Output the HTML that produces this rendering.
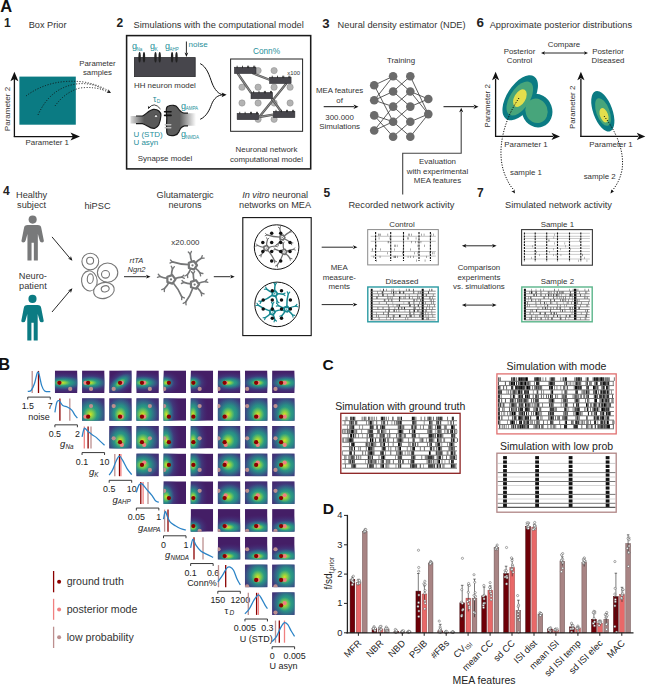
<!DOCTYPE html><html><head><meta charset="utf-8"><style>
html,body{margin:0;padding:0;background:#fff;}
svg{display:block;}
text{font-family:"Liberation Sans",sans-serif;}
</style></head><body>
<svg width="646" height="685" viewBox="0 0 646 685">
<rect width="646" height="685" fill="#fff"/>
<text x="0.3" y="11.9" font-size="16.5" text-anchor="start" fill="#111" font-weight="bold" font-style="normal" >A</text>
<text x="4.0" y="26.6" font-size="12" text-anchor="start" fill="#222" font-weight="bold" font-style="normal" >1</text>
<text x="28.7" y="27.9" font-size="9.2" text-anchor="start" fill="#333" font-weight="normal" font-style="normal" >Box Prior</text>
<rect x="19.4" y="76.6" width="56.4" height="48.1" fill="#0b7b83"/>
<line x1="14.4" y1="137.0" x2="14.4" y2="78.0" stroke="#111" stroke-width="1.3" />
<path d="M14.4,71.8 L18.4,81.3 L14.4,78.9 L10.4,81.3Z" fill="#111"/>
<line x1="13.8" y1="136.6" x2="74.0" y2="136.6" stroke="#111" stroke-width="1.3" />
<path d="M80.0,136.6 L70.5,140.6 L72.9,136.6 L70.5,132.6Z" fill="#111"/>
<text x="9.6" y="109.0" font-size="8.1" text-anchor="middle" fill="#333" font-weight="normal" font-style="normal" transform="rotate(-90 9.6 109)">Parameter 2</text>
<text x="25.6" y="145.3" font-size="7.9" text-anchor="start" fill="#333" font-weight="normal" font-style="normal" >Parameter 1</text>
<g fill="none" stroke="#111" stroke-width="0.9" stroke-dasharray="1.1 1.6">
<path d="M26,96 Q50,78 84,82 Q100,85 110,92"/>
<path d="M38,115 Q50,88 76,84 Q92,82 104,90"/>
<path d="M55,106 Q65,92 80,88 Q96,86 108,92"/>
</g>
<path d="M111.0,93.0 L106.5,92.8 L108.4,91.6 L108.4,89.3Z" fill="#111"/>
<text x="97.5" y="66.0" font-size="7.8" text-anchor="middle" fill="#333" font-weight="normal" font-style="normal" >Parameter</text>
<text x="97.5" y="75.2" font-size="7.8" text-anchor="middle" fill="#333" font-weight="normal" font-style="normal" >samples</text>
<text x="116.4" y="26.5" font-size="12" text-anchor="start" fill="#222" font-weight="bold" font-style="normal" >2</text>
<text x="133.6" y="28.0" font-size="9.25" text-anchor="start" fill="#333" font-weight="normal" font-style="normal" >Simulations with the computational model</text>
<rect x="126.6" y="35.6" width="184.1" height="133.3" fill="none" stroke="#1a1a1a" stroke-width="1.55"/>
<rect x="134.4" y="57.6" width="60.8" height="19" fill="#47464c" stroke="#2b2b2e" stroke-width="0.8"/>
<ellipse cx="139.6" cy="57.3" rx="1.2" ry="5.2" fill="#222"/>
<ellipse cx="144" cy="57.3" rx="1.2" ry="5.2" fill="#222"/>
<ellipse cx="155.5" cy="57.3" rx="1.2" ry="5.2" fill="#222"/>
<ellipse cx="159.7" cy="57.3" rx="1.2" ry="5.2" fill="#222"/>
<ellipse cx="172.1" cy="57.3" rx="1.2" ry="5.2" fill="#222"/>
<ellipse cx="176.5" cy="57.3" rx="1.2" ry="5.2" fill="#222"/>
<text x="132.0" y="49.0" font-size="9" text-anchor="start" fill="#1f8f9a" font-weight="normal" font-style="normal" >g</text>
<text x="136.6" y="50.8" font-size="4.5" text-anchor="start" fill="#1f8f9a" font-weight="normal" font-style="normal" >Na</text>
<text x="150.1" y="49.0" font-size="9" text-anchor="start" fill="#1f8f9a" font-weight="normal" font-style="normal" >g</text>
<text x="154.7" y="50.8" font-size="4.5" text-anchor="start" fill="#1f8f9a" font-weight="normal" font-style="normal" >K</text>
<text x="165.0" y="49.0" font-size="9" text-anchor="start" fill="#1f8f9a" font-weight="normal" font-style="normal" >g</text>
<text x="169.6" y="50.8" font-size="4.5" text-anchor="start" fill="#1f8f9a" font-weight="normal" font-style="normal" >AHP</text>
<line x1="186.4" y1="41.5" x2="186.4" y2="53.0" stroke="#111" stroke-width="0.9" />
<path d="M186.4,57.0 L184.6,52.5 L186.4,53.6 L188.2,52.5Z" fill="#111"/>
<text x="188.5" y="46.5" font-size="8" text-anchor="start" fill="#1f8f9a" font-weight="normal" font-style="normal" >noise</text>
<text x="134.0" y="88.0" font-size="7.9" text-anchor="start" fill="#333" font-weight="normal" font-style="normal" >HH neuron model</text>
<defs><linearGradient id="preF" x1="0" x2="1"><stop offset="0" stop-color="#ddd"/><stop offset="0.45" stop-color="#595959"/></linearGradient><linearGradient id="preS" x1="0" x2="1"><stop offset="0" stop-color="#111" stop-opacity="0"/><stop offset="0.4" stop-color="#111" stop-opacity="1"/></linearGradient><linearGradient id="postF" x1="0" x2="1"><stop offset="0.45" stop-color="#5c5c5c"/><stop offset="1" stop-color="#fff"/></linearGradient><linearGradient id="postS" x1="0" x2="1"><stop offset="0.5" stop-color="#111" stop-opacity="1"/><stop offset="0.62" stop-color="#111" stop-opacity="0"/></linearGradient></defs>
<path d="M130.5,116 L142.5,116 C146,114.5 149,110 153.3,109.4 C158,109 161,112 160.9,115.3 C160.6,120 159,127 154.9,128.3 C151,129.5 147,125 142.5,123.6 L130.5,123.6 Z" fill="url(#preF)"/>
<path d="M136,116 L142.5,116 C146,114.5 149,110 153.3,109.4 C158,109 161,112 160.9,115.3 C160.6,120 159,127 154.9,128.3 C151,129.5 147,125 142.5,123.6 L136,123.6" fill="none" stroke="#1a1a1a" stroke-width="1.2"/>
<circle cx="156" cy="116.2" r="1.5" fill="#eee" stroke="#111" stroke-width="0.5"/>
<path d="M167.5,106.5 C171.5,104.5 176,105 177.5,107.5 C179,110 181,112.8 184.5,113.2 L196,113.2 L196,125.8 L184.5,125.8 C181,126.5 179.8,129 178.8,132 C177.5,135.5 172,136.3 168.5,135 C165.8,134 167,130 166.6,127 C166.2,123 167.2,119 166.6,115 C166.2,111.5 165.6,108 167.5,106.5 Z" fill="url(#postF)"/>
<path d="M188,113.2 L184.5,113.2 C181,112.8 179,110 177.5,107.5 C176,105 171.5,104.5 167.5,106.5 C165.6,108 166.2,111.5 166.6,115 C167.2,119 166.2,123 166.6,127 C167,130 165.8,134 168.5,135 C172,136.3 177.5,135.5 178.8,132 C179.8,129 181,126.5 184.5,125.8 L188,125.8" fill="none" stroke="#1a1a1a" stroke-width="1.2"/>
<rect x="163.8" y="111" width="8" height="1.6" fill="#111" rx="0.8"/>
<rect x="163.8" y="114.6" width="8" height="1.6" fill="#111" rx="0.8"/>
<rect x="164.5" y="124" width="7" height="1.4" fill="#bbb" rx="0.7"/>
<rect x="164.5" y="127.1" width="7" height="1.4" fill="#bbb" rx="0.7"/>
<path d="M148.5,108.5 Q154,101 160.5,109" fill="none" stroke="#111" stroke-width="0.8"/>
<path d="M148.3,109.0 L147.9,105.7 L149.0,106.9 L150.6,106.6Z" fill="#111"/>
<text x="153.0" y="101.8" font-size="8.5" text-anchor="start" fill="#1f8f9a" font-weight="normal" font-style="normal" >τ</text>
<text x="156.8" y="103.2" font-size="5" text-anchor="start" fill="#1f8f9a" font-weight="normal" font-style="normal" >D</text>
<text x="181.1" y="108.6" font-size="9" text-anchor="start" fill="#1f8f9a" font-weight="normal" font-style="normal" >g</text>
<text x="185.7" y="110.4" font-size="4.5" text-anchor="start" fill="#1f8f9a" font-weight="normal" font-style="normal" >AMPA</text>
<text x="181.1" y="136.8" font-size="9" text-anchor="start" fill="#1f8f9a" font-weight="normal" font-style="normal" >g</text>
<text x="185.7" y="138.6" font-size="4.5" text-anchor="start" fill="#1f8f9a" font-weight="normal" font-style="normal" >NMDA</text>
<text x="133.4" y="137.0" font-size="8" text-anchor="start" fill="#1f8f9a" font-weight="normal" font-style="normal" >U (STD)</text>
<text x="133.4" y="144.5" font-size="8" text-anchor="start" fill="#1f8f9a" font-weight="normal" font-style="normal" >U asyn</text>
<text x="137.8" y="161.2" font-size="7.9" text-anchor="start" fill="#333" font-weight="normal" font-style="normal" >Synapse model</text>
<path d="M200.2,63.6 C207,67 209.5,76 212,83 C214.5,89.5 218.5,94.3 223,94.7" fill="none" stroke="#111" stroke-width="1"/>
<path d="M200.2,119.3 C206.5,116.5 209.5,110 211.5,104.5 C214,98 218,95 223,94.8" fill="none" stroke="#111" stroke-width="1"/>
<path d="M226.6,94.8 L221.6,97.2 L222.8,94.8 L221.6,92.4Z" fill="#111"/>
<rect x="230.6" y="59" width="72" height="72.3" fill="none" stroke="#222" stroke-width="1"/>
<text x="266.5" y="53.8" font-size="8.3" text-anchor="middle" fill="#1f8f9a" font-weight="normal" font-style="normal" >Conn%</text>
<circle cx="258.1" cy="70.6" r="3.15" fill="#b3b3b3" stroke="#8a8a8a" stroke-width="0.5"/>
<circle cx="274.1" cy="70.6" r="3.15" fill="#b3b3b3" stroke="#8a8a8a" stroke-width="0.5"/>
<circle cx="242" cy="87.2" r="3.15" fill="#b3b3b3" stroke="#8a8a8a" stroke-width="0.5"/>
<circle cx="258.1" cy="87.2" r="3.15" fill="#b3b3b3" stroke="#8a8a8a" stroke-width="0.5"/>
<circle cx="274.1" cy="87.2" r="3.15" fill="#b3b3b3" stroke="#8a8a8a" stroke-width="0.5"/>
<circle cx="290.1" cy="87.2" r="3.15" fill="#b3b3b3" stroke="#8a8a8a" stroke-width="0.5"/>
<circle cx="242" cy="103" r="3.15" fill="#b3b3b3" stroke="#8a8a8a" stroke-width="0.5"/>
<circle cx="258.1" cy="103" r="3.15" fill="#b3b3b3" stroke="#8a8a8a" stroke-width="0.5"/>
<circle cx="274.1" cy="103" r="3.15" fill="#b3b3b3" stroke="#8a8a8a" stroke-width="0.5"/>
<circle cx="290.1" cy="103" r="3.15" fill="#b3b3b3" stroke="#8a8a8a" stroke-width="0.5"/>
<circle cx="258.1" cy="119.3" r="3.15" fill="#b3b3b3" stroke="#8a8a8a" stroke-width="0.5"/>
<circle cx="274.1" cy="119.3" r="3.15" fill="#b3b3b3" stroke="#8a8a8a" stroke-width="0.5"/>
<line x1="237.4" y1="73" x2="251.2" y2="93" stroke="#555" stroke-width="2.3"/>
<line x1="237.4" y1="73" x2="251.2" y2="93" stroke="#9a9a9a" stroke-width="0.9"/>
<line x1="252.3" y1="73" x2="269.5" y2="79.8" stroke="#555" stroke-width="2.3"/>
<line x1="252.3" y1="73" x2="269.5" y2="79.8" stroke="#9a9a9a" stroke-width="0.9"/>
<line x1="286.7" y1="83" x2="259.2" y2="117" stroke="#555" stroke-width="2.3"/>
<line x1="286.7" y1="83" x2="259.2" y2="117" stroke="#9a9a9a" stroke-width="0.9"/>
<line x1="271.8" y1="98.5" x2="281.5" y2="112" stroke="#555" stroke-width="2.3"/>
<line x1="271.8" y1="98.5" x2="281.5" y2="112" stroke="#9a9a9a" stroke-width="0.9"/>
<line x1="259.2" y1="117" x2="273.3" y2="114.6" stroke="#555" stroke-width="2.3"/>
<line x1="259.2" y1="117" x2="273.3" y2="114.6" stroke="#9a9a9a" stroke-width="0.9"/>
<rect x="234.4" y="67.2" width="21.6" height="6.4" fill="#47464c" stroke="#2b2b2e" stroke-width="0.5"/>
<rect x="236.70000000000002" y="65.7" width="0.8" height="2.4" fill="#222"/>
<rect x="242.0" y="65.7" width="0.8" height="2.4" fill="#222"/>
<rect x="247.3" y="65.7" width="0.8" height="2.4" fill="#222"/>
<rect x="248.3" y="65.7" width="0.8" height="2.4" fill="#222"/>
<rect x="253.4" y="65.7" width="0.8" height="2.4" fill="#222"/>
<rect x="254.4" y="65.7" width="0.8" height="2.4" fill="#222"/>
<rect x="269.5" y="77.2" width="21.6" height="6.4" fill="#47464c" stroke="#2b2b2e" stroke-width="0.5"/>
<rect x="271.8" y="75.7" width="0.8" height="2.4" fill="#222"/>
<rect x="277.1" y="75.7" width="0.8" height="2.4" fill="#222"/>
<rect x="282.4" y="75.7" width="0.8" height="2.4" fill="#222"/>
<rect x="283.4" y="75.7" width="0.8" height="2.4" fill="#222"/>
<rect x="288.5" y="75.7" width="0.8" height="2.4" fill="#222"/>
<rect x="289.5" y="75.7" width="0.8" height="2.4" fill="#222"/>
<rect x="251" y="92.4" width="21.6" height="6.4" fill="#47464c" stroke="#2b2b2e" stroke-width="0.5"/>
<rect x="253.3" y="90.9" width="0.8" height="2.4" fill="#222"/>
<rect x="258.6" y="90.9" width="0.8" height="2.4" fill="#222"/>
<rect x="263.9" y="90.9" width="0.8" height="2.4" fill="#222"/>
<rect x="264.9" y="90.9" width="0.8" height="2.4" fill="#222"/>
<rect x="270" y="90.9" width="0.8" height="2.4" fill="#222"/>
<rect x="271" y="90.9" width="0.8" height="2.4" fill="#222"/>
<rect x="237.1" y="113.3" width="21.6" height="6.4" fill="#47464c" stroke="#2b2b2e" stroke-width="0.5"/>
<rect x="239.4" y="111.8" width="0.8" height="2.4" fill="#222"/>
<rect x="244.7" y="111.8" width="0.8" height="2.4" fill="#222"/>
<rect x="250.0" y="111.8" width="0.8" height="2.4" fill="#222"/>
<rect x="251.0" y="111.8" width="0.8" height="2.4" fill="#222"/>
<rect x="256.1" y="111.8" width="0.8" height="2.4" fill="#222"/>
<rect x="257.1" y="111.8" width="0.8" height="2.4" fill="#222"/>
<rect x="273.3" y="111.3" width="21.6" height="6.4" fill="#47464c" stroke="#2b2b2e" stroke-width="0.5"/>
<rect x="275.6" y="109.8" width="0.8" height="2.4" fill="#222"/>
<rect x="280.90000000000003" y="109.8" width="0.8" height="2.4" fill="#222"/>
<rect x="286.2" y="109.8" width="0.8" height="2.4" fill="#222"/>
<rect x="287.2" y="109.8" width="0.8" height="2.4" fill="#222"/>
<rect x="292.3" y="109.8" width="0.8" height="2.4" fill="#222"/>
<rect x="293.3" y="109.8" width="0.8" height="2.4" fill="#222"/>
<text x="287.2" y="74.5" font-size="5.9" text-anchor="start" fill="#333" font-weight="normal" font-style="normal" >x100</text>
<text x="266.5" y="152.3" font-size="7.9" text-anchor="middle" fill="#333" font-weight="normal" font-style="normal" >Neuronal network</text>
<text x="266.5" y="161.5" font-size="7.9" text-anchor="middle" fill="#333" font-weight="normal" font-style="normal" >computational model</text>
<text x="322.3" y="27.5" font-size="13.2" text-anchor="start" fill="#222" font-weight="bold" font-style="normal" >3</text>
<text x="337.6" y="28.0" font-size="9.25" text-anchor="start" fill="#333" font-weight="normal" font-style="normal" >Neural density estimator (NDE)</text>
<text x="401.0" y="62.5" font-size="7.9" text-anchor="middle" fill="#333" font-weight="normal" font-style="normal" >Training</text>
<text x="339.6" y="93.0" font-size="7.9" text-anchor="middle" fill="#333" font-weight="normal" font-style="normal" >MEA features</text>
<text x="339.6" y="102.5" font-size="7.9" text-anchor="middle" fill="#333" font-weight="normal" font-style="normal" >of</text>
<text x="339.6" y="119.5" font-size="7.9" text-anchor="middle" fill="#333" font-weight="normal" font-style="normal" >300.000</text>
<text x="339.6" y="129.0" font-size="7.9" text-anchor="middle" fill="#333" font-weight="normal" font-style="normal" >Simulations</text>
<line x1="323.7" y1="106.7" x2="354.0" y2="106.7" stroke="#111" stroke-width="1" />
<path d="M358.5,106.7 L353.5,108.9 L354.8,106.7 L353.5,104.5Z" fill="#111"/>
<line x1="374.2" y1="85.2" x2="393.1" y2="76.3" stroke="#333" stroke-width="0.8" />
<line x1="374.2" y1="85.2" x2="393.1" y2="121.7" stroke="#333" stroke-width="0.8" />
<line x1="374.2" y1="100.3" x2="393.1" y2="91.5" stroke="#333" stroke-width="0.8" />
<line x1="374.2" y1="100.3" x2="393.1" y2="106.6" stroke="#333" stroke-width="0.8" />
<line x1="374.2" y1="115.4" x2="393.1" y2="121.7" stroke="#333" stroke-width="0.8" />
<line x1="374.2" y1="115.4" x2="393.1" y2="136.7" stroke="#333" stroke-width="0.8" />
<line x1="374.2" y1="130.5" x2="393.1" y2="106.6" stroke="#333" stroke-width="0.8" />
<line x1="374.2" y1="130.5" x2="393.1" y2="121.7" stroke="#333" stroke-width="0.8" />
<line x1="374.2" y1="100.3" x2="393.1" y2="76.3" stroke="#333" stroke-width="0.8" />
<line x1="393.1" y1="76.3" x2="410.3" y2="91.5" stroke="#333" stroke-width="0.8" />
<line x1="393.1" y1="91.5" x2="410.3" y2="76.3" stroke="#333" stroke-width="0.8" />
<line x1="393.1" y1="91.5" x2="410.3" y2="106.6" stroke="#333" stroke-width="0.8" />
<line x1="393.1" y1="106.6" x2="410.3" y2="91.5" stroke="#333" stroke-width="0.8" />
<line x1="393.1" y1="106.6" x2="410.3" y2="121.7" stroke="#333" stroke-width="0.8" />
<line x1="393.1" y1="121.7" x2="410.3" y2="106.6" stroke="#333" stroke-width="0.8" />
<line x1="393.1" y1="121.7" x2="410.3" y2="136.7" stroke="#333" stroke-width="0.8" />
<line x1="393.1" y1="136.7" x2="410.3" y2="121.7" stroke="#333" stroke-width="0.8" />
<line x1="410.3" y1="76.3" x2="428.3" y2="114.1" stroke="#333" stroke-width="0.8" />
<line x1="410.3" y1="91.5" x2="428.3" y2="114.1" stroke="#333" stroke-width="0.8" />
<line x1="410.3" y1="106.6" x2="428.3" y2="99.0" stroke="#333" stroke-width="0.8" />
<line x1="410.3" y1="121.7" x2="428.3" y2="114.1" stroke="#333" stroke-width="0.8" />
<line x1="410.3" y1="136.7" x2="428.3" y2="114.1" stroke="#333" stroke-width="0.8" />
<line x1="410.3" y1="91.5" x2="428.3" y2="99.0" stroke="#333" stroke-width="0.8" />
<circle cx="374.2" cy="85.2" r="4.3" fill="#6b6b6b"/>
<circle cx="374.2" cy="100.3" r="4.3" fill="#6b6b6b"/>
<circle cx="374.2" cy="115.4" r="4.3" fill="#6b6b6b"/>
<circle cx="374.2" cy="130.5" r="4.3" fill="#6b6b6b"/>
<circle cx="393.1" cy="76.3" r="4.3" fill="#6b6b6b"/>
<circle cx="393.1" cy="91.5" r="4.3" fill="#6b6b6b"/>
<circle cx="393.1" cy="106.6" r="4.3" fill="#6b6b6b"/>
<circle cx="393.1" cy="121.7" r="4.3" fill="#6b6b6b"/>
<circle cx="393.1" cy="136.7" r="4.3" fill="#6b6b6b"/>
<circle cx="410.3" cy="76.3" r="4.3" fill="#6b6b6b"/>
<circle cx="410.3" cy="91.5" r="4.3" fill="#6b6b6b"/>
<circle cx="410.3" cy="106.6" r="4.3" fill="#6b6b6b"/>
<circle cx="410.3" cy="121.7" r="4.3" fill="#6b6b6b"/>
<circle cx="410.3" cy="136.7" r="4.3" fill="#6b6b6b"/>
<circle cx="428.3" cy="99" r="4.3" fill="#6b6b6b"/>
<circle cx="428.3" cy="114.1" r="4.3" fill="#6b6b6b"/>
<line x1="443.5" y1="106.7" x2="474.0" y2="106.7" stroke="#111" stroke-width="1" />
<path d="M478.5,106.7 L473.5,108.9 L474.8,106.7 L473.5,104.5Z" fill="#111"/>
<path d="M402.7,194.5 L402.7,153.2 L461.2,153.2 L461.2,112" fill="none" stroke="#444" stroke-width="1.1"/>
<path d="M461.2,107.8 L463.2,112.3 L461.2,111.2 L459.2,112.3Z" fill="#111"/>
<text x="437.5" y="164.0" font-size="7.9" text-anchor="middle" fill="#333" font-weight="normal" font-style="normal" >Evaluation</text>
<text x="437.5" y="173.7" font-size="7.9" text-anchor="middle" fill="#333" font-weight="normal" font-style="normal" >with experimental</text>
<text x="437.5" y="182.6" font-size="7.9" text-anchor="middle" fill="#333" font-weight="normal" font-style="normal" >MEA features</text>
<text x="476.4" y="27.3" font-size="13.4" text-anchor="start" fill="#222" font-weight="bold" font-style="normal" >6</text>
<text x="489.7" y="28.0" font-size="9.25" text-anchor="start" fill="#333" font-weight="normal" font-style="normal" >Approximate posterior distributions</text>
<text x="519.5" y="53.5" font-size="7.9" text-anchor="middle" fill="#333" font-weight="normal" font-style="normal" >Posterior</text>
<text x="519.5" y="62.5" font-size="7.9" text-anchor="middle" fill="#333" font-weight="normal" font-style="normal" >Control</text>
<text x="608.0" y="53.5" font-size="7.9" text-anchor="middle" fill="#333" font-weight="normal" font-style="normal" >Posterior</text>
<text x="608.0" y="62.5" font-size="7.9" text-anchor="middle" fill="#333" font-weight="normal" font-style="normal" >Diseased</text>
<text x="564.0" y="47.3" font-size="7.9" text-anchor="middle" fill="#333" font-weight="normal" font-style="normal" >Compare</text>
<line x1="544.0" y1="53.0" x2="585.0" y2="53.0" stroke="#111" stroke-width="0.9" />
<path d="M541.0,53.0 L545.0,51.2 L544.0,53.0 L545.0,54.8Z" fill="#111"/>
<path d="M588.0,53.0 L584.0,54.8 L585.0,53.0 L584.0,51.2Z" fill="#111"/>
<ellipse cx="537" cy="110.6" rx="15.2" ry="17" transform="rotate(-20 537 110.6)" fill="#0b7b83"/>
<ellipse cx="520.2" cy="97.8" rx="13.2" ry="25.5" transform="rotate(33 520.2 97.8)" fill="#0b7b83"/>
<ellipse cx="519.8" cy="98.5" rx="9.8" ry="19.2" transform="rotate(33 519.8 98.5)" fill="#47a57b"/>
<ellipse cx="536.5" cy="110.8" rx="11" ry="12.4" transform="rotate(-20 536.5 110.8)" fill="#47a57b"/>
<ellipse cx="519.9" cy="98.1" rx="5.6" ry="9.6" transform="rotate(30 519.9 98.1)" fill="#e4df4c"/>
<ellipse cx="602.8" cy="111.2" rx="9.6" ry="21.3" transform="rotate(-20 602.8 111.2)" fill="#0b7b83"/>
<ellipse cx="603" cy="112" rx="6.6" ry="14.5" transform="rotate(-20 603 112)" fill="#47a57b"/>
<ellipse cx="604" cy="115.2" rx="4" ry="7.5" transform="rotate(-20 604 115.2)" fill="#e4df4c"/>
<line x1="495.6" y1="137.0" x2="495.6" y2="79.0" stroke="#111" stroke-width="1.3" />
<path d="M495.6,71.8 L499.2,80.3 L495.6,78.2 L492.0,80.3Z" fill="#111"/>
<line x1="495.0" y1="136.4" x2="553.0" y2="136.4" stroke="#111" stroke-width="1.3" />
<path d="M560.0,136.4 L551.5,140.0 L553.6,136.4 L551.5,132.8Z" fill="#111"/>
<line x1="580.9" y1="137.0" x2="580.9" y2="79.0" stroke="#111" stroke-width="1.3" />
<path d="M580.9,71.8 L584.5,80.3 L580.9,78.2 L577.3,80.3Z" fill="#111"/>
<line x1="580.3" y1="136.4" x2="638.3" y2="136.4" stroke="#111" stroke-width="1.3" />
<path d="M645.3,136.4 L636.8,140.0 L638.9,136.4 L636.8,132.8Z" fill="#111"/>
<text x="490.3" y="105.9" font-size="7.9" text-anchor="middle" fill="#333" font-weight="normal" font-style="normal" transform="rotate(-90 490.3 105.9)">Parameter 2</text>
<text x="575.4" y="107.4" font-size="7.9" text-anchor="middle" fill="#333" font-weight="normal" font-style="normal" transform="rotate(-90 575.4 107.4)">Parameter 2</text>
<text x="526.0" y="146.5" font-size="7.9" text-anchor="middle" fill="#333" font-weight="normal" font-style="normal" >Parameter 1</text>
<text x="611.0" y="146.5" font-size="7.9" text-anchor="middle" fill="#333" font-weight="normal" font-style="normal" >Parameter 1</text>
<g fill="none" stroke="#111" stroke-width="1.0" stroke-dasharray="1.2 1.4">
<path d="M519,98 C505,118 495,150 505,175 C508,182 510,186 514,190"/>
<path d="M604,116 C615,130 625,150 622,170 C620,180 616,186 612,191"/>
</g>
<path d="M515.0,193.5 L511.3,191.1 L513.4,191.0 L514.4,189.2Z" fill="#111"/>
<path d="M610.5,193.5 L611.4,189.2 L612.3,191.1 L614.3,191.3Z" fill="#111"/>
<text x="526.0" y="174.5" font-size="7.9" text-anchor="middle" fill="#333" font-weight="normal" font-style="normal" >sample 1</text>
<text x="599.7" y="179.0" font-size="7.9" text-anchor="middle" fill="#333" font-weight="normal" font-style="normal" >sample 2</text>
<text x="3.0" y="195.0" font-size="12" text-anchor="start" fill="#222" font-weight="bold" font-style="normal" >4</text>
<text x="31.6" y="197.5" font-size="9.2" text-anchor="middle" fill="#333" font-weight="normal" font-style="normal" >Healthy</text>
<text x="31.6" y="207.8" font-size="9.2" text-anchor="middle" fill="#333" font-weight="normal" font-style="normal" >subject</text>
<text x="32.9" y="278.9" font-size="9.2" text-anchor="middle" fill="#333" font-weight="normal" font-style="normal" >Neuro-</text>
<text x="32.9" y="289.1" font-size="9.2" text-anchor="middle" fill="#333" font-weight="normal" font-style="normal" >patient</text>
<circle cx="32.65" cy="219.6" r="4.05" fill="#78797a"/>
<path d="M27.65,225.1 L37.65,225.1 Q41.05,225.1 41.349999999999994,228.29999999999998 L43.849999999999994,240.8 Q43.95,242.4 42.15,242.4 Q40.05,242.4 39.75,240.8 L37.85,234.1 L37.85,260.6 L33.85,260.6 L33.85,242.8 L31.549999999999997,242.8 L31.549999999999997,260.6 L27.45,260.6 L27.45,234.1 L25.549999999999997,240.8 Q25.25,242.4 23.15,242.4 Q21.349999999999998,242.4 21.45,240.8 L23.95,228.29999999999998 Q24.25,225.1 27.65,225.1 Z" fill="#78797a"/>
<circle cx="32.5" cy="298.9" r="4.05" fill="#0b7b83"/>
<path d="M27.5,304.9 L37.5,304.9 Q40.9,304.9 41.2,308.09999999999997 L43.7,320.7 Q43.8,322.3 42.0,322.3 Q39.9,322.3 39.6,320.7 L37.7,313.9 L37.7,340.6 L33.7,340.6 L33.7,322.7 L31.4,322.7 L31.4,340.6 L27.3,340.6 L27.3,313.9 L25.4,320.7 Q25.1,322.3 23.0,322.3 Q21.2,322.3 21.3,320.7 L23.8,308.09999999999997 Q24.1,304.9 27.5,304.9 Z" fill="#0b7b83"/>
<line x1="52.0" y1="236.9" x2="70.0" y2="258.3" stroke="#111" stroke-width="0.9" />
<path d="M72.4,260.8 L68.0,258.6 L70.2,258.2 L70.9,256.1Z" fill="#111"/>
<line x1="52.0" y1="312.0" x2="70.0" y2="290.7" stroke="#111" stroke-width="0.9" />
<path d="M72.4,288.2 L70.9,292.9 L70.2,290.8 L68.0,290.4Z" fill="#111"/>
<text x="97.5" y="209.3" font-size="9.2" text-anchor="middle" fill="#333" font-weight="normal" font-style="normal" >hiPSC</text>
<ellipse cx="90.3" cy="261.6" rx="8.4" ry="8.3" transform="rotate(0 90.3 261.6)" fill="#fff" stroke="#767676" stroke-width="1.1"/>
<ellipse cx="107.6" cy="272.6" rx="10.2" ry="9.6" transform="rotate(0 107.6 272.6)" fill="#fff" stroke="#767676" stroke-width="1.1"/>
<ellipse cx="89.4" cy="280.9" rx="7.8" ry="10.1" transform="rotate(-5 89.4 280.9)" fill="#fff" stroke="#767676" stroke-width="1.1"/>
<ellipse cx="103.9" cy="290.5" rx="10.5" ry="7.9" transform="rotate(-15 103.9 290.5)" fill="#fff" stroke="#767676" stroke-width="1.1"/>
<ellipse cx="90.1" cy="260.8" rx="3.5" ry="3.5" transform="rotate(0 90.1 260.8)" fill="none" stroke="#767676" stroke-width="1.1"/>
<ellipse cx="105.5" cy="274.3" rx="4" ry="3.8" transform="rotate(0 105.5 274.3)" fill="none" stroke="#767676" stroke-width="1.1"/>
<ellipse cx="90.3" cy="278.7" rx="3" ry="4.8" transform="rotate(5 90.3 278.7)" fill="none" stroke="#767676" stroke-width="1.1"/>
<ellipse cx="105.2" cy="288.8" rx="4" ry="3" transform="rotate(-15 105.2 288.8)" fill="none" stroke="#767676" stroke-width="1.1"/>
<text x="136.5" y="262.6" font-size="7.6" text-anchor="middle" fill="#333" font-weight="normal" font-style="italic" >rtTA</text>
<text x="136.5" y="271.6" font-size="7.6" text-anchor="middle" fill="#333" font-weight="normal" font-style="italic" >Ngn2</text>
<line x1="124.0" y1="276.7" x2="146.5" y2="276.7" stroke="#111" stroke-width="0.9" />
<path d="M150.5,276.7 L146.0,278.6 L147.1,276.7 L146.0,274.8Z" fill="#111"/>
<text x="185.1" y="197.6" font-size="9.2" text-anchor="middle" fill="#333" font-weight="normal" font-style="normal" >Glutamatergic</text>
<text x="185.1" y="208.0" font-size="9.2" text-anchor="middle" fill="#333" font-weight="normal" font-style="normal" >neurons</text>
<text x="185.4" y="245.0" font-size="7.9" text-anchor="middle" fill="#333" font-weight="normal" font-style="normal" >x20.000</text>
<path d="M191.81,261.77 Q190.43,258.00 190.30,254.00" fill="none" stroke="#767778" stroke-width="1.7" stroke-linecap="round"/>
<line x1="190.30" y1="254.00" x2="188.31" y2="252.03" stroke="#767778" stroke-width="1.36" stroke-linecap="round"/>
<line x1="190.30" y1="254.00" x2="191.41" y2="251.43" stroke="#767778" stroke-width="1.36" stroke-linecap="round"/>
<path d="M195.33,263.07 Q197.98,260.20 201.40,258.30" fill="none" stroke="#767778" stroke-width="1.7" stroke-linecap="round"/>
<line x1="201.40" y1="258.30" x2="202.24" y2="255.63" stroke="#767778" stroke-width="1.36" stroke-linecap="round"/>
<line x1="201.40" y1="258.30" x2="204.19" y2="258.11" stroke="#767778" stroke-width="1.36" stroke-linecap="round"/>
<path d="M188.95,264.70 Q180.50,264.61 172.50,261.90" fill="none" stroke="#767778" stroke-width="1.7" stroke-linecap="round"/>
<line x1="172.50" y1="261.90" x2="169.96" y2="263.07" stroke="#767778" stroke-width="1.36" stroke-linecap="round"/>
<line x1="172.50" y1="261.90" x2="170.49" y2="259.95" stroke="#767778" stroke-width="1.36" stroke-linecap="round"/>
<path d="M190.78,268.46 Q189.59,271.85 187.40,274.70" fill="none" stroke="#767778" stroke-width="1.7" stroke-linecap="round"/>
<line x1="187.40" y1="274.70" x2="187.69" y2="277.49" stroke="#767778" stroke-width="1.36" stroke-linecap="round"/>
<line x1="187.40" y1="274.70" x2="184.91" y2="275.98" stroke="#767778" stroke-width="1.36" stroke-linecap="round"/>
<path d="M195.03,267.86 Q197.98,270.03 200.10,273.00" fill="none" stroke="#767778" stroke-width="1.7" stroke-linecap="round"/>
<line x1="200.10" y1="273.00" x2="202.85" y2="273.53" stroke="#767778" stroke-width="1.36" stroke-linecap="round"/>
<line x1="200.10" y1="273.00" x2="200.60" y2="275.76" stroke="#767778" stroke-width="1.36" stroke-linecap="round"/>
<path d="M193.83,261.00 L197.00,265.24 L193.95,269.56 L188.90,268.00 L188.82,262.71Z" fill="#fff" stroke="#767778" stroke-width="2.21" stroke-linejoin="round"/>
<circle cx="192.5" cy="265.3" r="1.125" fill="#767778"/>
<path d="M171.50,275.83 Q171.43,272.19 172.50,268.70" fill="none" stroke="#767778" stroke-width="1.7" stroke-linecap="round"/>
<line x1="172.50" y1="268.70" x2="171.26" y2="266.19" stroke="#767778" stroke-width="1.36" stroke-linecap="round"/>
<line x1="172.50" y1="268.70" x2="174.39" y2="266.63" stroke="#767778" stroke-width="1.36" stroke-linecap="round"/>
<path d="M167.53,278.44 Q163.65,278.02 160.10,276.40" fill="none" stroke="#767778" stroke-width="1.7" stroke-linecap="round"/>
<line x1="160.10" y1="276.40" x2="157.45" y2="277.31" stroke="#767778" stroke-width="1.36" stroke-linecap="round"/>
<line x1="160.10" y1="276.40" x2="158.29" y2="274.26" stroke="#767778" stroke-width="1.36" stroke-linecap="round"/>
<path d="M174.53,278.68 Q178.05,277.36 181.80,277.20" fill="none" stroke="#767778" stroke-width="1.7" stroke-linecap="round"/>
<line x1="181.80" y1="277.20" x2="183.75" y2="275.19" stroke="#767778" stroke-width="1.36" stroke-linecap="round"/>
<line x1="181.80" y1="277.20" x2="184.38" y2="278.29" stroke="#767778" stroke-width="1.36" stroke-linecap="round"/>
<path d="M168.92,282.34 Q167.17,285.88 164.40,288.70" fill="none" stroke="#767778" stroke-width="1.7" stroke-linecap="round"/>
<line x1="164.40" y1="288.70" x2="164.35" y2="291.50" stroke="#767778" stroke-width="1.36" stroke-linecap="round"/>
<line x1="164.40" y1="288.70" x2="161.77" y2="289.67" stroke="#767778" stroke-width="1.36" stroke-linecap="round"/>
<path d="M172.90,282.46 Q178.50,288.92 181.80,296.80" fill="none" stroke="#767778" stroke-width="1.7" stroke-linecap="round"/>
<line x1="181.80" y1="296.80" x2="184.36" y2="297.93" stroke="#767778" stroke-width="1.36" stroke-linecap="round"/>
<line x1="181.80" y1="296.80" x2="181.68" y2="299.60" stroke="#767778" stroke-width="1.36" stroke-linecap="round"/>
<path d="M172.33,275.10 L175.50,279.34 L172.45,283.66 L167.40,282.10 L167.32,276.81Z" fill="#fff" stroke="#767778" stroke-width="2.21" stroke-linejoin="round"/>
<circle cx="171" cy="279.4" r="1.125" fill="#767778"/>
<path d="M194.17,280.93 Q193.16,277.43 193.30,273.80" fill="none" stroke="#767778" stroke-width="1.7" stroke-linecap="round"/>
<line x1="193.30" y1="273.80" x2="191.45" y2="271.70" stroke="#767778" stroke-width="1.36" stroke-linecap="round"/>
<line x1="193.30" y1="273.80" x2="194.59" y2="271.32" stroke="#767778" stroke-width="1.36" stroke-linecap="round"/>
<path d="M191.07,283.80 Q187.42,283.67 184.00,282.40" fill="none" stroke="#767778" stroke-width="1.7" stroke-linecap="round"/>
<line x1="184.00" y1="282.40" x2="181.43" y2="283.50" stroke="#767778" stroke-width="1.36" stroke-linecap="round"/>
<line x1="184.00" y1="282.40" x2="182.04" y2="280.40" stroke="#767778" stroke-width="1.36" stroke-linecap="round"/>
<path d="M198.06,283.52 Q201.47,281.94 205.20,281.50" fill="none" stroke="#767778" stroke-width="1.7" stroke-linecap="round"/>
<line x1="205.20" y1="281.50" x2="206.99" y2="279.35" stroke="#767778" stroke-width="1.36" stroke-linecap="round"/>
<line x1="205.20" y1="281.50" x2="207.85" y2="282.39" stroke="#767778" stroke-width="1.36" stroke-linecap="round"/>
<path d="M196.85,287.31 Q199.58,289.79 201.40,293.00" fill="none" stroke="#767778" stroke-width="1.7" stroke-linecap="round"/>
<line x1="201.40" y1="293.00" x2="204.08" y2="293.82" stroke="#767778" stroke-width="1.36" stroke-linecap="round"/>
<line x1="201.40" y1="293.00" x2="201.61" y2="295.79" stroke="#767778" stroke-width="1.36" stroke-linecap="round"/>
<path d="M192.97,287.71 Q190.48,295.44 185.70,302.00" fill="none" stroke="#767778" stroke-width="1.7" stroke-linecap="round"/>
<line x1="185.70" y1="302.00" x2="186.06" y2="304.78" stroke="#767778" stroke-width="1.36" stroke-linecap="round"/>
<line x1="185.70" y1="302.00" x2="183.24" y2="303.34" stroke="#767778" stroke-width="1.36" stroke-linecap="round"/>
<path d="M195.93,280.20 L199.10,284.44 L196.05,288.76 L191.00,287.20 L190.92,281.91Z" fill="#fff" stroke="#767778" stroke-width="2.21" stroke-linejoin="round"/>
<circle cx="194.6" cy="284.5" r="1.125" fill="#767778"/>
<line x1="213.8" y1="276.7" x2="230.5" y2="276.7" stroke="#111" stroke-width="0.9" />
<path d="M234.7,276.7 L230.2,278.6 L231.3,276.7 L230.2,274.8Z" fill="#111"/>
<text x="275.1" y="197.6" font-size="9.2" text-anchor="middle" fill="#333" font-weight="normal" font-style="normal" ><tspan font-style="italic">In vitro</tspan> neuronal</text>
<text x="275.1" y="208.0" font-size="9.2" text-anchor="middle" fill="#333" font-weight="normal" font-style="normal" >networks on MEA</text>
<rect x="242.8" y="217.6" width="68.4" height="118" fill="none" stroke="#111" stroke-width="1.1"/>
<circle cx="276.6" cy="247.1" r="22.3" fill="#fff" stroke="#111" stroke-width="1"/>
<circle cx="277.1" cy="304.4" r="22.3" fill="#fff" stroke="#111" stroke-width="1"/>
<path d="M281.64,235.41 Q280.17,232.10 279.80,228.50" fill="none" stroke="#6f6f6f" stroke-width="1.25" stroke-linecap="round"/>
<line x1="279.80" y1="228.50" x2="278.28" y2="227.20" stroke="#6f6f6f" stroke-width="1.0" stroke-linecap="round"/>
<line x1="279.80" y1="228.50" x2="280.47" y2="226.61" stroke="#6f6f6f" stroke-width="1.0" stroke-linecap="round"/>
<path d="M283.95,236.24 Q286.63,233.59 290.00,231.90" fill="none" stroke="#6f6f6f" stroke-width="1.25" stroke-linecap="round"/>
<line x1="290.00" y1="231.90" x2="290.68" y2="230.02" stroke="#6f6f6f" stroke-width="1.0" stroke-linecap="round"/>
<line x1="290.00" y1="231.90" x2="292.00" y2="231.85" stroke="#6f6f6f" stroke-width="1.0" stroke-linecap="round"/>
<path d="M280.07,237.14 Q273.36,237.06 267.00,234.90" fill="none" stroke="#6f6f6f" stroke-width="1.25" stroke-linecap="round"/>
<line x1="267.00" y1="234.90" x2="265.18" y2="235.73" stroke="#6f6f6f" stroke-width="1.0" stroke-linecap="round"/>
<line x1="267.00" y1="234.90" x2="265.56" y2="233.51" stroke="#6f6f6f" stroke-width="1.0" stroke-linecap="round"/>
<path d="M281.02,239.31 Q279.92,241.79 278.10,243.80" fill="none" stroke="#6f6f6f" stroke-width="1.25" stroke-linecap="round"/>
<line x1="278.10" y1="243.80" x2="278.15" y2="245.80" stroke="#6f6f6f" stroke-width="1.0" stroke-linecap="round"/>
<line x1="278.10" y1="243.80" x2="276.25" y2="244.57" stroke="#6f6f6f" stroke-width="1.0" stroke-linecap="round"/>
<path d="M284.03,238.65 Q287.81,240.28 290.90,243.00" fill="none" stroke="#6f6f6f" stroke-width="1.25" stroke-linecap="round"/>
<line x1="290.90" y1="243.00" x2="292.90" y2="242.93" stroke="#6f6f6f" stroke-width="1.0" stroke-linecap="round"/>
<line x1="290.90" y1="243.00" x2="291.69" y2="244.84" stroke="#6f6f6f" stroke-width="1.0" stroke-linecap="round"/>
<path d="M283.00,234.92 L284.90,237.46 L283.07,240.06 L280.04,239.12 L279.99,235.94Z" fill="#fff" stroke="#6f6f6f" stroke-width="1.625" stroke-linejoin="round"/>
<circle cx="282.2" cy="237.5" r="0.675" fill="#6f6f6f"/>
<path d="M266.53,245.96 Q266.50,242.70 267.50,239.60" fill="none" stroke="#6f6f6f" stroke-width="1.25" stroke-linecap="round"/>
<line x1="267.50" y1="239.60" x2="266.63" y2="237.80" stroke="#6f6f6f" stroke-width="1.0" stroke-linecap="round"/>
<line x1="267.50" y1="239.60" x2="268.87" y2="238.14" stroke="#6f6f6f" stroke-width="1.0" stroke-linecap="round"/>
<path d="M264.13,247.47 Q260.76,247.00 257.70,245.50" fill="none" stroke="#6f6f6f" stroke-width="1.25" stroke-linecap="round"/>
<line x1="257.70" y1="245.50" x2="255.79" y2="246.10" stroke="#6f6f6f" stroke-width="1.0" stroke-linecap="round"/>
<line x1="257.70" y1="245.50" x2="256.45" y2="243.94" stroke="#6f6f6f" stroke-width="1.0" stroke-linecap="round"/>
<path d="M268.31,247.62 Q271.77,246.24 275.50,246.00" fill="none" stroke="#6f6f6f" stroke-width="1.25" stroke-linecap="round"/>
<line x1="275.50" y1="246.00" x2="276.86" y2="244.53" stroke="#6f6f6f" stroke-width="1.0" stroke-linecap="round"/>
<line x1="275.50" y1="246.00" x2="277.36" y2="246.74" stroke="#6f6f6f" stroke-width="1.0" stroke-linecap="round"/>
<path d="M264.90,249.83 Q263.41,252.67 261.10,254.90" fill="none" stroke="#6f6f6f" stroke-width="1.25" stroke-linecap="round"/>
<line x1="261.10" y1="254.90" x2="261.01" y2="256.90" stroke="#6f6f6f" stroke-width="1.0" stroke-linecap="round"/>
<line x1="261.10" y1="254.90" x2="259.21" y2="255.54" stroke="#6f6f6f" stroke-width="1.0" stroke-linecap="round"/>
<path d="M267.39,249.90 Q271.93,254.82 274.70,260.90" fill="none" stroke="#6f6f6f" stroke-width="1.25" stroke-linecap="round"/>
<line x1="274.70" y1="260.90" x2="276.55" y2="261.65" stroke="#6f6f6f" stroke-width="1.0" stroke-linecap="round"/>
<line x1="274.70" y1="260.90" x2="274.67" y2="262.90" stroke="#6f6f6f" stroke-width="1.0" stroke-linecap="round"/>
<path d="M267.00,245.52 L268.90,248.06 L267.07,250.66 L264.04,249.72 L263.99,246.54Z" fill="#fff" stroke="#6f6f6f" stroke-width="1.625" stroke-linejoin="round"/>
<circle cx="266.2" cy="248.1" r="0.675" fill="#6f6f6f"/>
<path d="M283.86,249.75 Q283.05,246.83 283.20,243.80" fill="none" stroke="#6f6f6f" stroke-width="1.25" stroke-linecap="round"/>
<line x1="283.20" y1="243.80" x2="281.90" y2="242.28" stroke="#6f6f6f" stroke-width="1.0" stroke-linecap="round"/>
<line x1="283.20" y1="243.80" x2="284.14" y2="242.03" stroke="#6f6f6f" stroke-width="1.0" stroke-linecap="round"/>
<path d="M282.03,251.30 Q278.61,250.87 275.50,249.40" fill="none" stroke="#6f6f6f" stroke-width="1.25" stroke-linecap="round"/>
<line x1="275.50" y1="249.40" x2="273.60" y2="250.02" stroke="#6f6f6f" stroke-width="1.0" stroke-linecap="round"/>
<line x1="275.50" y1="249.40" x2="274.23" y2="247.85" stroke="#6f6f6f" stroke-width="1.0" stroke-linecap="round"/>
<path d="M286.19,251.34 Q289.64,249.79 293.40,249.40" fill="none" stroke="#6f6f6f" stroke-width="1.25" stroke-linecap="round"/>
<line x1="293.40" y1="249.40" x2="294.70" y2="247.88" stroke="#6f6f6f" stroke-width="1.0" stroke-linecap="round"/>
<line x1="293.40" y1="249.40" x2="295.29" y2="250.06" stroke="#6f6f6f" stroke-width="1.0" stroke-linecap="round"/>
<path d="M285.56,253.49 Q288.17,255.54 290.00,258.30" fill="none" stroke="#6f6f6f" stroke-width="1.25" stroke-linecap="round"/>
<line x1="290.00" y1="258.30" x2="291.95" y2="258.75" stroke="#6f6f6f" stroke-width="1.0" stroke-linecap="round"/>
<line x1="290.00" y1="258.30" x2="290.29" y2="260.28" stroke="#6f6f6f" stroke-width="1.0" stroke-linecap="round"/>
<path d="M283.10,253.81 Q281.05,259.93 277.20,265.10" fill="none" stroke="#6f6f6f" stroke-width="1.25" stroke-linecap="round"/>
<line x1="277.20" y1="265.10" x2="277.44" y2="267.09" stroke="#6f6f6f" stroke-width="1.0" stroke-linecap="round"/>
<line x1="277.20" y1="265.10" x2="275.43" y2="266.04" stroke="#6f6f6f" stroke-width="1.0" stroke-linecap="round"/>
<path d="M284.90,249.32 L286.80,251.86 L284.97,254.46 L281.94,253.52 L281.89,250.34Z" fill="#fff" stroke="#6f6f6f" stroke-width="1.625" stroke-linejoin="round"/>
<circle cx="284.1" cy="251.9" r="0.675" fill="#6f6f6f"/>
<path d="M274.80,291.56 Q274.41,288.16 275.10,284.80" fill="none" stroke="#168891" stroke-width="1.45" stroke-linecap="round"/>
<line x1="275.10" y1="284.80" x2="273.94" y2="282.93" stroke="#168891" stroke-width="1.16" stroke-linecap="round"/>
<line x1="275.10" y1="284.80" x2="276.42" y2="283.04" stroke="#168891" stroke-width="1.16" stroke-linecap="round"/>
<path d="M272.76,292.68 Q269.40,291.38 266.60,289.10" fill="none" stroke="#168891" stroke-width="1.45" stroke-linecap="round"/>
<line x1="266.60" y1="289.10" x2="264.41" y2="289.26" stroke="#168891" stroke-width="1.16" stroke-linecap="round"/>
<line x1="266.60" y1="289.10" x2="265.65" y2="287.11" stroke="#168891" stroke-width="1.16" stroke-linecap="round"/>
<path d="M272.74,294.89 Q267.44,299.08 261.10,301.40" fill="none" stroke="#168891" stroke-width="1.45" stroke-linecap="round"/>
<line x1="261.10" y1="301.40" x2="260.12" y2="303.37" stroke="#168891" stroke-width="1.16" stroke-linecap="round"/>
<line x1="261.10" y1="301.40" x2="258.91" y2="301.20" stroke="#168891" stroke-width="1.16" stroke-linecap="round"/>
<path d="M275.40,295.93 Q276.74,298.52 277.20,301.40" fill="none" stroke="#168891" stroke-width="1.45" stroke-linecap="round"/>
<line x1="277.20" y1="301.40" x2="278.95" y2="302.74" stroke="#168891" stroke-width="1.16" stroke-linecap="round"/>
<line x1="277.20" y1="301.40" x2="276.59" y2="303.51" stroke="#168891" stroke-width="1.16" stroke-linecap="round"/>
<path d="M276.94,293.91 Q280.09,293.55 283.20,294.20" fill="none" stroke="#168891" stroke-width="1.45" stroke-linecap="round"/>
<line x1="283.20" y1="294.20" x2="285.07" y2="293.04" stroke="#168891" stroke-width="1.16" stroke-linecap="round"/>
<line x1="283.20" y1="294.20" x2="284.96" y2="295.53" stroke="#168891" stroke-width="1.16" stroke-linecap="round"/>
<path d="M275.53,291.13 L277.50,293.76 L275.60,296.45 L272.46,295.48 L272.41,292.19Z" fill="#fff" stroke="#168891" stroke-width="1.885" stroke-linejoin="round"/>
<circle cx="274.7" cy="293.8" r="0.7" fill="#168891"/>
<path d="M272.38,309.86 Q272.02,306.91 272.60,304.00" fill="none" stroke="#168891" stroke-width="1.45" stroke-linecap="round"/>
<line x1="272.60" y1="304.00" x2="271.43" y2="302.14" stroke="#168891" stroke-width="1.16" stroke-linecap="round"/>
<line x1="272.60" y1="304.00" x2="273.91" y2="302.23" stroke="#168891" stroke-width="1.16" stroke-linecap="round"/>
<path d="M270.29,311.12 Q263.72,309.14 258.10,305.20" fill="none" stroke="#168891" stroke-width="1.45" stroke-linecap="round"/>
<line x1="258.10" y1="305.20" x2="255.92" y2="305.52" stroke="#168891" stroke-width="1.16" stroke-linecap="round"/>
<line x1="258.10" y1="305.20" x2="257.01" y2="303.29" stroke="#168891" stroke-width="1.16" stroke-linecap="round"/>
<path d="M270.54,313.48 Q268.25,315.96 265.30,317.60" fill="none" stroke="#168891" stroke-width="1.45" stroke-linecap="round"/>
<line x1="265.30" y1="317.60" x2="264.64" y2="319.70" stroke="#168891" stroke-width="1.16" stroke-linecap="round"/>
<line x1="265.30" y1="317.60" x2="263.10" y2="317.75" stroke="#168891" stroke-width="1.16" stroke-linecap="round"/>
<path d="M272.97,314.24 Q274.27,316.83 274.70,319.70" fill="none" stroke="#168891" stroke-width="1.45" stroke-linecap="round"/>
<line x1="274.70" y1="319.70" x2="276.43" y2="321.06" stroke="#168891" stroke-width="1.16" stroke-linecap="round"/>
<line x1="274.70" y1="319.70" x2="274.06" y2="321.81" stroke="#168891" stroke-width="1.16" stroke-linecap="round"/>
<path d="M274.48,311.58 Q277.85,310.18 281.50,309.90" fill="none" stroke="#168891" stroke-width="1.45" stroke-linecap="round"/>
<line x1="281.50" y1="309.90" x2="282.98" y2="308.27" stroke="#168891" stroke-width="1.16" stroke-linecap="round"/>
<line x1="281.50" y1="309.90" x2="283.55" y2="310.69" stroke="#168891" stroke-width="1.16" stroke-linecap="round"/>
<path d="M273.13,309.43 L275.10,312.06 L273.20,314.75 L270.06,313.78 L270.01,310.49Z" fill="#fff" stroke="#168891" stroke-width="1.885" stroke-linejoin="round"/>
<circle cx="272.3" cy="312.1" r="0.7" fill="#168891"/>
<path d="M286.85,306.87 Q286.53,300.22 288.30,293.80" fill="none" stroke="#168891" stroke-width="1.45" stroke-linecap="round"/>
<line x1="288.30" y1="293.80" x2="287.27" y2="291.86" stroke="#168891" stroke-width="1.16" stroke-linecap="round"/>
<line x1="288.30" y1="293.80" x2="289.74" y2="292.13" stroke="#168891" stroke-width="1.16" stroke-linecap="round"/>
<path d="M284.53,308.23 Q281.31,307.45 278.50,305.70" fill="none" stroke="#168891" stroke-width="1.45" stroke-linecap="round"/>
<line x1="278.50" y1="305.70" x2="276.34" y2="306.14" stroke="#168891" stroke-width="1.16" stroke-linecap="round"/>
<line x1="278.50" y1="305.70" x2="277.31" y2="303.85" stroke="#168891" stroke-width="1.16" stroke-linecap="round"/>
<path d="M288.73,308.39 Q291.98,306.70 295.60,306.10" fill="none" stroke="#168891" stroke-width="1.45" stroke-linecap="round"/>
<line x1="295.60" y1="306.10" x2="296.93" y2="304.35" stroke="#168891" stroke-width="1.16" stroke-linecap="round"/>
<line x1="295.60" y1="306.10" x2="297.72" y2="306.70" stroke="#168891" stroke-width="1.16" stroke-linecap="round"/>
<path d="M288.20,310.67 Q290.74,312.48 292.60,315.00" fill="none" stroke="#168891" stroke-width="1.45" stroke-linecap="round"/>
<line x1="292.60" y1="315.00" x2="294.77" y2="315.39" stroke="#168891" stroke-width="1.16" stroke-linecap="round"/>
<line x1="292.60" y1="315.00" x2="293.02" y2="317.16" stroke="#168891" stroke-width="1.16" stroke-linecap="round"/>
<path d="M285.27,310.91 Q283.95,313.47 281.90,315.50" fill="none" stroke="#168891" stroke-width="1.45" stroke-linecap="round"/>
<line x1="281.90" y1="315.50" x2="281.83" y2="317.70" stroke="#168891" stroke-width="1.16" stroke-linecap="round"/>
<line x1="281.90" y1="315.50" x2="279.82" y2="316.23" stroke="#168891" stroke-width="1.16" stroke-linecap="round"/>
<path d="M287.43,306.43 L289.40,309.06 L287.50,311.75 L284.36,310.78 L284.31,307.49Z" fill="#fff" stroke="#168891" stroke-width="1.885" stroke-linejoin="round"/>
<circle cx="286.6" cy="309.1" r="0.7" fill="#168891"/>
<circle cx="271.7" cy="233.2" r="1.75" fill="#111"/>
<circle cx="280.7" cy="233.2" r="1.75" fill="#111"/>
<circle cx="262.8" cy="242.6" r="1.75" fill="#111"/>
<circle cx="271.7" cy="242.6" r="1.75" fill="#111"/>
<circle cx="280.7" cy="242.6" r="1.75" fill="#111"/>
<circle cx="290" cy="242.6" r="1.75" fill="#111"/>
<circle cx="262.8" cy="251.5" r="1.75" fill="#111"/>
<circle cx="271.7" cy="251.5" r="1.75" fill="#111"/>
<circle cx="280.7" cy="251.5" r="1.75" fill="#111"/>
<circle cx="290" cy="251.5" r="1.75" fill="#111"/>
<circle cx="271.7" cy="260.9" r="1.75" fill="#111"/>
<circle cx="280.7" cy="260.9" r="1.75" fill="#111"/>
<circle cx="272.3" cy="290.8" r="1.75" fill="#111"/>
<circle cx="281.5" cy="290.8" r="1.75" fill="#111"/>
<circle cx="263.2" cy="300" r="1.75" fill="#111"/>
<circle cx="272.3" cy="300" r="1.75" fill="#111"/>
<circle cx="281.5" cy="300" r="1.75" fill="#111"/>
<circle cx="290.4" cy="300" r="1.75" fill="#111"/>
<circle cx="263.2" cy="309.1" r="1.75" fill="#111"/>
<circle cx="272.3" cy="309.1" r="1.75" fill="#111"/>
<circle cx="281.5" cy="309.1" r="1.75" fill="#111"/>
<circle cx="290.4" cy="309.1" r="1.75" fill="#111"/>
<circle cx="272.3" cy="318.2" r="1.75" fill="#111"/>
<circle cx="281.5" cy="318.2" r="1.75" fill="#111"/>
<text x="323.5" y="197.0" font-size="12" text-anchor="start" fill="#222" font-weight="bold" font-style="normal" >5</text>
<text x="401.4" y="208.0" font-size="9.25" text-anchor="middle" fill="#333" font-weight="normal" font-style="normal" >Recorded network activity</text>
<text x="402.0" y="226.6" font-size="7.9" text-anchor="middle" fill="#333" font-weight="normal" font-style="normal" >Control</text>
<text x="402.0" y="283.7" font-size="7.9" text-anchor="middle" fill="#333" font-weight="normal" font-style="normal" >Diseased</text>
<rect x="367.7" y="229.6" width="70.6" height="35.3" fill="#fff" stroke="#8a8a8a" stroke-width="1.0"/>
<line x1="370.7" y1="236.3" x2="435.8" y2="236.3" stroke="#999" stroke-width="0.6" />
<line x1="370.7" y1="241.3" x2="435.8" y2="241.3" stroke="#999" stroke-width="0.6" />
<line x1="370.7" y1="251.5" x2="435.8" y2="251.5" stroke="#999" stroke-width="0.6" />
<line x1="370.7" y1="256.1" x2="435.8" y2="256.1" stroke="#999" stroke-width="0.6" />
<line x1="375.6" y1="232.1" x2="375.6" y2="261.09999999999997" stroke="#111" stroke-width="1.1" stroke-dasharray="2.2 0.9"/>
<line x1="390.7" y1="232.1" x2="390.7" y2="261.09999999999997" stroke="#111" stroke-width="1.1" stroke-dasharray="2.2 0.9"/>
<line x1="403.5" y1="232.1" x2="403.5" y2="261.09999999999997" stroke="#111" stroke-width="1.1" stroke-dasharray="2.2 0.9"/>
<line x1="419" y1="232.1" x2="419" y2="261.09999999999997" stroke="#111" stroke-width="1.1" stroke-dasharray="2.2 0.9"/>
<line x1="430.4" y1="232.1" x2="430.4" y2="261.09999999999997" stroke="#111" stroke-width="1.1" stroke-dasharray="2.2 0.9"/>
<rect x="402.9" y="248.4" width="0.5" height="2.2" fill="#555"/>
<rect x="432.0" y="252.1" width="0.5" height="2.2" fill="#555"/>
<rect x="424.8" y="259.5" width="0.5" height="2.2" fill="#555"/>
<rect x="424.2" y="244.7" width="0.5" height="2.2" fill="#555"/>
<rect x="416.2" y="259.5" width="0.5" height="2.2" fill="#555"/>
<rect x="423.8" y="233.6" width="0.5" height="2.2" fill="#555"/>
<rect x="379.8" y="255.8" width="0.5" height="2.2" fill="#555"/>
<rect x="415.8" y="237.3" width="0.5" height="2.2" fill="#555"/>
<rect x="408.1" y="233.6" width="0.5" height="2.2" fill="#555"/>
<rect x="394.5" y="255.8" width="0.5" height="2.2" fill="#555"/>
<rect x="395.3" y="255.8" width="0.5" height="2.2" fill="#555"/>
<rect x="413.2" y="255.8" width="0.5" height="2.2" fill="#555"/>
<rect x="433.0" y="233.6" width="0.5" height="2.2" fill="#555"/>
<rect x="389.7" y="237.3" width="0.5" height="2.2" fill="#555"/>
<rect x="403.2" y="241.0" width="0.5" height="2.2" fill="#555"/>
<rect x="402.3" y="252.1" width="0.5" height="2.2" fill="#555"/>
<rect x="417.7" y="252.1" width="0.5" height="2.2" fill="#555"/>
<rect x="411.1" y="241.0" width="0.5" height="2.2" fill="#555"/>
<rect x="414.5" y="252.1" width="0.5" height="2.2" fill="#555"/>
<rect x="426.1" y="255.8" width="0.5" height="2.2" fill="#555"/>
<rect x="433.8" y="252.1" width="0.5" height="2.2" fill="#555"/>
<rect x="387.6" y="233.6" width="0.5" height="2.2" fill="#555"/>
<rect x="421.0" y="233.6" width="0.5" height="2.2" fill="#555"/>
<rect x="388.6" y="241.0" width="0.5" height="2.2" fill="#555"/>
<rect x="420.7" y="241.0" width="0.5" height="2.2" fill="#555"/>
<rect x="394.0" y="244.7" width="0.5" height="2.2" fill="#555"/>
<rect x="378.8" y="237.3" width="0.5" height="2.2" fill="#555"/>
<rect x="409.0" y="233.6" width="0.5" height="2.2" fill="#555"/>
<rect x="395.0" y="244.7" width="0.5" height="2.2" fill="#555"/>
<rect x="395.5" y="255.8" width="0.5" height="2.2" fill="#555"/>
<rect x="387.8" y="241.0" width="0.5" height="2.2" fill="#555"/>
<rect x="403.4" y="233.6" width="0.5" height="2.2" fill="#555"/>
<rect x="430.8" y="233.6" width="0.5" height="2.2" fill="#555"/>
<rect x="403.2" y="248.4" width="0.5" height="2.2" fill="#555"/>
<rect x="376.5" y="244.7" width="0.5" height="2.2" fill="#555"/>
<rect x="408.2" y="237.3" width="0.5" height="2.2" fill="#555"/>
<rect x="378.9" y="233.6" width="0.5" height="2.2" fill="#555"/>
<rect x="380.3" y="248.4" width="0.5" height="2.2" fill="#555"/>
<rect x="376.4" y="259.5" width="0.5" height="2.2" fill="#555"/>
<rect x="417.7" y="244.7" width="0.5" height="2.2" fill="#555"/>
<rect x="407.2" y="237.3" width="0.5" height="2.2" fill="#555"/>
<rect x="396.9" y="244.7" width="0.5" height="2.2" fill="#555"/>
<rect x="429.7" y="252.1" width="0.5" height="2.2" fill="#555"/>
<rect x="410.1" y="248.4" width="0.5" height="2.2" fill="#555"/>
<rect x="378.0" y="233.6" width="0.5" height="2.2" fill="#555"/>
<rect x="393.7" y="255.8" width="0.5" height="2.2" fill="#555"/>
<rect x="372.0" y="248.4" width="0.5" height="2.2" fill="#555"/>
<rect x="371.9" y="248.4" width="0.5" height="2.2" fill="#555"/>
<rect x="397.2" y="255.8" width="0.5" height="2.2" fill="#555"/>
<rect x="394.4" y="248.4" width="0.5" height="2.2" fill="#555"/>
<rect x="417.8" y="241.0" width="0.5" height="2.2" fill="#555"/>
<rect x="411.1" y="233.6" width="0.5" height="2.2" fill="#555"/>
<rect x="373.6" y="255.8" width="0.5" height="2.2" fill="#555"/>
<rect x="415.0" y="241.0" width="0.5" height="2.2" fill="#555"/>
<rect x="403.5" y="241.0" width="0.5" height="2.2" fill="#555"/>
<rect x="387.2" y="252.1" width="0.5" height="2.2" fill="#555"/>
<rect x="390.8" y="248.4" width="0.5" height="2.2" fill="#555"/>
<rect x="380.3" y="233.6" width="0.5" height="2.2" fill="#555"/>
<rect x="407.8" y="255.8" width="0.5" height="2.2" fill="#555"/>
<rect x="410.0" y="255.8" width="0.5" height="2.2" fill="#555"/>
<rect x="367.8" y="287" width="70.4" height="34.8" fill="#fff" stroke="#2a9aa2" stroke-width="1.4"/>
<rect x="370.8" y="288.80" width="1.8" height="2.31" fill="#111"/>
<rect x="421.7" y="288.80" width="2.0" height="2.31" fill="#111"/>
<rect x="383.00" y="288.80" width="1.00" height="2.21" fill="#000" opacity="0.62"/>
<rect x="392.77" y="288.80" width="1.00" height="2.21" fill="#000" opacity="0.49"/>
<rect x="408.68" y="288.80" width="1.00" height="2.21" fill="#000" opacity="0.71"/>
<rect x="412.96" y="288.80" width="1.00" height="2.21" fill="#000" opacity="0.60"/>
<rect x="379.87" y="288.80" width="0.6" height="2.21" fill="#000" opacity="0.33"/>
<rect x="383.24" y="288.80" width="0.6" height="2.21" fill="#000" opacity="0.42"/>
<rect x="386.10" y="288.80" width="0.6" height="2.21" fill="#000" opacity="0.61"/>
<rect x="391.44" y="288.80" width="0.6" height="2.21" fill="#000" opacity="0.41"/>
<rect x="398.82" y="288.80" width="0.6" height="2.21" fill="#000" opacity="0.36"/>
<rect x="405.95" y="288.80" width="0.6" height="2.21" fill="#000" opacity="0.73"/>
<rect x="429.5" y="288.80" width="0.5" height="2.21" fill="#444"/>
<rect x="431.8" y="288.80" width="0.5" height="2.21" fill="#444"/>
<rect x="431.4" y="288.80" width="0.5" height="2.21" fill="#444"/>
<line x1="370.3" y1="291.2" x2="435.7" y2="291.2" stroke="#222" stroke-width="0.5" />
<rect x="370.8" y="291.41" width="1.8" height="2.31" fill="#111"/>
<rect x="421.7" y="291.41" width="2.0" height="2.31" fill="#111"/>
<rect x="382.27" y="291.41" width="1.00" height="2.21" fill="#000" opacity="0.76"/>
<rect x="393.01" y="291.41" width="1.00" height="2.21" fill="#000" opacity="0.84"/>
<rect x="399.07" y="291.41" width="1.00" height="2.21" fill="#000" opacity="0.53"/>
<rect x="403.22" y="291.41" width="1.00" height="2.21" fill="#000" opacity="0.75"/>
<rect x="413.24" y="291.41" width="1.00" height="2.21" fill="#000" opacity="0.63"/>
<rect x="377.01" y="291.41" width="0.6" height="2.21" fill="#000" opacity="0.58"/>
<rect x="381.25" y="291.41" width="0.6" height="2.21" fill="#000" opacity="0.30"/>
<rect x="382.46" y="291.41" width="0.6" height="2.21" fill="#000" opacity="0.51"/>
<rect x="391.06" y="291.41" width="0.6" height="2.21" fill="#000" opacity="0.64"/>
<rect x="394.56" y="291.41" width="0.6" height="2.21" fill="#000" opacity="0.33"/>
<rect x="395.73" y="291.41" width="0.6" height="2.21" fill="#000" opacity="0.73"/>
<rect x="399.33" y="291.41" width="0.6" height="2.21" fill="#000" opacity="0.70"/>
<rect x="400.34" y="291.41" width="0.6" height="2.21" fill="#000" opacity="0.74"/>
<rect x="402.84" y="291.41" width="0.6" height="2.21" fill="#000" opacity="0.54"/>
<rect x="417.74" y="291.41" width="0.6" height="2.21" fill="#000" opacity="0.49"/>
<rect x="418.63" y="291.41" width="0.6" height="2.21" fill="#000" opacity="0.72"/>
<rect x="420.04" y="291.41" width="0.6" height="2.21" fill="#000" opacity="0.71"/>
<rect x="428.3" y="291.41" width="0.5" height="2.21" fill="#444"/>
<rect x="428.2" y="291.41" width="0.5" height="2.21" fill="#444"/>
<rect x="428.0" y="291.41" width="0.5" height="2.21" fill="#444"/>
<line x1="370.3" y1="293.8" x2="435.7" y2="293.8" stroke="#222" stroke-width="0.5" />
<rect x="370.8" y="294.02" width="1.8" height="2.31" fill="#111"/>
<rect x="421.7" y="294.02" width="2.0" height="2.31" fill="#111"/>
<rect x="382.31" y="294.02" width="1.00" height="2.21" fill="#000" opacity="0.82"/>
<rect x="393.29" y="294.02" width="1.00" height="2.21" fill="#000" opacity="0.64"/>
<rect x="417.21" y="294.02" width="1.00" height="2.21" fill="#000" opacity="0.40"/>
<rect x="378.47" y="294.02" width="0.6" height="2.21" fill="#000" opacity="0.63"/>
<rect x="383.27" y="294.02" width="0.6" height="2.21" fill="#000" opacity="0.51"/>
<rect x="386.93" y="294.02" width="0.6" height="2.21" fill="#000" opacity="0.61"/>
<rect x="405.34" y="294.02" width="0.6" height="2.21" fill="#000" opacity="0.41"/>
<rect x="408.81" y="294.02" width="0.6" height="2.21" fill="#000" opacity="0.60"/>
<rect x="425.8" y="294.02" width="0.5" height="2.21" fill="#444"/>
<rect x="426.3" y="294.02" width="0.5" height="2.21" fill="#444"/>
<rect x="432.9" y="294.02" width="0.5" height="2.21" fill="#444"/>
<line x1="370.3" y1="296.4" x2="435.7" y2="296.4" stroke="#222" stroke-width="0.5" />
<rect x="370.8" y="296.62" width="1.8" height="2.31" fill="#111"/>
<rect x="421.7" y="296.62" width="2.0" height="2.31" fill="#111"/>
<rect x="388.37" y="296.62" width="1.00" height="2.21" fill="#000" opacity="0.38"/>
<rect x="399.06" y="296.62" width="1.00" height="2.21" fill="#000" opacity="0.80"/>
<rect x="408.86" y="296.62" width="1.00" height="2.21" fill="#000" opacity="0.70"/>
<rect x="417.33" y="296.62" width="1.00" height="2.21" fill="#000" opacity="0.64"/>
<rect x="376.00" y="296.62" width="0.6" height="2.21" fill="#000" opacity="0.73"/>
<rect x="377.16" y="296.62" width="0.6" height="2.21" fill="#000" opacity="0.65"/>
<rect x="387.08" y="296.62" width="0.6" height="2.21" fill="#000" opacity="0.58"/>
<rect x="390.54" y="296.62" width="0.6" height="2.21" fill="#000" opacity="0.59"/>
<rect x="391.87" y="296.62" width="0.6" height="2.21" fill="#000" opacity="0.60"/>
<rect x="399.03" y="296.62" width="0.6" height="2.21" fill="#000" opacity="0.57"/>
<rect x="400.59" y="296.62" width="0.6" height="2.21" fill="#000" opacity="0.63"/>
<rect x="403.63" y="296.62" width="0.6" height="2.21" fill="#000" opacity="0.73"/>
<rect x="404.90" y="296.62" width="0.6" height="2.21" fill="#000" opacity="0.60"/>
<rect x="412.12" y="296.62" width="0.6" height="2.21" fill="#000" opacity="0.50"/>
<rect x="419.39" y="296.62" width="0.6" height="2.21" fill="#000" opacity="0.66"/>
<rect x="429.8" y="296.62" width="0.5" height="2.21" fill="#444"/>
<rect x="429.6" y="296.62" width="0.5" height="2.21" fill="#444"/>
<rect x="432.2" y="296.62" width="0.5" height="2.21" fill="#444"/>
<line x1="370.3" y1="299.0" x2="435.7" y2="299.0" stroke="#222" stroke-width="0.5" />
<rect x="370.8" y="299.23" width="1.8" height="2.31" fill="#111"/>
<rect x="421.7" y="299.23" width="2.0" height="2.31" fill="#111"/>
<rect x="388.17" y="299.23" width="1.00" height="2.21" fill="#000" opacity="0.56"/>
<rect x="398.95" y="299.23" width="1.00" height="2.21" fill="#000" opacity="0.80"/>
<rect x="413.54" y="299.23" width="1.00" height="2.21" fill="#000" opacity="0.84"/>
<rect x="383.88" y="299.23" width="0.6" height="2.21" fill="#000" opacity="0.79"/>
<rect x="384.69" y="299.23" width="0.6" height="2.21" fill="#000" opacity="0.73"/>
<rect x="390.91" y="299.23" width="0.6" height="2.21" fill="#000" opacity="0.56"/>
<rect x="391.73" y="299.23" width="0.6" height="2.21" fill="#000" opacity="0.71"/>
<rect x="416.31" y="299.23" width="0.6" height="2.21" fill="#000" opacity="0.49"/>
<rect x="417.47" y="299.23" width="0.6" height="2.21" fill="#000" opacity="0.34"/>
<rect x="420.08" y="299.23" width="0.6" height="2.21" fill="#000" opacity="0.78"/>
<rect x="429.9" y="299.23" width="0.5" height="2.21" fill="#444"/>
<rect x="431.3" y="299.23" width="0.5" height="2.21" fill="#444"/>
<rect x="433.0" y="299.23" width="0.5" height="2.21" fill="#444"/>
<line x1="370.3" y1="301.6" x2="435.7" y2="301.6" stroke="#222" stroke-width="0.5" />
<rect x="370.8" y="301.84" width="1.8" height="2.31" fill="#111"/>
<rect x="421.7" y="301.84" width="2.0" height="2.31" fill="#111"/>
<rect x="408.76" y="301.84" width="1.00" height="2.21" fill="#000" opacity="0.79"/>
<rect x="413.38" y="301.84" width="1.00" height="2.21" fill="#000" opacity="0.51"/>
<rect x="378.83" y="301.84" width="0.6" height="2.21" fill="#000" opacity="0.58"/>
<rect x="386.15" y="301.84" width="0.6" height="2.21" fill="#000" opacity="0.73"/>
<rect x="392.51" y="301.84" width="0.6" height="2.21" fill="#000" opacity="0.39"/>
<rect x="403.55" y="301.84" width="0.6" height="2.21" fill="#000" opacity="0.33"/>
<rect x="407.92" y="301.84" width="0.6" height="2.21" fill="#000" opacity="0.51"/>
<rect x="419.37" y="301.84" width="0.6" height="2.21" fill="#000" opacity="0.65"/>
<rect x="431.2" y="301.84" width="0.5" height="2.21" fill="#444"/>
<rect x="433.4" y="301.84" width="0.5" height="2.21" fill="#444"/>
<rect x="425.1" y="301.84" width="0.5" height="2.21" fill="#444"/>
<line x1="370.3" y1="304.3" x2="435.7" y2="304.3" stroke="#222" stroke-width="0.5" />
<rect x="370.8" y="304.45" width="1.8" height="2.31" fill="#111"/>
<rect x="421.7" y="304.45" width="2.0" height="2.31" fill="#111"/>
<rect x="387.88" y="304.45" width="1.00" height="2.21" fill="#000" opacity="0.47"/>
<rect x="398.70" y="304.45" width="1.00" height="2.21" fill="#000" opacity="0.89"/>
<rect x="409.57" y="304.45" width="1.00" height="2.21" fill="#000" opacity="0.87"/>
<rect x="413.77" y="304.45" width="1.00" height="2.21" fill="#000" opacity="0.65"/>
<rect x="417.99" y="304.45" width="1.00" height="2.21" fill="#000" opacity="0.62"/>
<rect x="392.77" y="304.45" width="0.6" height="2.21" fill="#000" opacity="0.39"/>
<rect x="396.27" y="304.45" width="0.6" height="2.21" fill="#000" opacity="0.41"/>
<rect x="397.17" y="304.45" width="0.6" height="2.21" fill="#000" opacity="0.54"/>
<rect x="399.02" y="304.45" width="0.6" height="2.21" fill="#000" opacity="0.55"/>
<rect x="409.44" y="304.45" width="0.6" height="2.21" fill="#000" opacity="0.64"/>
<rect x="417.66" y="304.45" width="0.6" height="2.21" fill="#000" opacity="0.53"/>
<rect x="429.5" y="304.45" width="0.5" height="2.21" fill="#444"/>
<rect x="427.2" y="304.45" width="0.5" height="2.21" fill="#444"/>
<rect x="434.1" y="304.45" width="0.5" height="2.21" fill="#444"/>
<line x1="370.3" y1="306.9" x2="435.7" y2="306.9" stroke="#222" stroke-width="0.5" />
<rect x="370.8" y="307.06" width="1.8" height="2.31" fill="#111"/>
<rect x="421.7" y="307.06" width="2.0" height="2.31" fill="#111"/>
<rect x="382.51" y="307.06" width="1.00" height="2.21" fill="#000" opacity="0.52"/>
<rect x="388.49" y="307.06" width="1.00" height="2.21" fill="#000" opacity="0.69"/>
<rect x="398.18" y="307.06" width="1.00" height="2.21" fill="#000" opacity="0.70"/>
<rect x="403.94" y="307.06" width="1.00" height="2.21" fill="#000" opacity="0.84"/>
<rect x="413.62" y="307.06" width="1.00" height="2.21" fill="#000" opacity="0.78"/>
<rect x="377.43" y="307.06" width="0.6" height="2.21" fill="#000" opacity="0.50"/>
<rect x="378.53" y="307.06" width="0.6" height="2.21" fill="#000" opacity="0.37"/>
<rect x="394.60" y="307.06" width="0.6" height="2.21" fill="#000" opacity="0.62"/>
<rect x="397.96" y="307.06" width="0.6" height="2.21" fill="#000" opacity="0.31"/>
<rect x="400.98" y="307.06" width="0.6" height="2.21" fill="#000" opacity="0.64"/>
<rect x="401.83" y="307.06" width="0.6" height="2.21" fill="#000" opacity="0.52"/>
<rect x="415.17" y="307.06" width="0.6" height="2.21" fill="#000" opacity="0.61"/>
<rect x="419.37" y="307.06" width="0.6" height="2.21" fill="#000" opacity="0.53"/>
<rect x="429.5" y="307.06" width="0.5" height="2.21" fill="#444"/>
<rect x="432.0" y="307.06" width="0.5" height="2.21" fill="#444"/>
<rect x="426.3" y="307.06" width="0.5" height="2.21" fill="#444"/>
<line x1="370.3" y1="309.5" x2="435.7" y2="309.5" stroke="#222" stroke-width="0.5" />
<rect x="370.8" y="309.67" width="1.8" height="2.31" fill="#111"/>
<rect x="421.7" y="309.67" width="2.0" height="2.31" fill="#111"/>
<rect x="388.68" y="309.67" width="1.00" height="2.21" fill="#000" opacity="0.70"/>
<rect x="393.60" y="309.67" width="1.00" height="2.21" fill="#000" opacity="0.74"/>
<rect x="398.41" y="309.67" width="1.00" height="2.21" fill="#000" opacity="0.42"/>
<rect x="409.19" y="309.67" width="1.00" height="2.21" fill="#000" opacity="0.62"/>
<rect x="413.88" y="309.67" width="1.00" height="2.21" fill="#000" opacity="0.53"/>
<rect x="417.41" y="309.67" width="1.00" height="2.21" fill="#000" opacity="0.69"/>
<rect x="385.42" y="309.67" width="0.6" height="2.21" fill="#000" opacity="0.49"/>
<rect x="388.39" y="309.67" width="0.6" height="2.21" fill="#000" opacity="0.61"/>
<rect x="393.86" y="309.67" width="0.6" height="2.21" fill="#000" opacity="0.40"/>
<rect x="396.26" y="309.67" width="0.6" height="2.21" fill="#000" opacity="0.59"/>
<rect x="404.64" y="309.67" width="0.6" height="2.21" fill="#000" opacity="0.40"/>
<rect x="413.57" y="309.67" width="0.6" height="2.21" fill="#000" opacity="0.79"/>
<rect x="414.39" y="309.67" width="0.6" height="2.21" fill="#000" opacity="0.78"/>
<rect x="417.75" y="309.67" width="0.6" height="2.21" fill="#000" opacity="0.38"/>
<rect x="419.66" y="309.67" width="0.6" height="2.21" fill="#000" opacity="0.47"/>
<rect x="426.0" y="309.67" width="0.5" height="2.21" fill="#444"/>
<rect x="425.1" y="309.67" width="0.5" height="2.21" fill="#444"/>
<rect x="431.6" y="309.67" width="0.5" height="2.21" fill="#444"/>
<line x1="370.3" y1="312.1" x2="435.7" y2="312.1" stroke="#222" stroke-width="0.5" />
<rect x="370.8" y="312.28" width="1.8" height="2.31" fill="#111"/>
<rect x="421.7" y="312.28" width="2.0" height="2.31" fill="#111"/>
<rect x="383.07" y="312.28" width="1.00" height="2.21" fill="#000" opacity="0.50"/>
<rect x="387.94" y="312.28" width="1.00" height="2.21" fill="#000" opacity="0.50"/>
<rect x="413.36" y="312.28" width="1.00" height="2.21" fill="#000" opacity="0.58"/>
<rect x="376.00" y="312.28" width="0.6" height="2.21" fill="#000" opacity="0.49"/>
<rect x="387.74" y="312.28" width="0.6" height="2.21" fill="#000" opacity="0.66"/>
<rect x="409.32" y="312.28" width="0.6" height="2.21" fill="#000" opacity="0.70"/>
<rect x="410.40" y="312.28" width="0.6" height="2.21" fill="#000" opacity="0.65"/>
<rect x="419.83" y="312.28" width="0.6" height="2.21" fill="#000" opacity="0.56"/>
<rect x="420.92" y="312.28" width="0.6" height="2.21" fill="#000" opacity="0.71"/>
<rect x="431.7" y="312.28" width="0.5" height="2.21" fill="#444"/>
<rect x="425.4" y="312.28" width="0.5" height="2.21" fill="#444"/>
<rect x="427.8" y="312.28" width="0.5" height="2.21" fill="#444"/>
<line x1="370.3" y1="314.7" x2="435.7" y2="314.7" stroke="#222" stroke-width="0.5" />
<rect x="370.8" y="314.88" width="1.8" height="2.31" fill="#111"/>
<rect x="421.7" y="314.88" width="2.0" height="2.31" fill="#111"/>
<rect x="387.87" y="314.88" width="1.00" height="2.21" fill="#000" opacity="0.62"/>
<rect x="393.27" y="314.88" width="1.00" height="2.21" fill="#000" opacity="0.59"/>
<rect x="399.00" y="314.88" width="1.00" height="2.21" fill="#000" opacity="0.83"/>
<rect x="409.64" y="314.88" width="1.00" height="2.21" fill="#000" opacity="0.87"/>
<rect x="413.77" y="314.88" width="1.00" height="2.21" fill="#000" opacity="0.39"/>
<rect x="376.00" y="314.88" width="0.6" height="2.21" fill="#000" opacity="0.65"/>
<rect x="378.33" y="314.88" width="0.6" height="2.21" fill="#000" opacity="0.63"/>
<rect x="386.47" y="314.88" width="0.6" height="2.21" fill="#000" opacity="0.49"/>
<rect x="392.54" y="314.88" width="0.6" height="2.21" fill="#000" opacity="0.35"/>
<rect x="394.34" y="314.88" width="0.6" height="2.21" fill="#000" opacity="0.35"/>
<rect x="400.38" y="314.88" width="0.6" height="2.21" fill="#000" opacity="0.75"/>
<rect x="406.31" y="314.88" width="0.6" height="2.21" fill="#000" opacity="0.73"/>
<rect x="411.00" y="314.88" width="0.6" height="2.21" fill="#000" opacity="0.72"/>
<rect x="419.31" y="314.88" width="0.6" height="2.21" fill="#000" opacity="0.75"/>
<rect x="420.51" y="314.88" width="0.6" height="2.21" fill="#000" opacity="0.57"/>
<rect x="427.9" y="314.88" width="0.5" height="2.21" fill="#444"/>
<rect x="432.6" y="314.88" width="0.5" height="2.21" fill="#444"/>
<rect x="425.7" y="314.88" width="0.5" height="2.21" fill="#444"/>
<line x1="370.3" y1="317.3" x2="435.7" y2="317.3" stroke="#222" stroke-width="0.5" />
<rect x="370.8" y="317.49" width="1.8" height="2.31" fill="#111"/>
<rect x="421.7" y="317.49" width="2.0" height="2.31" fill="#111"/>
<rect x="393.00" y="317.49" width="1.00" height="2.21" fill="#000" opacity="0.52"/>
<rect x="378.76" y="317.49" width="0.6" height="2.21" fill="#000" opacity="0.72"/>
<rect x="386.28" y="317.49" width="0.6" height="2.21" fill="#000" opacity="0.44"/>
<rect x="390.24" y="317.49" width="0.6" height="2.21" fill="#000" opacity="0.50"/>
<rect x="405.29" y="317.49" width="0.6" height="2.21" fill="#000" opacity="0.57"/>
<rect x="407.59" y="317.49" width="0.6" height="2.21" fill="#000" opacity="0.62"/>
<rect x="427.7" y="317.49" width="0.5" height="2.21" fill="#444"/>
<rect x="426.6" y="317.49" width="0.5" height="2.21" fill="#444"/>
<rect x="428.5" y="317.49" width="0.5" height="2.21" fill="#444"/>
<line x1="370.3" y1="319.9" x2="435.7" y2="319.9" stroke="#222" stroke-width="0.5" />
<line x1="321.7" y1="247.2" x2="353.0" y2="247.2" stroke="#111" stroke-width="0.9" />
<path d="M357.4,247.2 L352.9,249.1 L354.0,247.2 L352.9,245.3Z" fill="#111"/>
<line x1="321.7" y1="304.6" x2="353.0" y2="304.6" stroke="#111" stroke-width="0.9" />
<path d="M357.4,304.6 L352.9,306.5 L354.0,304.6 L352.9,302.7Z" fill="#111"/>
<text x="339.3" y="270.3" font-size="7.9" text-anchor="middle" fill="#333" font-weight="normal" font-style="normal" >MEA</text>
<text x="339.3" y="279.5" font-size="7.9" text-anchor="middle" fill="#333" font-weight="normal" font-style="normal" >measure-</text>
<text x="339.3" y="289.0" font-size="7.9" text-anchor="middle" fill="#333" font-weight="normal" font-style="normal" >ments</text>
<line x1="465.0" y1="245.8" x2="493.0" y2="245.8" stroke="#111" stroke-width="0.9" />
<path d="M461.9,245.8 L466.4,243.9 L465.3,245.8 L466.4,247.7Z" fill="#111"/>
<path d="M496.6,245.8 L492.1,247.7 L493.2,245.8 L492.1,243.9Z" fill="#111"/>
<line x1="465.0" y1="305.1" x2="493.0" y2="305.1" stroke="#111" stroke-width="0.9" />
<path d="M461.9,305.1 L466.4,303.2 L465.3,305.1 L466.4,307.0Z" fill="#111"/>
<path d="M496.6,305.1 L492.1,307.0 L493.2,305.1 L492.1,303.2Z" fill="#111"/>
<text x="478.9" y="270.3" font-size="7.9" text-anchor="middle" fill="#333" font-weight="normal" font-style="normal" >Comparison</text>
<text x="478.9" y="279.5" font-size="7.9" text-anchor="middle" fill="#333" font-weight="normal" font-style="normal" >experiments</text>
<text x="478.9" y="289.0" font-size="7.9" text-anchor="middle" fill="#333" font-weight="normal" font-style="normal" >vs. simulations</text>
<text x="476.9" y="197.0" font-size="12" text-anchor="start" fill="#222" font-weight="bold" font-style="normal" >7</text>
<text x="558.5" y="208.0" font-size="9.25" text-anchor="middle" fill="#333" font-weight="normal" font-style="normal" >Simulated network activity</text>
<text x="557.4" y="226.6" font-size="7.9" text-anchor="middle" fill="#333" font-weight="normal" font-style="normal" >Sample 1</text>
<text x="557.4" y="283.7" font-size="7.9" text-anchor="middle" fill="#333" font-weight="normal" font-style="normal" >Sample 2</text>
<rect x="521.6" y="229.6" width="70.8" height="35.6" fill="#fff" stroke="#3a3a3a" stroke-width="1.1"/>
<line x1="524.6" y1="233.3" x2="589.9" y2="233.3" stroke="#aaa" stroke-width="0.6" />
<line x1="524.6" y1="236.3" x2="589.9" y2="236.3" stroke="#aaa" stroke-width="0.6" />
<line x1="524.6" y1="238.5" x2="589.9" y2="238.5" stroke="#aaa" stroke-width="0.6" />
<line x1="524.6" y1="241.4" x2="589.9" y2="241.4" stroke="#aaa" stroke-width="0.6" />
<line x1="524.6" y1="246.0" x2="589.9" y2="246.0" stroke="#aaa" stroke-width="0.6" />
<line x1="524.6" y1="248.4" x2="589.9" y2="248.4" stroke="#aaa" stroke-width="0.6" />
<line x1="524.6" y1="251.5" x2="589.9" y2="251.5" stroke="#aaa" stroke-width="0.6" />
<line x1="524.6" y1="254.4" x2="589.9" y2="254.4" stroke="#aaa" stroke-width="0.6" />
<line x1="524.6" y1="259.0" x2="589.9" y2="259.0" stroke="#aaa" stroke-width="0.6" />
<line x1="524.4" y1="232.5" x2="524.4" y2="261.7" stroke="#111" stroke-width="1.1" stroke-dasharray="2.0 0.9"/>
<line x1="535.2" y1="232.5" x2="535.2" y2="261.7" stroke="#111" stroke-width="1.1" stroke-dasharray="2.0 0.9"/>
<line x1="546.7" y1="232.5" x2="546.7" y2="261.7" stroke="#111" stroke-width="1.1" stroke-dasharray="2.0 0.9"/>
<line x1="557.5" y1="232.5" x2="557.5" y2="261.7" stroke="#111" stroke-width="1.1" stroke-dasharray="2.0 0.9"/>
<line x1="569.5" y1="232.5" x2="569.5" y2="261.7" stroke="#111" stroke-width="1.1" stroke-dasharray="2.0 0.9"/>
<line x1="580.8" y1="232.5" x2="580.8" y2="261.7" stroke="#111" stroke-width="1.1" stroke-dasharray="2.0 0.9"/>
<rect x="553.6" y="236.5" width="0.5" height="2.2" fill="#777"/>
<rect x="553.1" y="248.1" width="0.5" height="2.2" fill="#777"/>
<rect x="532.0" y="245.2" width="0.5" height="2.2" fill="#777"/>
<rect x="531.3" y="256.8" width="0.5" height="2.2" fill="#777"/>
<rect x="570.1" y="248.1" width="0.5" height="2.2" fill="#777"/>
<rect x="564.6" y="242.3" width="0.5" height="2.2" fill="#777"/>
<rect x="560.7" y="253.9" width="0.5" height="2.2" fill="#777"/>
<rect x="582.4" y="253.9" width="0.5" height="2.2" fill="#777"/>
<rect x="555.8" y="253.9" width="0.5" height="2.2" fill="#777"/>
<rect x="539.0" y="253.9" width="0.5" height="2.2" fill="#777"/>
<rect x="579.4" y="239.4" width="0.5" height="2.2" fill="#777"/>
<rect x="565.0" y="245.2" width="0.5" height="2.2" fill="#777"/>
<rect x="560.3" y="248.1" width="0.5" height="2.2" fill="#777"/>
<rect x="554.0" y="233.6" width="0.5" height="2.2" fill="#777"/>
<rect x="536.2" y="251.0" width="0.5" height="2.2" fill="#777"/>
<rect x="586.7" y="259.7" width="0.5" height="2.2" fill="#777"/>
<rect x="553.3" y="253.9" width="0.5" height="2.2" fill="#777"/>
<rect x="584.2" y="256.8" width="0.5" height="2.2" fill="#777"/>
<rect x="554.1" y="242.3" width="0.5" height="2.2" fill="#777"/>
<rect x="578.5" y="259.7" width="0.5" height="2.2" fill="#777"/>
<rect x="548.9" y="239.4" width="0.5" height="2.2" fill="#777"/>
<rect x="549.3" y="251.0" width="0.5" height="2.2" fill="#777"/>
<rect x="582.1" y="253.9" width="0.5" height="2.2" fill="#777"/>
<rect x="545.9" y="236.5" width="0.5" height="2.2" fill="#777"/>
<rect x="548.3" y="239.4" width="0.5" height="2.2" fill="#777"/>
<rect x="521.8" y="287" width="70.4" height="34.8" fill="#fff" stroke="#5ab58a" stroke-width="1.4"/>
<rect x="523.9" y="288.80" width="2.0" height="2.31" fill="#111"/>
<rect x="574.0" y="288.80" width="2.4" height="2.31" fill="#111"/>
<rect x="535.61" y="288.80" width="0.80" height="2.21" fill="#000" opacity="0.39"/>
<rect x="540.31" y="288.80" width="0.80" height="2.21" fill="#000" opacity="0.44"/>
<rect x="554.19" y="288.80" width="0.80" height="2.21" fill="#000" opacity="0.59"/>
<rect x="569.02" y="288.80" width="0.80" height="2.21" fill="#000" opacity="0.37"/>
<rect x="531.23" y="288.80" width="0.6" height="2.21" fill="#000" opacity="0.55"/>
<rect x="543.02" y="288.80" width="0.6" height="2.21" fill="#000" opacity="0.50"/>
<rect x="558.08" y="288.80" width="0.6" height="2.21" fill="#000" opacity="0.49"/>
<rect x="572.80" y="288.80" width="0.6" height="2.21" fill="#000" opacity="0.71"/>
<rect x="588.5" y="288.80" width="0.5" height="2.21" fill="#444"/>
<rect x="577.7" y="288.80" width="0.5" height="2.21" fill="#444"/>
<rect x="584.7" y="288.80" width="0.5" height="2.21" fill="#444"/>
<line x1="524.3" y1="291.2" x2="589.7" y2="291.2" stroke="#222" stroke-width="0.5" />
<rect x="523.9" y="291.41" width="2.0" height="2.31" fill="#111"/>
<rect x="574.0" y="291.41" width="2.4" height="2.31" fill="#111"/>
<rect x="531.18" y="291.41" width="0.80" height="2.21" fill="#000" opacity="0.89"/>
<rect x="536.00" y="291.41" width="0.80" height="2.21" fill="#000" opacity="0.67"/>
<rect x="540.55" y="291.41" width="0.80" height="2.21" fill="#000" opacity="0.71"/>
<rect x="547.84" y="291.41" width="0.80" height="2.21" fill="#000" opacity="0.73"/>
<rect x="550.71" y="291.41" width="0.80" height="2.21" fill="#000" opacity="0.55"/>
<rect x="553.78" y="291.41" width="0.80" height="2.21" fill="#000" opacity="0.60"/>
<rect x="556.68" y="291.41" width="0.80" height="2.21" fill="#000" opacity="0.70"/>
<rect x="559.50" y="291.41" width="0.80" height="2.21" fill="#000" opacity="0.90"/>
<rect x="562.17" y="291.41" width="0.80" height="2.21" fill="#000" opacity="0.52"/>
<rect x="569.92" y="291.41" width="0.80" height="2.21" fill="#000" opacity="0.87"/>
<rect x="529.00" y="291.41" width="0.6" height="2.21" fill="#000" opacity="0.57"/>
<rect x="530.85" y="291.41" width="0.6" height="2.21" fill="#000" opacity="0.72"/>
<rect x="531.85" y="291.41" width="0.6" height="2.21" fill="#000" opacity="0.66"/>
<rect x="535.39" y="291.41" width="0.6" height="2.21" fill="#000" opacity="0.66"/>
<rect x="549.42" y="291.41" width="0.6" height="2.21" fill="#000" opacity="0.53"/>
<rect x="556.97" y="291.41" width="0.6" height="2.21" fill="#000" opacity="0.53"/>
<rect x="561.39" y="291.41" width="0.6" height="2.21" fill="#000" opacity="0.63"/>
<rect x="562.89" y="291.41" width="0.6" height="2.21" fill="#000" opacity="0.75"/>
<rect x="586.6" y="291.41" width="0.5" height="2.21" fill="#444"/>
<rect x="585.5" y="291.41" width="0.5" height="2.21" fill="#444"/>
<rect x="579.3" y="291.41" width="0.5" height="2.21" fill="#444"/>
<line x1="524.3" y1="293.8" x2="589.7" y2="293.8" stroke="#222" stroke-width="0.5" />
<rect x="523.9" y="294.02" width="2.0" height="2.31" fill="#111"/>
<rect x="574.0" y="294.02" width="2.4" height="2.31" fill="#111"/>
<rect x="536.13" y="294.02" width="0.80" height="2.21" fill="#000" opacity="0.72"/>
<rect x="540.58" y="294.02" width="0.80" height="2.21" fill="#000" opacity="0.83"/>
<rect x="545.20" y="294.02" width="0.80" height="2.21" fill="#000" opacity="0.47"/>
<rect x="548.10" y="294.02" width="0.80" height="2.21" fill="#000" opacity="0.76"/>
<rect x="550.67" y="294.02" width="0.80" height="2.21" fill="#000" opacity="0.75"/>
<rect x="553.32" y="294.02" width="0.80" height="2.21" fill="#000" opacity="0.90"/>
<rect x="556.25" y="294.02" width="0.80" height="2.21" fill="#000" opacity="0.55"/>
<rect x="565.43" y="294.02" width="0.80" height="2.21" fill="#000" opacity="0.37"/>
<rect x="570.17" y="294.02" width="0.80" height="2.21" fill="#000" opacity="0.73"/>
<rect x="533.05" y="294.02" width="0.6" height="2.21" fill="#000" opacity="0.72"/>
<rect x="534.15" y="294.02" width="0.6" height="2.21" fill="#000" opacity="0.78"/>
<rect x="548.78" y="294.02" width="0.6" height="2.21" fill="#000" opacity="0.59"/>
<rect x="555.84" y="294.02" width="0.6" height="2.21" fill="#000" opacity="0.73"/>
<rect x="557.21" y="294.02" width="0.6" height="2.21" fill="#000" opacity="0.71"/>
<rect x="558.66" y="294.02" width="0.6" height="2.21" fill="#000" opacity="0.73"/>
<rect x="560.99" y="294.02" width="0.6" height="2.21" fill="#000" opacity="0.42"/>
<rect x="569.25" y="294.02" width="0.6" height="2.21" fill="#000" opacity="0.63"/>
<rect x="570.11" y="294.02" width="0.6" height="2.21" fill="#000" opacity="0.49"/>
<rect x="571.04" y="294.02" width="0.6" height="2.21" fill="#000" opacity="0.58"/>
<rect x="571.97" y="294.02" width="0.6" height="2.21" fill="#000" opacity="0.54"/>
<rect x="580.1" y="294.02" width="0.5" height="2.21" fill="#444"/>
<rect x="584.7" y="294.02" width="0.5" height="2.21" fill="#444"/>
<rect x="580.0" y="294.02" width="0.5" height="2.21" fill="#444"/>
<line x1="524.3" y1="296.4" x2="589.7" y2="296.4" stroke="#222" stroke-width="0.5" />
<rect x="523.9" y="296.62" width="2.0" height="2.31" fill="#111"/>
<rect x="574.0" y="296.62" width="2.4" height="2.31" fill="#111"/>
<rect x="530.29" y="296.62" width="0.80" height="2.21" fill="#000" opacity="0.76"/>
<rect x="544.18" y="296.62" width="0.80" height="2.21" fill="#000" opacity="0.54"/>
<rect x="548.11" y="296.62" width="0.80" height="2.21" fill="#000" opacity="0.44"/>
<rect x="553.28" y="296.62" width="0.80" height="2.21" fill="#000" opacity="0.71"/>
<rect x="556.66" y="296.62" width="0.80" height="2.21" fill="#000" opacity="0.59"/>
<rect x="559.45" y="296.62" width="0.80" height="2.21" fill="#000" opacity="0.50"/>
<rect x="562.89" y="296.62" width="0.80" height="2.21" fill="#000" opacity="0.58"/>
<rect x="565.04" y="296.62" width="0.80" height="2.21" fill="#000" opacity="0.56"/>
<rect x="528.41" y="296.62" width="0.6" height="2.21" fill="#000" opacity="0.55"/>
<rect x="531.20" y="296.62" width="0.6" height="2.21" fill="#000" opacity="0.37"/>
<rect x="543.04" y="296.62" width="0.6" height="2.21" fill="#000" opacity="0.56"/>
<rect x="561.12" y="296.62" width="0.6" height="2.21" fill="#000" opacity="0.46"/>
<rect x="569.25" y="296.62" width="0.6" height="2.21" fill="#000" opacity="0.46"/>
<rect x="572.40" y="296.62" width="0.6" height="2.21" fill="#000" opacity="0.44"/>
<rect x="585.7" y="296.62" width="0.5" height="2.21" fill="#444"/>
<rect x="584.3" y="296.62" width="0.5" height="2.21" fill="#444"/>
<rect x="587.3" y="296.62" width="0.5" height="2.21" fill="#444"/>
<line x1="524.3" y1="299.0" x2="589.7" y2="299.0" stroke="#222" stroke-width="0.5" />
<rect x="523.9" y="299.23" width="2.0" height="2.31" fill="#111"/>
<rect x="574.0" y="299.23" width="2.4" height="2.31" fill="#111"/>
<rect x="531.12" y="299.23" width="0.80" height="2.21" fill="#000" opacity="0.72"/>
<rect x="535.34" y="299.23" width="0.80" height="2.21" fill="#000" opacity="0.52"/>
<rect x="540.24" y="299.23" width="0.80" height="2.21" fill="#000" opacity="0.52"/>
<rect x="550.35" y="299.23" width="0.80" height="2.21" fill="#000" opacity="0.85"/>
<rect x="553.92" y="299.23" width="0.80" height="2.21" fill="#000" opacity="0.86"/>
<rect x="562.33" y="299.23" width="0.80" height="2.21" fill="#000" opacity="0.53"/>
<rect x="565.35" y="299.23" width="0.80" height="2.21" fill="#000" opacity="0.40"/>
<rect x="527.89" y="299.23" width="0.6" height="2.21" fill="#000" opacity="0.34"/>
<rect x="532.62" y="299.23" width="0.6" height="2.21" fill="#000" opacity="0.36"/>
<rect x="538.61" y="299.23" width="0.6" height="2.21" fill="#000" opacity="0.78"/>
<rect x="560.00" y="299.23" width="0.6" height="2.21" fill="#000" opacity="0.77"/>
<rect x="562.81" y="299.23" width="0.6" height="2.21" fill="#000" opacity="0.76"/>
<rect x="564.74" y="299.23" width="0.6" height="2.21" fill="#000" opacity="0.56"/>
<rect x="568.16" y="299.23" width="0.6" height="2.21" fill="#000" opacity="0.64"/>
<rect x="572.00" y="299.23" width="0.6" height="2.21" fill="#000" opacity="0.39"/>
<rect x="578.8" y="299.23" width="0.5" height="2.21" fill="#444"/>
<rect x="577.3" y="299.23" width="0.5" height="2.21" fill="#444"/>
<rect x="588.9" y="299.23" width="0.5" height="2.21" fill="#444"/>
<line x1="524.3" y1="301.6" x2="589.7" y2="301.6" stroke="#222" stroke-width="0.5" />
<rect x="523.9" y="301.84" width="2.0" height="2.31" fill="#111"/>
<rect x="574.0" y="301.84" width="2.4" height="2.31" fill="#111"/>
<rect x="535.52" y="301.84" width="0.80" height="2.21" fill="#000" opacity="0.58"/>
<rect x="540.20" y="301.84" width="0.80" height="2.21" fill="#000" opacity="0.56"/>
<rect x="544.02" y="301.84" width="0.80" height="2.21" fill="#000" opacity="0.80"/>
<rect x="556.58" y="301.84" width="0.80" height="2.21" fill="#000" opacity="0.59"/>
<rect x="527.00" y="301.84" width="0.6" height="2.21" fill="#000" opacity="0.76"/>
<rect x="546.37" y="301.84" width="0.6" height="2.21" fill="#000" opacity="0.38"/>
<rect x="550.02" y="301.84" width="0.6" height="2.21" fill="#000" opacity="0.79"/>
<rect x="551.59" y="301.84" width="0.6" height="2.21" fill="#000" opacity="0.60"/>
<rect x="562.96" y="301.84" width="0.6" height="2.21" fill="#000" opacity="0.32"/>
<rect x="566.82" y="301.84" width="0.6" height="2.21" fill="#000" opacity="0.69"/>
<rect x="568.06" y="301.84" width="0.6" height="2.21" fill="#000" opacity="0.46"/>
<rect x="571.16" y="301.84" width="0.6" height="2.21" fill="#000" opacity="0.63"/>
<rect x="577.2" y="301.84" width="0.5" height="2.21" fill="#444"/>
<rect x="581.2" y="301.84" width="0.5" height="2.21" fill="#444"/>
<rect x="588.4" y="301.84" width="0.5" height="2.21" fill="#444"/>
<line x1="524.3" y1="304.3" x2="589.7" y2="304.3" stroke="#222" stroke-width="0.5" />
<rect x="523.9" y="304.45" width="2.0" height="2.31" fill="#111"/>
<rect x="574.0" y="304.45" width="2.4" height="2.31" fill="#111"/>
<rect x="535.69" y="304.45" width="0.80" height="2.21" fill="#000" opacity="0.49"/>
<rect x="547.32" y="304.45" width="0.80" height="2.21" fill="#000" opacity="0.83"/>
<rect x="559.87" y="304.45" width="0.80" height="2.21" fill="#000" opacity="0.53"/>
<rect x="566.20" y="304.45" width="0.80" height="2.21" fill="#000" opacity="0.41"/>
<rect x="527.00" y="304.45" width="0.6" height="2.21" fill="#000" opacity="0.61"/>
<rect x="529.18" y="304.45" width="0.6" height="2.21" fill="#000" opacity="0.51"/>
<rect x="540.70" y="304.45" width="0.6" height="2.21" fill="#000" opacity="0.30"/>
<rect x="544.54" y="304.45" width="0.6" height="2.21" fill="#000" opacity="0.57"/>
<rect x="557.12" y="304.45" width="0.6" height="2.21" fill="#000" opacity="0.65"/>
<rect x="564.13" y="304.45" width="0.6" height="2.21" fill="#000" opacity="0.48"/>
<rect x="587.6" y="304.45" width="0.5" height="2.21" fill="#444"/>
<rect x="586.6" y="304.45" width="0.5" height="2.21" fill="#444"/>
<rect x="580.2" y="304.45" width="0.5" height="2.21" fill="#444"/>
<line x1="524.3" y1="306.9" x2="589.7" y2="306.9" stroke="#222" stroke-width="0.5" />
<rect x="523.9" y="307.06" width="2.0" height="2.31" fill="#111"/>
<rect x="574.0" y="307.06" width="2.4" height="2.31" fill="#111"/>
<rect x="545.02" y="307.06" width="0.80" height="2.21" fill="#000" opacity="0.83"/>
<rect x="547.04" y="307.06" width="0.80" height="2.21" fill="#000" opacity="0.35"/>
<rect x="550.46" y="307.06" width="0.80" height="2.21" fill="#000" opacity="0.63"/>
<rect x="553.19" y="307.06" width="0.80" height="2.21" fill="#000" opacity="0.45"/>
<rect x="556.59" y="307.06" width="0.80" height="2.21" fill="#000" opacity="0.87"/>
<rect x="560.17" y="307.06" width="0.80" height="2.21" fill="#000" opacity="0.63"/>
<rect x="569.01" y="307.06" width="0.80" height="2.21" fill="#000" opacity="0.41"/>
<rect x="537.49" y="307.06" width="0.6" height="2.21" fill="#000" opacity="0.40"/>
<rect x="538.62" y="307.06" width="0.6" height="2.21" fill="#000" opacity="0.39"/>
<rect x="542.15" y="307.06" width="0.6" height="2.21" fill="#000" opacity="0.73"/>
<rect x="543.68" y="307.06" width="0.6" height="2.21" fill="#000" opacity="0.44"/>
<rect x="546.82" y="307.06" width="0.6" height="2.21" fill="#000" opacity="0.43"/>
<rect x="559.33" y="307.06" width="0.6" height="2.21" fill="#000" opacity="0.48"/>
<rect x="564.48" y="307.06" width="0.6" height="2.21" fill="#000" opacity="0.39"/>
<rect x="570.22" y="307.06" width="0.6" height="2.21" fill="#000" opacity="0.74"/>
<rect x="572.23" y="307.06" width="0.6" height="2.21" fill="#000" opacity="0.70"/>
<rect x="578.0" y="307.06" width="0.5" height="2.21" fill="#444"/>
<rect x="579.0" y="307.06" width="0.5" height="2.21" fill="#444"/>
<rect x="579.1" y="307.06" width="0.5" height="2.21" fill="#444"/>
<line x1="524.3" y1="309.5" x2="589.7" y2="309.5" stroke="#222" stroke-width="0.5" />
<rect x="523.9" y="309.67" width="2.0" height="2.31" fill="#111"/>
<rect x="574.0" y="309.67" width="2.4" height="2.31" fill="#111"/>
<rect x="530.51" y="309.67" width="0.80" height="2.21" fill="#000" opacity="0.60"/>
<rect x="535.98" y="309.67" width="0.80" height="2.21" fill="#000" opacity="0.55"/>
<rect x="550.14" y="309.67" width="0.80" height="2.21" fill="#000" opacity="0.55"/>
<rect x="560.09" y="309.67" width="0.80" height="2.21" fill="#000" opacity="0.50"/>
<rect x="562.12" y="309.67" width="0.80" height="2.21" fill="#000" opacity="0.83"/>
<rect x="569.89" y="309.67" width="0.80" height="2.21" fill="#000" opacity="0.40"/>
<rect x="532.13" y="309.67" width="0.6" height="2.21" fill="#000" opacity="0.61"/>
<rect x="536.45" y="309.67" width="0.6" height="2.21" fill="#000" opacity="0.79"/>
<rect x="550.30" y="309.67" width="0.6" height="2.21" fill="#000" opacity="0.45"/>
<rect x="564.68" y="309.67" width="0.6" height="2.21" fill="#000" opacity="0.79"/>
<rect x="572.03" y="309.67" width="0.6" height="2.21" fill="#000" opacity="0.38"/>
<rect x="587.0" y="309.67" width="0.5" height="2.21" fill="#444"/>
<rect x="585.5" y="309.67" width="0.5" height="2.21" fill="#444"/>
<rect x="586.9" y="309.67" width="0.5" height="2.21" fill="#444"/>
<line x1="524.3" y1="312.1" x2="589.7" y2="312.1" stroke="#222" stroke-width="0.5" />
<rect x="523.9" y="312.28" width="2.0" height="2.31" fill="#111"/>
<rect x="574.0" y="312.28" width="2.4" height="2.31" fill="#111"/>
<rect x="540.03" y="312.28" width="0.80" height="2.21" fill="#000" opacity="0.74"/>
<rect x="544.55" y="312.28" width="0.80" height="2.21" fill="#000" opacity="0.81"/>
<rect x="550.69" y="312.28" width="0.80" height="2.21" fill="#000" opacity="0.62"/>
<rect x="553.64" y="312.28" width="0.80" height="2.21" fill="#000" opacity="0.88"/>
<rect x="556.06" y="312.28" width="0.80" height="2.21" fill="#000" opacity="0.61"/>
<rect x="529.50" y="312.28" width="0.6" height="2.21" fill="#000" opacity="0.49"/>
<rect x="530.39" y="312.28" width="0.6" height="2.21" fill="#000" opacity="0.49"/>
<rect x="532.94" y="312.28" width="0.6" height="2.21" fill="#000" opacity="0.43"/>
<rect x="539.30" y="312.28" width="0.6" height="2.21" fill="#000" opacity="0.53"/>
<rect x="545.12" y="312.28" width="0.6" height="2.21" fill="#000" opacity="0.68"/>
<rect x="550.87" y="312.28" width="0.6" height="2.21" fill="#000" opacity="0.66"/>
<rect x="554.33" y="312.28" width="0.6" height="2.21" fill="#000" opacity="0.62"/>
<rect x="571.71" y="312.28" width="0.6" height="2.21" fill="#000" opacity="0.55"/>
<rect x="580.9" y="312.28" width="0.5" height="2.21" fill="#444"/>
<rect x="586.8" y="312.28" width="0.5" height="2.21" fill="#444"/>
<rect x="586.0" y="312.28" width="0.5" height="2.21" fill="#444"/>
<line x1="524.3" y1="314.7" x2="589.7" y2="314.7" stroke="#222" stroke-width="0.5" />
<rect x="523.9" y="314.88" width="2.0" height="2.31" fill="#111"/>
<rect x="574.0" y="314.88" width="2.4" height="2.31" fill="#111"/>
<rect x="544.35" y="314.88" width="0.80" height="2.21" fill="#000" opacity="0.55"/>
<rect x="547.77" y="314.88" width="0.80" height="2.21" fill="#000" opacity="0.56"/>
<rect x="553.36" y="314.88" width="0.80" height="2.21" fill="#000" opacity="0.77"/>
<rect x="557.16" y="314.88" width="0.80" height="2.21" fill="#000" opacity="0.86"/>
<rect x="559.78" y="314.88" width="0.80" height="2.21" fill="#000" opacity="0.56"/>
<rect x="565.75" y="314.88" width="0.80" height="2.21" fill="#000" opacity="0.82"/>
<rect x="569.64" y="314.88" width="0.80" height="2.21" fill="#000" opacity="0.77"/>
<rect x="531.52" y="314.88" width="0.6" height="2.21" fill="#000" opacity="0.76"/>
<rect x="535.17" y="314.88" width="0.6" height="2.21" fill="#000" opacity="0.44"/>
<rect x="536.73" y="314.88" width="0.6" height="2.21" fill="#000" opacity="0.73"/>
<rect x="546.08" y="314.88" width="0.6" height="2.21" fill="#000" opacity="0.49"/>
<rect x="569.32" y="314.88" width="0.6" height="2.21" fill="#000" opacity="0.68"/>
<rect x="586.2" y="314.88" width="0.5" height="2.21" fill="#444"/>
<rect x="585.1" y="314.88" width="0.5" height="2.21" fill="#444"/>
<rect x="586.4" y="314.88" width="0.5" height="2.21" fill="#444"/>
<line x1="524.3" y1="317.3" x2="589.7" y2="317.3" stroke="#222" stroke-width="0.5" />
<rect x="523.9" y="317.49" width="2.0" height="2.31" fill="#111"/>
<rect x="574.0" y="317.49" width="2.4" height="2.31" fill="#111"/>
<rect x="530.63" y="317.49" width="0.80" height="2.21" fill="#000" opacity="0.64"/>
<rect x="535.27" y="317.49" width="0.80" height="2.21" fill="#000" opacity="0.45"/>
<rect x="540.05" y="317.49" width="0.80" height="2.21" fill="#000" opacity="0.42"/>
<rect x="544.94" y="317.49" width="0.80" height="2.21" fill="#000" opacity="0.41"/>
<rect x="547.67" y="317.49" width="0.80" height="2.21" fill="#000" opacity="0.73"/>
<rect x="551.04" y="317.49" width="0.80" height="2.21" fill="#000" opacity="0.67"/>
<rect x="559.84" y="317.49" width="0.80" height="2.21" fill="#000" opacity="0.71"/>
<rect x="529.34" y="317.49" width="0.6" height="2.21" fill="#000" opacity="0.48"/>
<rect x="531.18" y="317.49" width="0.6" height="2.21" fill="#000" opacity="0.70"/>
<rect x="537.22" y="317.49" width="0.6" height="2.21" fill="#000" opacity="0.41"/>
<rect x="541.33" y="317.49" width="0.6" height="2.21" fill="#000" opacity="0.78"/>
<rect x="552.22" y="317.49" width="0.6" height="2.21" fill="#000" opacity="0.79"/>
<rect x="560.10" y="317.49" width="0.6" height="2.21" fill="#000" opacity="0.35"/>
<rect x="561.23" y="317.49" width="0.6" height="2.21" fill="#000" opacity="0.43"/>
<rect x="565.19" y="317.49" width="0.6" height="2.21" fill="#000" opacity="0.73"/>
<rect x="568.59" y="317.49" width="0.6" height="2.21" fill="#000" opacity="0.38"/>
<rect x="585.7" y="317.49" width="0.5" height="2.21" fill="#444"/>
<rect x="580.3" y="317.49" width="0.5" height="2.21" fill="#444"/>
<rect x="584.8" y="317.49" width="0.5" height="2.21" fill="#444"/>
<line x1="524.3" y1="319.9" x2="589.7" y2="319.9" stroke="#222" stroke-width="0.5" />
<text x="-1.4" y="370.4" font-size="16" text-anchor="start" fill="#111" font-weight="bold" font-style="normal" >B</text>
<defs><radialGradient id="gB"><stop offset="0" stop-color="#2c728e" stop-opacity="1"/><stop offset="0.45" stop-color="#3b518b" stop-opacity="0.8"/><stop offset="1" stop-color="#472c7a" stop-opacity="0"/></radialGradient><radialGradient id="gG"><stop offset="0" stop-color="#3fbc73" stop-opacity="0.95"/><stop offset="0.5" stop-color="#22a884" stop-opacity="0.7"/><stop offset="1" stop-color="#2a788e" stop-opacity="0"/></radialGradient><radialGradient id="gY"><stop offset="0" stop-color="#e8e419" stop-opacity="0.95"/><stop offset="0.5" stop-color="#a5db36" stop-opacity="0.6"/><stop offset="1" stop-color="#7ad151" stop-opacity="0"/></radialGradient></defs>
<svg x="54.90" y="370.40" width="22.5" height="22.6" overflow="hidden">
<rect width="22.5" height="22.6" fill="#441e66"/>
<ellipse cx="8.6" cy="12.4" rx="32.4" ry="11.8" fill="url(#gB)"/>
<ellipse cx="8.6" cy="12.4" rx="18.6" ry="6.8" fill="url(#gG)"/>
<ellipse cx="7.3" cy="12.4" rx="8.5" ry="3.1" fill="url(#gY)"/>
<circle cx="15.3" cy="18.5" r="2.1" fill="#bc8f8f"/>
<circle cx="4.5" cy="12.4" r="2.1" fill="#f08080"/>
<circle cx="4.5" cy="12.4" r="2.15" fill="#8b0000"/>
</svg>
<svg x="82.05" y="370.40" width="22.5" height="22.6" overflow="hidden">
<rect width="22.5" height="22.6" fill="#441e66"/>
<ellipse cx="9.0" cy="12.4" rx="27.0" ry="11.8" fill="url(#gB)"/>
<ellipse cx="9.0" cy="12.4" rx="15.5" ry="6.8" fill="url(#gG)"/>
<ellipse cx="8.1" cy="12.4" rx="7.1" ry="3.1" fill="url(#gY)"/>
<circle cx="9.0" cy="18.5" r="2.1" fill="#bc8f8f"/>
<circle cx="3.4" cy="12.4" r="2.1" fill="#f08080"/>
<circle cx="6.1" cy="12.4" r="2.15" fill="#8b0000"/>
</svg>
<svg x="109.20" y="370.40" width="22.5" height="22.6" overflow="hidden">
<rect width="22.5" height="22.6" fill="#441e66"/>
<ellipse cx="11.2" cy="12.4" rx="23.4" ry="11.8" fill="url(#gB)" transform="rotate(-35 11.2 12.4)"/>
<ellipse cx="11.2" cy="12.4" rx="13.5" ry="6.8" fill="url(#gG)" transform="rotate(-35 11.2 12.4)"/>
<ellipse cx="11.1" cy="12.4" rx="6.1" ry="3.1" fill="url(#gY)" transform="rotate(-35 11.2 12.4)"/>
<circle cx="4.5" cy="18.5" r="2.1" fill="#bc8f8f"/>
<circle cx="12.6" cy="12.4" r="2.1" fill="#f08080"/>
<circle cx="10.8" cy="12.4" r="2.15" fill="#8b0000"/>
</svg>
<svg x="136.35" y="370.40" width="22.5" height="22.6" overflow="hidden">
<rect width="22.5" height="22.6" fill="#441e66"/>
<ellipse cx="6.8" cy="12.4" rx="27.0" ry="11.8" fill="url(#gB)"/>
<ellipse cx="6.8" cy="12.4" rx="15.5" ry="6.8" fill="url(#gG)"/>
<ellipse cx="6.4" cy="12.4" rx="7.1" ry="3.1" fill="url(#gY)"/>
<circle cx="13.5" cy="18.5" r="2.1" fill="#bc8f8f"/>
<circle cx="7.9" cy="12.4" r="2.1" fill="#f08080"/>
<circle cx="5.6" cy="12.4" r="2.15" fill="#8b0000"/>
</svg>
<svg x="163.50" y="370.40" width="22.5" height="22.6" overflow="hidden">
<rect width="22.5" height="22.6" fill="#441e66"/>
<ellipse cx="1.8" cy="12.4" rx="15.3" ry="11.8" fill="url(#gB)"/>
<ellipse cx="1.8" cy="12.4" rx="8.8" ry="6.8" fill="url(#gG)"/>
<ellipse cx="2.9" cy="12.4" rx="4.0" ry="3.1" fill="url(#gY)"/>
<circle cx="0.7" cy="18.5" r="2.1" fill="#bc8f8f"/>
<circle cx="5.4" cy="12.4" r="2.15" fill="#8b0000"/>
</svg>
<svg x="190.65" y="370.40" width="22.5" height="22.6" overflow="hidden">
<rect width="22.5" height="22.6" fill="#441e66"/>
<ellipse cx="2.2" cy="12.4" rx="15.3" ry="11.8" fill="url(#gB)"/>
<ellipse cx="2.2" cy="12.4" rx="8.8" ry="6.8" fill="url(#gG)"/>
<ellipse cx="2.4" cy="12.4" rx="4.0" ry="3.1" fill="url(#gY)"/>
<circle cx="9.0" cy="18.5" r="2.1" fill="#bc8f8f"/>
<circle cx="2.7" cy="12.4" r="2.15" fill="#8b0000"/>
</svg>
<svg x="217.80" y="370.40" width="22.5" height="22.6" overflow="hidden">
<rect width="22.5" height="22.6" fill="#441e66"/>
<ellipse cx="11.7" cy="12.4" rx="25.2" ry="11.8" fill="url(#gB)"/>
<ellipse cx="11.7" cy="12.4" rx="14.5" ry="6.8" fill="url(#gG)"/>
<ellipse cx="10.2" cy="12.4" rx="6.6" ry="3.1" fill="url(#gY)"/>
<circle cx="0.7" cy="18.5" r="2.1" fill="#bc8f8f"/>
<circle cx="7.9" cy="12.4" r="2.1" fill="#f08080"/>
<circle cx="6.8" cy="12.4" r="2.15" fill="#8b0000"/>
</svg>
<svg x="244.95" y="370.40" width="22.5" height="22.6" overflow="hidden">
<rect width="22.5" height="22.6" fill="#441e66"/>
<ellipse cx="13.5" cy="12.4" rx="25.2" ry="11.8" fill="url(#gB)"/>
<ellipse cx="13.5" cy="12.4" rx="14.5" ry="6.8" fill="url(#gG)"/>
<ellipse cx="12.8" cy="12.4" rx="6.6" ry="3.1" fill="url(#gY)"/>
<circle cx="2.2" cy="18.5" r="2.1" fill="#bc8f8f"/>
<circle cx="12.8" cy="12.4" r="2.1" fill="#f08080"/>
<circle cx="11.2" cy="12.4" r="2.15" fill="#8b0000"/>
</svg>
<svg x="272.10" y="370.40" width="22.5" height="22.6" overflow="hidden">
<rect width="22.5" height="22.6" fill="#441e66"/>
<ellipse cx="13.9" cy="12.4" rx="25.2" ry="11.8" fill="url(#gB)"/>
<ellipse cx="13.9" cy="12.4" rx="14.5" ry="6.8" fill="url(#gG)"/>
<ellipse cx="12.5" cy="12.4" rx="6.6" ry="3.1" fill="url(#gY)"/>
<circle cx="3.4" cy="18.5" r="2.1" fill="#bc8f8f"/>
<circle cx="12.6" cy="12.4" r="2.1" fill="#f08080"/>
<circle cx="9.0" cy="12.4" r="2.15" fill="#8b0000"/>
</svg>
<svg x="82.05" y="398.14" width="22.5" height="22.6" overflow="hidden">
<rect width="22.5" height="22.6" fill="#441e66"/>
<ellipse cx="9.0" cy="15.4" rx="27.0" ry="28.9" fill="url(#gB)"/>
<ellipse cx="9.0" cy="15.4" rx="15.5" ry="16.6" fill="url(#gG)"/>
<ellipse cx="8.1" cy="16.3" rx="7.1" ry="7.6" fill="url(#gY)"/>
<circle cx="9.0" cy="7.9" r="2.1" fill="#bc8f8f"/>
<circle cx="3.4" cy="18.5" r="2.1" fill="#f08080"/>
<circle cx="6.1" cy="18.5" r="2.15" fill="#8b0000"/>
</svg>
<svg x="109.20" y="398.14" width="22.5" height="22.6" overflow="hidden">
<rect width="22.5" height="22.6" fill="#441e66"/>
<ellipse cx="11.2" cy="15.4" rx="23.4" ry="28.9" fill="url(#gB)"/>
<ellipse cx="11.2" cy="15.4" rx="13.5" ry="16.6" fill="url(#gG)"/>
<ellipse cx="11.1" cy="16.3" rx="6.1" ry="7.6" fill="url(#gY)"/>
<circle cx="4.5" cy="7.9" r="2.1" fill="#bc8f8f"/>
<circle cx="12.6" cy="18.5" r="2.1" fill="#f08080"/>
<circle cx="10.8" cy="18.5" r="2.15" fill="#8b0000"/>
</svg>
<svg x="136.35" y="398.14" width="22.5" height="22.6" overflow="hidden">
<rect width="22.5" height="22.6" fill="#441e66"/>
<ellipse cx="6.8" cy="15.4" rx="27.0" ry="28.9" fill="url(#gB)"/>
<ellipse cx="6.8" cy="15.4" rx="15.5" ry="16.6" fill="url(#gG)"/>
<ellipse cx="6.4" cy="16.3" rx="7.1" ry="7.6" fill="url(#gY)"/>
<circle cx="13.5" cy="7.9" r="2.1" fill="#bc8f8f"/>
<circle cx="7.9" cy="18.5" r="2.1" fill="#f08080"/>
<circle cx="5.6" cy="18.5" r="2.15" fill="#8b0000"/>
</svg>
<svg x="163.50" y="398.14" width="22.5" height="22.6" overflow="hidden">
<rect width="22.5" height="22.6" fill="#441e66"/>
<ellipse cx="1.8" cy="15.4" rx="15.3" ry="28.9" fill="url(#gB)"/>
<ellipse cx="1.8" cy="15.4" rx="8.8" ry="16.6" fill="url(#gG)"/>
<ellipse cx="2.9" cy="16.3" rx="4.0" ry="7.6" fill="url(#gY)"/>
<circle cx="0.7" cy="7.9" r="2.1" fill="#bc8f8f"/>
<circle cx="5.4" cy="18.5" r="2.15" fill="#8b0000"/>
</svg>
<svg x="190.65" y="398.14" width="22.5" height="22.6" overflow="hidden">
<rect width="22.5" height="22.6" fill="#441e66"/>
<ellipse cx="2.2" cy="15.4" rx="15.3" ry="28.9" fill="url(#gB)"/>
<ellipse cx="2.2" cy="15.4" rx="8.8" ry="16.6" fill="url(#gG)"/>
<ellipse cx="2.4" cy="16.3" rx="4.0" ry="7.6" fill="url(#gY)"/>
<circle cx="9.0" cy="7.9" r="2.1" fill="#bc8f8f"/>
<circle cx="2.7" cy="18.5" r="2.15" fill="#8b0000"/>
</svg>
<svg x="217.80" y="398.14" width="22.5" height="22.6" overflow="hidden">
<rect width="22.5" height="22.6" fill="#441e66"/>
<ellipse cx="11.7" cy="15.4" rx="25.2" ry="28.9" fill="url(#gB)"/>
<ellipse cx="11.7" cy="15.4" rx="14.5" ry="16.6" fill="url(#gG)"/>
<ellipse cx="10.2" cy="16.3" rx="6.6" ry="7.6" fill="url(#gY)"/>
<circle cx="0.7" cy="7.9" r="2.1" fill="#bc8f8f"/>
<circle cx="7.9" cy="18.5" r="2.1" fill="#f08080"/>
<circle cx="6.8" cy="18.5" r="2.15" fill="#8b0000"/>
</svg>
<svg x="244.95" y="398.14" width="22.5" height="22.6" overflow="hidden">
<rect width="22.5" height="22.6" fill="#441e66"/>
<ellipse cx="13.5" cy="15.4" rx="25.2" ry="28.9" fill="url(#gB)"/>
<ellipse cx="13.5" cy="15.4" rx="14.5" ry="16.6" fill="url(#gG)"/>
<ellipse cx="12.8" cy="16.3" rx="6.6" ry="7.6" fill="url(#gY)"/>
<circle cx="2.2" cy="7.9" r="2.1" fill="#bc8f8f"/>
<circle cx="12.8" cy="18.5" r="2.1" fill="#f08080"/>
<circle cx="11.2" cy="18.5" r="2.15" fill="#8b0000"/>
</svg>
<svg x="272.10" y="398.14" width="22.5" height="22.6" overflow="hidden">
<rect width="22.5" height="22.6" fill="#441e66"/>
<ellipse cx="13.9" cy="15.4" rx="25.2" ry="28.9" fill="url(#gB)"/>
<ellipse cx="13.9" cy="15.4" rx="14.5" ry="16.6" fill="url(#gG)"/>
<ellipse cx="12.5" cy="16.3" rx="6.6" ry="7.6" fill="url(#gY)"/>
<circle cx="3.4" cy="7.9" r="2.1" fill="#bc8f8f"/>
<circle cx="12.6" cy="18.5" r="2.1" fill="#f08080"/>
<circle cx="9.0" cy="18.5" r="2.15" fill="#8b0000"/>
</svg>
<svg x="109.20" y="425.88" width="22.5" height="22.6" overflow="hidden">
<rect width="22.5" height="22.6" fill="#441e66"/>
<ellipse cx="11.2" cy="14.0" rx="23.4" ry="27.1" fill="url(#gB)"/>
<ellipse cx="11.2" cy="14.0" rx="13.5" ry="15.6" fill="url(#gG)"/>
<ellipse cx="11.1" cy="14.7" rx="6.1" ry="7.1" fill="url(#gY)"/>
<circle cx="4.5" cy="12.4" r="2.1" fill="#bc8f8f"/>
<circle cx="12.6" cy="19.0" r="2.1" fill="#f08080"/>
<circle cx="10.8" cy="16.3" r="2.15" fill="#8b0000"/>
</svg>
<svg x="136.35" y="425.88" width="22.5" height="22.6" overflow="hidden">
<rect width="22.5" height="22.6" fill="#441e66"/>
<ellipse cx="6.8" cy="14.0" rx="27.0" ry="27.1" fill="url(#gB)"/>
<ellipse cx="6.8" cy="14.0" rx="15.5" ry="15.6" fill="url(#gG)"/>
<ellipse cx="6.4" cy="14.7" rx="7.1" ry="7.1" fill="url(#gY)"/>
<circle cx="13.5" cy="12.4" r="2.1" fill="#bc8f8f"/>
<circle cx="7.9" cy="19.0" r="2.1" fill="#f08080"/>
<circle cx="5.6" cy="16.3" r="2.15" fill="#8b0000"/>
</svg>
<svg x="163.50" y="425.88" width="22.5" height="22.6" overflow="hidden">
<rect width="22.5" height="22.6" fill="#441e66"/>
<ellipse cx="1.8" cy="14.0" rx="15.3" ry="27.1" fill="url(#gB)"/>
<ellipse cx="1.8" cy="14.0" rx="8.8" ry="15.6" fill="url(#gG)"/>
<ellipse cx="2.9" cy="14.7" rx="4.0" ry="7.1" fill="url(#gY)"/>
<circle cx="0.7" cy="12.4" r="2.1" fill="#bc8f8f"/>
<circle cx="5.4" cy="16.3" r="2.15" fill="#8b0000"/>
</svg>
<svg x="190.65" y="425.88" width="22.5" height="22.6" overflow="hidden">
<rect width="22.5" height="22.6" fill="#441e66"/>
<ellipse cx="2.2" cy="14.0" rx="15.3" ry="27.1" fill="url(#gB)"/>
<ellipse cx="2.2" cy="14.0" rx="8.8" ry="15.6" fill="url(#gG)"/>
<ellipse cx="2.4" cy="14.7" rx="4.0" ry="7.1" fill="url(#gY)"/>
<circle cx="9.0" cy="12.4" r="2.1" fill="#bc8f8f"/>
<circle cx="2.7" cy="16.3" r="2.15" fill="#8b0000"/>
</svg>
<svg x="217.80" y="425.88" width="22.5" height="22.6" overflow="hidden">
<rect width="22.5" height="22.6" fill="#441e66"/>
<ellipse cx="11.7" cy="14.0" rx="25.2" ry="27.1" fill="url(#gB)"/>
<ellipse cx="11.7" cy="14.0" rx="14.5" ry="15.6" fill="url(#gG)"/>
<ellipse cx="10.2" cy="14.7" rx="6.6" ry="7.1" fill="url(#gY)"/>
<circle cx="0.7" cy="12.4" r="2.1" fill="#bc8f8f"/>
<circle cx="7.9" cy="19.0" r="2.1" fill="#f08080"/>
<circle cx="6.8" cy="16.3" r="2.15" fill="#8b0000"/>
</svg>
<svg x="244.95" y="425.88" width="22.5" height="22.6" overflow="hidden">
<rect width="22.5" height="22.6" fill="#441e66"/>
<ellipse cx="13.5" cy="14.0" rx="25.2" ry="27.1" fill="url(#gB)"/>
<ellipse cx="13.5" cy="14.0" rx="14.5" ry="15.6" fill="url(#gG)"/>
<ellipse cx="12.8" cy="14.7" rx="6.6" ry="7.1" fill="url(#gY)"/>
<circle cx="2.2" cy="12.4" r="2.1" fill="#bc8f8f"/>
<circle cx="12.8" cy="19.0" r="2.1" fill="#f08080"/>
<circle cx="11.2" cy="16.3" r="2.15" fill="#8b0000"/>
</svg>
<svg x="272.10" y="425.88" width="22.5" height="22.6" overflow="hidden">
<rect width="22.5" height="22.6" fill="#441e66"/>
<ellipse cx="13.9" cy="14.0" rx="25.2" ry="27.1" fill="url(#gB)"/>
<ellipse cx="13.9" cy="14.0" rx="14.5" ry="15.6" fill="url(#gG)"/>
<ellipse cx="12.5" cy="14.7" rx="6.6" ry="7.1" fill="url(#gY)"/>
<circle cx="3.4" cy="12.4" r="2.1" fill="#bc8f8f"/>
<circle cx="12.6" cy="19.0" r="2.1" fill="#f08080"/>
<circle cx="9.0" cy="16.3" r="2.15" fill="#8b0000"/>
</svg>
<svg x="136.35" y="453.62" width="22.5" height="22.6" overflow="hidden">
<rect width="22.5" height="22.6" fill="#441e66"/>
<ellipse cx="6.8" cy="11.3" rx="27.0" ry="22.6" fill="url(#gB)"/>
<ellipse cx="6.8" cy="11.3" rx="15.5" ry="13.0" fill="url(#gG)"/>
<ellipse cx="6.4" cy="11.3" rx="7.1" ry="5.9" fill="url(#gY)"/>
<circle cx="13.5" cy="16.3" r="2.1" fill="#bc8f8f"/>
<circle cx="7.9" cy="9.0" r="2.1" fill="#f08080"/>
<circle cx="5.6" cy="11.3" r="2.15" fill="#8b0000"/>
</svg>
<svg x="163.50" y="453.62" width="22.5" height="22.6" overflow="hidden">
<rect width="22.5" height="22.6" fill="#441e66"/>
<ellipse cx="1.8" cy="11.3" rx="15.3" ry="22.6" fill="url(#gB)"/>
<ellipse cx="1.8" cy="11.3" rx="8.8" ry="13.0" fill="url(#gG)"/>
<ellipse cx="2.9" cy="11.3" rx="4.0" ry="5.9" fill="url(#gY)"/>
<circle cx="0.7" cy="16.3" r="2.1" fill="#bc8f8f"/>
<circle cx="5.4" cy="11.3" r="2.15" fill="#8b0000"/>
</svg>
<svg x="190.65" y="453.62" width="22.5" height="22.6" overflow="hidden">
<rect width="22.5" height="22.6" fill="#441e66"/>
<ellipse cx="2.2" cy="11.3" rx="15.3" ry="22.6" fill="url(#gB)"/>
<ellipse cx="2.2" cy="11.3" rx="8.8" ry="13.0" fill="url(#gG)"/>
<ellipse cx="2.4" cy="11.3" rx="4.0" ry="5.9" fill="url(#gY)"/>
<circle cx="9.0" cy="16.3" r="2.1" fill="#bc8f8f"/>
<circle cx="2.7" cy="11.3" r="2.15" fill="#8b0000"/>
</svg>
<svg x="217.80" y="453.62" width="22.5" height="22.6" overflow="hidden">
<rect width="22.5" height="22.6" fill="#441e66"/>
<ellipse cx="11.7" cy="11.3" rx="25.2" ry="22.6" fill="url(#gB)"/>
<ellipse cx="11.7" cy="11.3" rx="14.5" ry="13.0" fill="url(#gG)"/>
<ellipse cx="10.2" cy="11.3" rx="6.6" ry="5.9" fill="url(#gY)"/>
<circle cx="0.7" cy="16.3" r="2.1" fill="#bc8f8f"/>
<circle cx="7.9" cy="9.0" r="2.1" fill="#f08080"/>
<circle cx="6.8" cy="11.3" r="2.15" fill="#8b0000"/>
</svg>
<svg x="244.95" y="453.62" width="22.5" height="22.6" overflow="hidden">
<rect width="22.5" height="22.6" fill="#441e66"/>
<ellipse cx="13.5" cy="11.3" rx="25.2" ry="22.6" fill="url(#gB)"/>
<ellipse cx="13.5" cy="11.3" rx="14.5" ry="13.0" fill="url(#gG)"/>
<ellipse cx="12.8" cy="11.3" rx="6.6" ry="5.9" fill="url(#gY)"/>
<circle cx="2.2" cy="16.3" r="2.1" fill="#bc8f8f"/>
<circle cx="12.8" cy="9.0" r="2.1" fill="#f08080"/>
<circle cx="11.2" cy="11.3" r="2.15" fill="#8b0000"/>
</svg>
<svg x="272.10" y="453.62" width="22.5" height="22.6" overflow="hidden">
<rect width="22.5" height="22.6" fill="#441e66"/>
<ellipse cx="13.9" cy="11.3" rx="25.2" ry="22.6" fill="url(#gB)"/>
<ellipse cx="13.9" cy="11.3" rx="14.5" ry="13.0" fill="url(#gG)"/>
<ellipse cx="12.5" cy="11.3" rx="6.6" ry="5.9" fill="url(#gY)"/>
<circle cx="3.4" cy="16.3" r="2.1" fill="#bc8f8f"/>
<circle cx="12.6" cy="9.0" r="2.1" fill="#f08080"/>
<circle cx="9.0" cy="11.3" r="2.15" fill="#8b0000"/>
</svg>
<svg x="163.50" y="481.36" width="22.5" height="22.6" overflow="hidden">
<rect width="22.5" height="22.6" fill="#441e66"/>
<ellipse cx="1.8" cy="14.9" rx="15.3" ry="21.7" fill="url(#gB)"/>
<ellipse cx="1.8" cy="14.9" rx="8.8" ry="12.5" fill="url(#gG)"/>
<ellipse cx="2.9" cy="15.5" rx="4.0" ry="5.7" fill="url(#gY)"/>
<circle cx="0.7" cy="9.5" r="2.1" fill="#bc8f8f"/>
<circle cx="5.4" cy="16.7" r="2.15" fill="#8b0000"/>
</svg>
<svg x="190.65" y="481.36" width="22.5" height="22.6" overflow="hidden">
<rect width="22.5" height="22.6" fill="#441e66"/>
<ellipse cx="2.2" cy="14.9" rx="15.3" ry="21.7" fill="url(#gB)"/>
<ellipse cx="2.2" cy="14.9" rx="8.8" ry="12.5" fill="url(#gG)"/>
<ellipse cx="2.4" cy="15.5" rx="4.0" ry="5.7" fill="url(#gY)"/>
<circle cx="9.0" cy="9.5" r="2.1" fill="#bc8f8f"/>
<circle cx="2.7" cy="16.7" r="2.15" fill="#8b0000"/>
</svg>
<svg x="217.80" y="481.36" width="22.5" height="22.6" overflow="hidden">
<rect width="22.5" height="22.6" fill="#441e66"/>
<ellipse cx="11.7" cy="14.9" rx="25.2" ry="21.7" fill="url(#gB)"/>
<ellipse cx="11.7" cy="14.9" rx="14.5" ry="12.5" fill="url(#gG)"/>
<ellipse cx="10.2" cy="15.5" rx="6.6" ry="5.7" fill="url(#gY)"/>
<circle cx="0.7" cy="9.5" r="2.1" fill="#bc8f8f"/>
<circle cx="7.9" cy="14.0" r="2.1" fill="#f08080"/>
<circle cx="6.8" cy="16.7" r="2.15" fill="#8b0000"/>
</svg>
<svg x="244.95" y="481.36" width="22.5" height="22.6" overflow="hidden">
<rect width="22.5" height="22.6" fill="#441e66"/>
<ellipse cx="13.5" cy="14.9" rx="25.2" ry="21.7" fill="url(#gB)"/>
<ellipse cx="13.5" cy="14.9" rx="14.5" ry="12.5" fill="url(#gG)"/>
<ellipse cx="12.8" cy="15.5" rx="6.6" ry="5.7" fill="url(#gY)"/>
<circle cx="2.2" cy="9.5" r="2.1" fill="#bc8f8f"/>
<circle cx="12.8" cy="14.0" r="2.1" fill="#f08080"/>
<circle cx="11.2" cy="16.7" r="2.15" fill="#8b0000"/>
</svg>
<svg x="272.10" y="481.36" width="22.5" height="22.6" overflow="hidden">
<rect width="22.5" height="22.6" fill="#441e66"/>
<ellipse cx="13.9" cy="14.9" rx="25.2" ry="21.7" fill="url(#gB)"/>
<ellipse cx="13.9" cy="14.9" rx="14.5" ry="12.5" fill="url(#gG)"/>
<ellipse cx="12.5" cy="15.5" rx="6.6" ry="5.7" fill="url(#gY)"/>
<circle cx="3.4" cy="9.5" r="2.1" fill="#bc8f8f"/>
<circle cx="12.6" cy="14.0" r="2.1" fill="#f08080"/>
<circle cx="9.0" cy="16.7" r="2.15" fill="#8b0000"/>
</svg>
<svg x="190.65" y="509.10" width="22.5" height="22.6" overflow="hidden">
<rect width="22.5" height="22.6" fill="#441e66"/>
<ellipse cx="2.2" cy="18.5" rx="15.3" ry="12.7" fill="url(#gB)"/>
<ellipse cx="2.2" cy="18.5" rx="8.8" ry="7.3" fill="url(#gG)"/>
<ellipse cx="2.4" cy="18.1" rx="4.0" ry="3.3" fill="url(#gY)"/>
<circle cx="9.0" cy="21.7" r="2.1" fill="#bc8f8f"/>
<circle cx="2.7" cy="17.0" r="2.15" fill="#8b0000"/>
</svg>
<svg x="217.80" y="509.10" width="22.5" height="22.6" overflow="hidden">
<rect width="22.5" height="22.6" fill="#441e66"/>
<ellipse cx="11.7" cy="18.5" rx="25.2" ry="12.7" fill="url(#gB)"/>
<ellipse cx="11.7" cy="18.5" rx="14.5" ry="7.3" fill="url(#gG)"/>
<ellipse cx="10.2" cy="18.1" rx="6.6" ry="3.3" fill="url(#gY)"/>
<circle cx="0.7" cy="21.7" r="2.1" fill="#bc8f8f"/>
<circle cx="7.9" cy="17.0" r="2.1" fill="#f08080"/>
<circle cx="6.8" cy="17.0" r="2.15" fill="#8b0000"/>
</svg>
<svg x="244.95" y="509.10" width="22.5" height="22.6" overflow="hidden">
<rect width="22.5" height="22.6" fill="#441e66"/>
<ellipse cx="13.5" cy="18.5" rx="25.2" ry="12.7" fill="url(#gB)"/>
<ellipse cx="13.5" cy="18.5" rx="14.5" ry="7.3" fill="url(#gG)"/>
<ellipse cx="12.8" cy="18.1" rx="6.6" ry="3.3" fill="url(#gY)"/>
<circle cx="2.2" cy="21.7" r="2.1" fill="#bc8f8f"/>
<circle cx="12.8" cy="17.0" r="2.1" fill="#f08080"/>
<circle cx="11.2" cy="17.0" r="2.15" fill="#8b0000"/>
</svg>
<svg x="272.10" y="509.10" width="22.5" height="22.6" overflow="hidden">
<rect width="22.5" height="22.6" fill="#441e66"/>
<ellipse cx="13.9" cy="18.5" rx="25.2" ry="12.7" fill="url(#gB)"/>
<ellipse cx="13.9" cy="18.5" rx="14.5" ry="7.3" fill="url(#gG)"/>
<ellipse cx="12.5" cy="18.1" rx="6.6" ry="3.3" fill="url(#gY)"/>
<circle cx="3.4" cy="21.7" r="2.1" fill="#bc8f8f"/>
<circle cx="12.6" cy="17.0" r="2.1" fill="#f08080"/>
<circle cx="9.0" cy="17.0" r="2.15" fill="#8b0000"/>
</svg>
<svg x="217.80" y="536.84" width="22.5" height="22.6" overflow="hidden">
<rect width="22.5" height="22.6" fill="#441e66"/>
<ellipse cx="11.7" cy="19.4" rx="25.2" ry="12.7" fill="url(#gB)"/>
<ellipse cx="11.7" cy="19.4" rx="14.5" ry="7.3" fill="url(#gG)"/>
<ellipse cx="10.2" cy="19.4" rx="6.6" ry="3.3" fill="url(#gY)"/>
<circle cx="0.7" cy="12.4" r="2.1" fill="#bc8f8f"/>
<circle cx="7.9" cy="19.2" r="2.1" fill="#f08080"/>
<circle cx="6.8" cy="19.2" r="2.15" fill="#8b0000"/>
</svg>
<svg x="244.95" y="536.84" width="22.5" height="22.6" overflow="hidden">
<rect width="22.5" height="22.6" fill="#441e66"/>
<ellipse cx="13.5" cy="19.4" rx="25.2" ry="12.7" fill="url(#gB)"/>
<ellipse cx="13.5" cy="19.4" rx="14.5" ry="7.3" fill="url(#gG)"/>
<ellipse cx="12.8" cy="19.4" rx="6.6" ry="3.3" fill="url(#gY)"/>
<circle cx="2.2" cy="12.4" r="2.1" fill="#bc8f8f"/>
<circle cx="12.8" cy="19.2" r="2.1" fill="#f08080"/>
<circle cx="11.2" cy="19.2" r="2.15" fill="#8b0000"/>
</svg>
<svg x="272.10" y="536.84" width="22.5" height="22.6" overflow="hidden">
<rect width="22.5" height="22.6" fill="#441e66"/>
<ellipse cx="13.9" cy="19.4" rx="25.2" ry="12.7" fill="url(#gB)"/>
<ellipse cx="13.9" cy="19.4" rx="14.5" ry="7.3" fill="url(#gG)"/>
<ellipse cx="12.5" cy="19.4" rx="6.6" ry="3.3" fill="url(#gY)"/>
<circle cx="3.4" cy="12.4" r="2.1" fill="#bc8f8f"/>
<circle cx="12.6" cy="19.2" r="2.1" fill="#f08080"/>
<circle cx="9.0" cy="19.2" r="2.15" fill="#8b0000"/>
</svg>
<svg x="244.95" y="564.58" width="22.5" height="22.6" overflow="hidden">
<rect width="22.5" height="22.6" fill="#441e66"/>
<ellipse cx="13.5" cy="11.3" rx="25.2" ry="27.1" fill="url(#gB)"/>
<ellipse cx="13.5" cy="11.3" rx="14.5" ry="15.6" fill="url(#gG)"/>
<ellipse cx="12.8" cy="12.5" rx="6.6" ry="7.1" fill="url(#gY)"/>
<circle cx="2.2" cy="21.7" r="2.1" fill="#bc8f8f"/>
<circle cx="12.8" cy="15.4" r="2.1" fill="#f08080"/>
<circle cx="11.2" cy="15.4" r="2.15" fill="#8b0000"/>
</svg>
<svg x="272.10" y="564.58" width="22.5" height="22.6" overflow="hidden">
<rect width="22.5" height="22.6" fill="#441e66"/>
<ellipse cx="13.9" cy="11.3" rx="25.2" ry="27.1" fill="url(#gB)"/>
<ellipse cx="13.9" cy="11.3" rx="14.5" ry="15.6" fill="url(#gG)"/>
<ellipse cx="12.5" cy="12.5" rx="6.6" ry="7.1" fill="url(#gY)"/>
<circle cx="3.4" cy="21.7" r="2.1" fill="#bc8f8f"/>
<circle cx="12.6" cy="15.4" r="2.1" fill="#f08080"/>
<circle cx="9.0" cy="15.4" r="2.15" fill="#8b0000"/>
</svg>
<svg x="272.10" y="592.32" width="22.5" height="22.6" overflow="hidden">
<rect width="22.5" height="22.6" fill="#441e66"/>
<ellipse cx="13.9" cy="11.3" rx="25.2" ry="27.1" fill="url(#gB)"/>
<ellipse cx="13.9" cy="11.3" rx="14.5" ry="15.6" fill="url(#gG)"/>
<ellipse cx="12.5" cy="11.8" rx="6.6" ry="7.1" fill="url(#gY)"/>
<circle cx="3.4" cy="20.3" r="2.1" fill="#bc8f8f"/>
<circle cx="12.6" cy="10.8" r="2.1" fill="#f08080"/>
<circle cx="9.0" cy="13.1" r="2.15" fill="#8b0000"/>
</svg>
<line x1="32.2" y1="370.9" x2="32.2" y2="393.0" stroke="#bc8f8f" stroke-width="1.3" />
<line x1="38.5" y1="370.9" x2="38.5" y2="393.0" stroke="#8b0000" stroke-width="1.3" />
<path d="M27.75,391.31 C28.31,391.17 30.00,391.77 31.12,390.47 C32.25,389.17 33.49,386.42 34.50,383.50 C35.51,380.59 36.45,374.54 37.20,372.95 C37.95,371.37 38.25,371.90 39.00,374.01 C39.75,376.12 40.76,382.80 41.70,385.62 C42.64,388.43 43.20,389.87 44.62,390.89 C46.05,391.91 49.31,391.59 50.25,391.73" fill="none" stroke="#2b83c6" stroke-width="1.25"/>
<path d="M27.75,399.50 L27.75,397.10 L50.25,397.10 L50.25,399.50" fill="none" stroke="#222" stroke-width="0.9"/>
<text x="27.8" y="409.2" font-size="8.9" text-anchor="middle" fill="#222" font-weight="normal" font-style="normal" >1.5</text>
<text x="50.2" y="409.2" font-size="8.9" text-anchor="middle" fill="#222" font-weight="normal" font-style="normal" >7</text>
<text x="39.0" y="419.6" font-size="9.0" text-anchor="middle" fill="#222" font-weight="normal" font-style="normal" >noise</text>
<line x1="59.9" y1="398.6" x2="59.9" y2="420.7" stroke="#8b0000" stroke-width="1.3" />
<line x1="69.8" y1="398.6" x2="69.8" y2="420.7" stroke="#bc8f8f" stroke-width="1.3" />
<path d="M54.90,412.30 C55.20,410.72 56.02,404.74 56.70,402.81 C57.37,400.87 57.94,400.24 58.95,400.69 C59.96,401.15 61.39,404.49 62.77,405.55 C64.16,406.60 65.78,406.25 67.28,407.03 C68.78,407.80 70.46,408.78 71.78,410.19 C73.09,411.60 74.21,414.13 75.15,415.47 C76.09,416.80 77.03,417.75 77.40,418.21" fill="none" stroke="#2b83c6" stroke-width="1.25"/>
<path d="M54.90,427.24 L54.90,424.84 L77.40,424.84 L77.40,427.24" fill="none" stroke="#222" stroke-width="0.9"/>
<text x="54.9" y="436.9" font-size="8.9" text-anchor="middle" fill="#222" font-weight="normal" font-style="normal" >0.5</text>
<text x="77.4" y="436.9" font-size="8.9" text-anchor="middle" fill="#222" font-weight="normal" font-style="normal" >2</text>
<text x="60.1" y="447.3" font-size="9.5" text-anchor="start" fill="#222" font-weight="normal" font-style="italic" >g</text>
<text x="65.4" y="448.8" font-size="6.3" text-anchor="start" fill="#222" font-weight="normal" font-style="italic" >Na</text>
<line x1="84.3" y1="426.4" x2="84.3" y2="448.5" stroke="#f08080" stroke-width="1.3" />
<line x1="88.1" y1="426.4" x2="88.1" y2="448.5" stroke="#8b0000" stroke-width="1.3" />
<line x1="91.0" y1="426.4" x2="91.0" y2="448.5" stroke="#bc8f8f" stroke-width="1.3" />
<path d="M82.05,436.88 C82.42,435.47 83.36,429.38 84.30,428.44 C85.24,427.49 86.36,430.12 87.67,431.18 C88.99,432.23 90.86,433.82 92.17,434.77 C93.49,435.71 94.24,435.82 95.55,436.88 C96.86,437.93 98.55,439.69 100.05,441.10 C101.55,442.50 103.80,444.61 104.55,445.31" fill="none" stroke="#2b83c6" stroke-width="1.25"/>
<path d="M82.05,454.98 L82.05,452.58 L104.55,452.58 L104.55,454.98" fill="none" stroke="#222" stroke-width="0.9"/>
<text x="82.0" y="464.7" font-size="8.9" text-anchor="middle" fill="#222" font-weight="normal" font-style="normal" >0.1</text>
<text x="104.5" y="464.7" font-size="8.9" text-anchor="middle" fill="#222" font-weight="normal" font-style="normal" >10</text>
<text x="89.0" y="475.1" font-size="9.5" text-anchor="start" fill="#222" font-weight="normal" font-style="italic" >g</text>
<text x="94.3" y="476.6" font-size="6.3" text-anchor="start" fill="#222" font-weight="normal" font-style="italic" >K</text>
<line x1="114.8" y1="454.1" x2="114.8" y2="476.2" stroke="#bc8f8f" stroke-width="1.3" />
<line x1="119.5" y1="454.1" x2="119.5" y2="476.2" stroke="#8b0000" stroke-width="1.3" />
<line x1="120.9" y1="454.1" x2="120.9" y2="476.2" stroke="#f08080" stroke-width="1.3" />
<path d="M109.20,475.17 C109.76,474.29 111.45,472.18 112.57,469.89 C113.70,467.60 114.82,463.74 115.95,461.45 C117.07,459.16 118.20,456.35 119.32,456.18 C120.45,456.00 121.39,458.29 122.70,460.40 C124.01,462.51 125.70,466.48 127.20,468.84 C128.70,471.19 130.95,473.58 131.70,474.53" fill="none" stroke="#2b83c6" stroke-width="1.25"/>
<path d="M109.20,482.72 L109.20,480.32 L131.70,480.32 L131.70,482.72" fill="none" stroke="#222" stroke-width="0.9"/>
<text x="109.2" y="492.4" font-size="8.9" text-anchor="middle" fill="#222" font-weight="normal" font-style="normal" >0.5</text>
<text x="131.7" y="492.4" font-size="8.9" text-anchor="middle" fill="#222" font-weight="normal" font-style="normal" >10</text>
<text x="112.5" y="502.8" font-size="9.5" text-anchor="start" fill="#222" font-weight="normal" font-style="italic" >g</text>
<text x="117.8" y="504.3" font-size="6.3" text-anchor="start" fill="#222" font-weight="normal" font-style="italic" >AHP</text>
<line x1="140.8" y1="481.9" x2="140.8" y2="504.0" stroke="#8b0000" stroke-width="1.3" />
<line x1="143.1" y1="481.9" x2="143.1" y2="504.0" stroke="#f08080" stroke-width="1.3" />
<line x1="148.0" y1="481.9" x2="148.0" y2="504.0" stroke="#bc8f8f" stroke-width="1.3" />
<path d="M136.35,492.35 C136.80,491.12 138.11,486.38 139.05,484.97 C139.99,483.56 140.74,483.21 141.97,483.91 C143.21,484.62 144.79,487.26 146.47,489.19 C148.16,491.12 150.60,493.59 152.10,495.52 C153.60,497.45 154.35,499.67 155.47,500.79 C156.60,501.92 158.29,502.03 158.85,502.27" fill="none" stroke="#2b83c6" stroke-width="1.25"/>
<path d="M136.35,510.46 L136.35,508.06 L158.85,508.06 L158.85,510.46" fill="none" stroke="#222" stroke-width="0.9"/>
<text x="136.3" y="520.2" font-size="8.9" text-anchor="middle" fill="#222" font-weight="normal" font-style="normal" >0.05</text>
<text x="158.8" y="520.2" font-size="8.9" text-anchor="middle" fill="#222" font-weight="normal" font-style="normal" >1</text>
<text x="137.9" y="530.6" font-size="9.5" text-anchor="start" fill="#222" font-weight="normal" font-style="italic" >g</text>
<text x="143.2" y="532.1" font-size="6.3" text-anchor="start" fill="#222" font-weight="normal" font-style="italic" >AMPA</text>
<line x1="164.6" y1="509.6" x2="164.6" y2="531.7" stroke="#bc8f8f" stroke-width="1.3" />
<line x1="168.0" y1="509.6" x2="168.0" y2="531.7" stroke="#8b0000" stroke-width="1.3" />
<path d="M163.50,519.04 C163.80,517.81 164.62,512.01 165.30,511.65 C165.98,511.30 166.73,515.17 167.55,516.93 C168.38,518.69 169.05,520.80 170.25,522.20 C171.45,523.61 173.06,524.31 174.75,525.37 C176.44,526.42 178.50,527.76 180.38,528.53 C182.25,529.31 185.06,529.77 186.00,530.01" fill="none" stroke="#2b83c6" stroke-width="1.25"/>
<path d="M163.50,538.20 L163.50,535.80 L186.00,535.80 L186.00,538.20" fill="none" stroke="#222" stroke-width="0.9"/>
<text x="163.5" y="547.9" font-size="8.9" text-anchor="middle" fill="#222" font-weight="normal" font-style="normal" >0</text>
<text x="186.0" y="547.9" font-size="8.9" text-anchor="middle" fill="#222" font-weight="normal" font-style="normal" >1</text>
<text x="165.1" y="558.3" font-size="9.5" text-anchor="start" fill="#222" font-weight="normal" font-style="italic" >g</text>
<text x="170.4" y="559.8" font-size="6.3" text-anchor="start" fill="#222" font-weight="normal" font-style="italic" >NMDA</text>
<line x1="194.0" y1="537.3" x2="194.0" y2="559.4" stroke="#8b0000" stroke-width="1.3" />
<line x1="203.0" y1="537.3" x2="203.0" y2="559.4" stroke="#bc8f8f" stroke-width="1.3" />
<path d="M190.65,547.83 C191.02,546.43 191.96,539.75 192.90,539.39 C193.84,539.04 194.96,543.79 196.27,545.72 C197.59,547.66 199.09,549.59 200.77,551.00 C202.46,552.41 204.34,553.11 206.40,554.16 C208.46,555.22 212.02,556.80 213.15,557.33" fill="none" stroke="#2b83c6" stroke-width="1.25"/>
<path d="M190.65,565.94 L190.65,563.54 L213.15,563.54 L213.15,565.94" fill="none" stroke="#222" stroke-width="0.9"/>
<text x="190.6" y="575.6" font-size="8.9" text-anchor="middle" fill="#222" font-weight="normal" font-style="normal" >0.1</text>
<text x="213.1" y="575.6" font-size="8.9" text-anchor="middle" fill="#222" font-weight="normal" font-style="normal" >0.6</text>
<text x="201.9" y="586.0" font-size="9.0" text-anchor="middle" fill="#222" font-weight="normal" font-style="normal" >Conn%</text>
<line x1="218.5" y1="565.1" x2="218.5" y2="587.2" stroke="#bc8f8f" stroke-width="1.3" />
<line x1="225.7" y1="565.1" x2="225.7" y2="587.2" stroke="#8b0000" stroke-width="1.3" />
<path d="M217.80,581.90 C218.55,580.85 220.80,577.86 222.30,575.57 C223.80,573.29 225.49,569.60 226.80,568.19 C228.11,566.78 229.05,566.78 230.17,567.13 C231.30,567.49 232.42,568.37 233.55,570.30 C234.67,572.23 235.80,576.28 236.92,578.74 C238.05,581.20 239.74,584.01 240.30,585.07" fill="none" stroke="#2b83c6" stroke-width="1.25"/>
<path d="M217.80,593.68 L217.80,591.28 L240.30,591.28 L240.30,593.68" fill="none" stroke="#222" stroke-width="0.9"/>
<text x="217.8" y="603.4" font-size="8.9" text-anchor="middle" fill="#222" font-weight="normal" font-style="normal" >150</text>
<text x="240.3" y="603.4" font-size="8.9" text-anchor="middle" fill="#222" font-weight="normal" font-style="normal" >1200</text>
<text x="224.5" y="613.8" font-size="9.5" text-anchor="start" fill="#222" font-weight="normal" font-style="normal" >τ</text>
<text x="229.6" y="615.3" font-size="6.5" text-anchor="start" fill="#222" font-weight="normal" font-style="italic" >D</text>
<line x1="248.3" y1="592.8" x2="248.3" y2="614.9" stroke="#bc8f8f" stroke-width="1.3" />
<line x1="256.6" y1="592.8" x2="256.6" y2="614.9" stroke="#8b0000" stroke-width="1.3" />
<line x1="258.4" y1="592.8" x2="258.4" y2="614.9" stroke="#f08080" stroke-width="1.3" />
<path d="M244.95,613.87 C245.70,612.99 247.95,610.88 249.45,608.59 C250.95,606.30 252.45,602.44 253.95,600.15 C255.45,597.86 257.14,595.05 258.45,594.88 C259.76,594.70 260.70,597.34 261.82,599.09 C262.95,600.85 264.26,603.84 265.20,605.42 C266.14,607.01 267.07,608.06 267.45,608.59" fill="none" stroke="#2b83c6" stroke-width="1.25"/>
<path d="M244.95,621.42 L244.95,619.02 L267.45,619.02 L267.45,621.42" fill="none" stroke="#222" stroke-width="0.9"/>
<text x="244.9" y="631.1" font-size="8.9" text-anchor="middle" fill="#222" font-weight="normal" font-style="normal" >0.005</text>
<text x="267.4" y="631.1" font-size="8.9" text-anchor="middle" fill="#222" font-weight="normal" font-style="normal" >0.3</text>
<text x="256.2" y="641.5" font-size="9.0" text-anchor="middle" fill="#222" font-weight="normal" font-style="normal" >U (STD)</text>
<line x1="275.5" y1="620.6" x2="275.5" y2="642.7" stroke="#bc8f8f" stroke-width="1.3" />
<line x1="279.3" y1="620.6" x2="279.3" y2="642.7" stroke="#8b0000" stroke-width="1.3" />
<line x1="284.5" y1="620.6" x2="284.5" y2="642.7" stroke="#f08080" stroke-width="1.3" />
<path d="M272.10,641.61 C272.85,640.73 275.10,638.79 276.60,636.33 C278.10,633.87 279.79,629.12 281.10,626.83 C282.41,624.55 283.35,622.97 284.48,622.62 C285.60,622.26 286.73,623.32 287.85,624.72 C288.98,626.13 290.10,629.12 291.23,631.05 C292.35,632.99 294.04,635.45 294.60,636.33" fill="none" stroke="#2b83c6" stroke-width="1.25"/>
<path d="M272.10,649.16 L272.10,646.76 L294.60,646.76 L294.60,649.16" fill="none" stroke="#222" stroke-width="0.9"/>
<text x="272.1" y="658.9" font-size="8.9" text-anchor="middle" fill="#222" font-weight="normal" font-style="normal" >0</text>
<text x="294.6" y="658.9" font-size="8.9" text-anchor="middle" fill="#222" font-weight="normal" font-style="normal" >0.005</text>
<text x="283.4" y="669.3" font-size="9.0" text-anchor="middle" fill="#222" font-weight="normal" font-style="normal" >U asyn</text>
<line x1="53.6" y1="571.0" x2="53.6" y2="592.3" stroke="#8b0000" stroke-width="1.3" />
<circle cx="59.1" cy="581.7" r="2" fill="#8b0000"/>
<text x="66.7" y="585.4" font-size="10.6" text-anchor="start" fill="#333" font-weight="normal" font-style="normal" >ground truth</text>
<line x1="53.6" y1="598.8" x2="53.6" y2="619.8" stroke="#f08080" stroke-width="1.3" />
<circle cx="59.1" cy="609.6" r="2" fill="#f08080"/>
<text x="66.7" y="613.3" font-size="10.6" text-anchor="start" fill="#333" font-weight="normal" font-style="normal" >posterior mode</text>
<line x1="53.6" y1="626.7" x2="53.6" y2="648.0" stroke="#bc8f8f" stroke-width="1.3" />
<circle cx="59.1" cy="637.2" r="2" fill="#bc8f8f"/>
<text x="66.7" y="640.9" font-size="10.6" text-anchor="start" fill="#333" font-weight="normal" font-style="normal" >low probability</text>
<text x="322.4" y="370.3" font-size="15.5" text-anchor="start" fill="#111" font-weight="bold" font-style="normal" >C</text>
<text x="400.3" y="409.8" font-size="10.5" text-anchor="middle" fill="#222" font-weight="normal" font-style="normal" >Simulation with ground truth</text>
<text x="556.5" y="370.4" font-size="10.5" text-anchor="middle" fill="#222" font-weight="normal" font-style="normal" >Simulation with mode</text>
<text x="556.5" y="449.8" font-size="10.5" text-anchor="middle" fill="#222" font-weight="normal" font-style="normal" >Simulation with low prob</text>
<rect x="340.8" y="413.3" width="119.3" height="60" fill="#fff" stroke="#8b2020" stroke-width="1.3"/>
<rect x="345.53" y="416.70" width="0.91" height="3.62" fill="#000" opacity="0.60"/>
<rect x="346.78" y="416.70" width="0.65" height="3.62" fill="#000" opacity="0.56"/>
<rect x="350.16" y="416.70" width="0.68" height="3.62" fill="#000" opacity="0.96"/>
<rect x="350.87" y="416.70" width="0.70" height="3.62" fill="#000" opacity="0.99"/>
<rect x="351.74" y="416.70" width="0.82" height="3.62" fill="#000" opacity="1.00"/>
<rect x="353.03" y="416.70" width="0.85" height="3.62" fill="#000" opacity="1.00"/>
<rect x="354.19" y="416.70" width="1.10" height="3.62" fill="#000" opacity="0.78"/>
<rect x="361.64" y="416.70" width="1.06" height="3.62" fill="#000" opacity="0.53"/>
<rect x="363.64" y="416.70" width="0.99" height="3.62" fill="#000" opacity="0.62"/>
<rect x="364.53" y="416.70" width="1.08" height="3.62" fill="#000" opacity="0.56"/>
<rect x="365.76" y="416.70" width="0.65" height="3.62" fill="#000" opacity="0.57"/>
<rect x="368.34" y="416.70" width="0.67" height="3.62" fill="#000" opacity="0.99"/>
<rect x="369.49" y="416.70" width="0.71" height="3.62" fill="#000" opacity="1.00"/>
<rect x="371.64" y="416.70" width="0.71" height="3.62" fill="#000" opacity="1.00"/>
<rect x="373.77" y="416.70" width="0.71" height="3.62" fill="#000" opacity="0.78"/>
<rect x="376.33" y="416.70" width="0.72" height="3.62" fill="#000" opacity="0.61"/>
<rect x="380.81" y="416.70" width="1.05" height="3.62" fill="#000" opacity="0.94"/>
<rect x="382.09" y="416.70" width="0.97" height="3.62" fill="#000" opacity="1.00"/>
<rect x="383.44" y="416.70" width="1.04" height="3.62" fill="#000" opacity="1.00"/>
<rect x="384.57" y="416.70" width="0.62" height="3.62" fill="#000" opacity="0.68"/>
<rect x="385.94" y="416.70" width="0.73" height="3.62" fill="#000" opacity="0.66"/>
<rect x="388.12" y="416.70" width="0.63" height="3.62" fill="#000" opacity="0.64"/>
<rect x="392.02" y="416.70" width="0.82" height="3.62" fill="#000" opacity="0.55"/>
<rect x="392.76" y="416.70" width="0.89" height="3.62" fill="#000" opacity="0.57"/>
<rect x="397.15" y="416.70" width="0.61" height="3.62" fill="#000" opacity="0.74"/>
<rect x="398.48" y="416.70" width="0.61" height="3.62" fill="#000" opacity="1.00"/>
<rect x="399.63" y="416.70" width="0.76" height="3.62" fill="#000" opacity="1.00"/>
<rect x="401.03" y="416.70" width="0.97" height="3.62" fill="#000" opacity="0.90"/>
<rect x="411.83" y="416.70" width="1.10" height="3.62" fill="#000" opacity="1.00"/>
<rect x="413.14" y="416.70" width="0.97" height="3.62" fill="#000" opacity="1.00"/>
<rect x="414.25" y="416.70" width="0.64" height="3.62" fill="#000" opacity="1.00"/>
<rect x="415.48" y="416.70" width="0.84" height="3.62" fill="#000" opacity="0.72"/>
<rect x="420.61" y="416.70" width="1.05" height="3.62" fill="#000" opacity="0.53"/>
<rect x="424.26" y="416.70" width="1.00" height="3.62" fill="#000" opacity="0.58"/>
<rect x="427.50" y="416.70" width="1.02" height="3.62" fill="#000" opacity="0.81"/>
<rect x="428.79" y="416.70" width="0.74" height="3.62" fill="#000" opacity="1.00"/>
<rect x="429.61" y="416.70" width="0.71" height="3.62" fill="#000" opacity="1.00"/>
<rect x="430.60" y="416.70" width="0.76" height="3.62" fill="#000" opacity="1.00"/>
<rect x="432.90" y="416.70" width="1.04" height="3.62" fill="#000" opacity="0.57"/>
<rect x="435.98" y="416.70" width="0.83" height="3.62" fill="#000" opacity="0.66"/>
<rect x="437.57" y="416.70" width="0.91" height="3.62" fill="#000" opacity="0.97"/>
<rect x="438.58" y="416.70" width="1.00" height="3.62" fill="#000" opacity="1.00"/>
<rect x="439.95" y="416.70" width="0.84" height="3.62" fill="#000" opacity="0.93"/>
<rect x="440.78" y="416.70" width="0.96" height="3.62" fill="#000" opacity="0.81"/>
<rect x="441.60" y="416.70" width="0.95" height="3.62" fill="#000" opacity="0.65"/>
<rect x="447.12" y="416.70" width="0.91" height="3.62" fill="#000" opacity="0.59"/>
<rect x="451.83" y="416.70" width="0.96" height="3.62" fill="#000" opacity="1.00"/>
<rect x="453.11" y="416.70" width="0.71" height="3.62" fill="#000" opacity="1.00"/>
<line x1="342.3" y1="420.7" x2="457.0" y2="420.7" stroke="#222" stroke-width="0.6" />
<rect x="344.58" y="421.02" width="0.88" height="3.62" fill="#000" opacity="0.58"/>
<rect x="349.36" y="421.02" width="0.86" height="3.62" fill="#000" opacity="0.71"/>
<rect x="350.56" y="421.02" width="1.07" height="3.62" fill="#000" opacity="1.00"/>
<rect x="351.61" y="421.02" width="0.71" height="3.62" fill="#000" opacity="1.00"/>
<rect x="352.68" y="421.02" width="0.92" height="3.62" fill="#000" opacity="1.00"/>
<rect x="354.83" y="421.02" width="1.02" height="3.62" fill="#000" opacity="0.70"/>
<rect x="356.16" y="421.02" width="1.08" height="3.62" fill="#000" opacity="0.69"/>
<rect x="366.29" y="421.02" width="0.66" height="3.62" fill="#000" opacity="0.65"/>
<rect x="368.63" y="421.02" width="0.70" height="3.62" fill="#000" opacity="0.96"/>
<rect x="369.76" y="421.02" width="0.99" height="3.62" fill="#000" opacity="1.00"/>
<rect x="370.47" y="421.02" width="0.94" height="3.62" fill="#000" opacity="1.00"/>
<rect x="371.40" y="421.02" width="0.65" height="3.62" fill="#000" opacity="1.00"/>
<rect x="372.61" y="421.02" width="0.73" height="3.62" fill="#000" opacity="0.84"/>
<rect x="376.26" y="421.02" width="0.92" height="3.62" fill="#000" opacity="0.62"/>
<rect x="381.51" y="421.02" width="0.71" height="3.62" fill="#000" opacity="1.00"/>
<rect x="382.91" y="421.02" width="0.72" height="3.62" fill="#000" opacity="1.00"/>
<rect x="384.11" y="421.02" width="1.02" height="3.62" fill="#000" opacity="0.77"/>
<rect x="387.08" y="421.02" width="0.94" height="3.62" fill="#000" opacity="0.54"/>
<rect x="391.61" y="421.02" width="0.65" height="3.62" fill="#000" opacity="0.51"/>
<rect x="394.20" y="421.02" width="1.02" height="3.62" fill="#000" opacity="0.54"/>
<rect x="396.36" y="421.02" width="0.83" height="3.62" fill="#000" opacity="0.79"/>
<rect x="397.59" y="421.02" width="0.86" height="3.62" fill="#000" opacity="0.93"/>
<rect x="398.59" y="421.02" width="0.95" height="3.62" fill="#000" opacity="0.98"/>
<rect x="399.88" y="421.02" width="0.97" height="3.62" fill="#000" opacity="1.00"/>
<rect x="400.87" y="421.02" width="0.86" height="3.62" fill="#000" opacity="0.86"/>
<rect x="412.32" y="421.02" width="0.98" height="3.62" fill="#000" opacity="1.00"/>
<rect x="413.31" y="421.02" width="0.77" height="3.62" fill="#000" opacity="0.99"/>
<rect x="414.34" y="421.02" width="0.92" height="3.62" fill="#000" opacity="0.91"/>
<rect x="415.47" y="421.02" width="0.93" height="3.62" fill="#000" opacity="0.79"/>
<rect x="423.78" y="421.02" width="0.79" height="3.62" fill="#000" opacity="0.53"/>
<rect x="429.18" y="421.02" width="0.90" height="3.62" fill="#000" opacity="1.00"/>
<rect x="430.41" y="421.02" width="0.68" height="3.62" fill="#000" opacity="1.00"/>
<rect x="431.44" y="421.02" width="0.91" height="3.62" fill="#000" opacity="0.90"/>
<rect x="436.29" y="421.02" width="0.75" height="3.62" fill="#000" opacity="0.83"/>
<rect x="437.00" y="421.02" width="0.68" height="3.62" fill="#000" opacity="0.85"/>
<rect x="438.23" y="421.02" width="0.97" height="3.62" fill="#000" opacity="1.00"/>
<rect x="440.32" y="421.02" width="0.81" height="3.62" fill="#000" opacity="0.99"/>
<rect x="447.68" y="421.02" width="0.86" height="3.62" fill="#000" opacity="0.51"/>
<rect x="450.52" y="421.02" width="0.99" height="3.62" fill="#000" opacity="0.92"/>
<rect x="452.96" y="421.02" width="0.66" height="3.62" fill="#000" opacity="1.00"/>
<line x1="342.3" y1="425.0" x2="457.0" y2="425.0" stroke="#222" stroke-width="0.6" />
<rect x="346.98" y="425.34" width="0.74" height="3.62" fill="#000" opacity="0.51"/>
<rect x="349.50" y="425.34" width="0.88" height="3.62" fill="#000" opacity="0.84"/>
<rect x="350.64" y="425.34" width="0.71" height="3.62" fill="#000" opacity="1.00"/>
<rect x="351.58" y="425.34" width="0.64" height="3.62" fill="#000" opacity="1.00"/>
<rect x="352.36" y="425.34" width="0.98" height="3.62" fill="#000" opacity="1.00"/>
<rect x="353.21" y="425.34" width="1.00" height="3.62" fill="#000" opacity="0.98"/>
<rect x="358.95" y="425.34" width="0.64" height="3.62" fill="#000" opacity="0.67"/>
<rect x="362.41" y="425.34" width="0.64" height="3.62" fill="#000" opacity="0.63"/>
<rect x="369.76" y="425.34" width="1.00" height="3.62" fill="#000" opacity="1.00"/>
<rect x="370.67" y="425.34" width="1.07" height="3.62" fill="#000" opacity="1.00"/>
<rect x="372.00" y="425.34" width="0.78" height="3.62" fill="#000" opacity="0.93"/>
<rect x="372.95" y="425.34" width="0.70" height="3.62" fill="#000" opacity="0.76"/>
<rect x="376.22" y="425.34" width="1.04" height="3.62" fill="#000" opacity="0.65"/>
<rect x="377.11" y="425.34" width="0.87" height="3.62" fill="#000" opacity="0.60"/>
<rect x="380.11" y="425.34" width="0.64" height="3.62" fill="#000" opacity="0.91"/>
<rect x="380.87" y="425.34" width="0.64" height="3.62" fill="#000" opacity="1.00"/>
<rect x="382.01" y="425.34" width="0.92" height="3.62" fill="#000" opacity="1.00"/>
<rect x="382.88" y="425.34" width="0.86" height="3.62" fill="#000" opacity="1.00"/>
<rect x="384.12" y="425.34" width="1.08" height="3.62" fill="#000" opacity="0.81"/>
<rect x="397.84" y="425.34" width="0.70" height="3.62" fill="#000" opacity="0.93"/>
<rect x="398.84" y="425.34" width="0.63" height="3.62" fill="#000" opacity="1.00"/>
<rect x="399.75" y="425.34" width="0.99" height="3.62" fill="#000" opacity="1.00"/>
<rect x="400.58" y="425.34" width="0.89" height="3.62" fill="#000" opacity="0.98"/>
<rect x="401.91" y="425.34" width="0.69" height="3.62" fill="#000" opacity="0.64"/>
<rect x="402.77" y="425.34" width="0.90" height="3.62" fill="#000" opacity="0.68"/>
<rect x="403.62" y="425.34" width="0.69" height="3.62" fill="#000" opacity="0.56"/>
<rect x="411.46" y="425.34" width="1.00" height="3.62" fill="#000" opacity="1.00"/>
<rect x="412.43" y="425.34" width="0.74" height="3.62" fill="#000" opacity="1.00"/>
<rect x="413.82" y="425.34" width="0.61" height="3.62" fill="#000" opacity="1.00"/>
<rect x="414.85" y="425.34" width="0.96" height="3.62" fill="#000" opacity="0.88"/>
<rect x="415.98" y="425.34" width="0.76" height="3.62" fill="#000" opacity="0.58"/>
<rect x="420.39" y="425.34" width="0.60" height="3.62" fill="#000" opacity="0.65"/>
<rect x="422.94" y="425.34" width="0.96" height="3.62" fill="#000" opacity="0.55"/>
<rect x="428.51" y="425.34" width="0.87" height="3.62" fill="#000" opacity="0.97"/>
<rect x="429.58" y="425.34" width="0.76" height="3.62" fill="#000" opacity="1.00"/>
<rect x="430.50" y="425.34" width="0.83" height="3.62" fill="#000" opacity="1.00"/>
<rect x="431.70" y="425.34" width="0.65" height="3.62" fill="#000" opacity="0.89"/>
<rect x="435.21" y="425.34" width="0.96" height="3.62" fill="#000" opacity="0.62"/>
<rect x="437.10" y="425.34" width="1.00" height="3.62" fill="#000" opacity="1.00"/>
<rect x="437.94" y="425.34" width="0.79" height="3.62" fill="#000" opacity="1.00"/>
<rect x="439.02" y="425.34" width="0.80" height="3.62" fill="#000" opacity="1.00"/>
<rect x="440.19" y="425.34" width="0.97" height="3.62" fill="#000" opacity="0.88"/>
<rect x="443.91" y="425.34" width="0.94" height="3.62" fill="#000" opacity="0.51"/>
<rect x="445.10" y="425.34" width="1.02" height="3.62" fill="#000" opacity="0.57"/>
<rect x="446.22" y="425.34" width="0.68" height="3.62" fill="#000" opacity="0.54"/>
<rect x="451.18" y="425.34" width="0.81" height="3.62" fill="#000" opacity="1.00"/>
<rect x="451.89" y="425.34" width="1.09" height="3.62" fill="#000" opacity="1.00"/>
<rect x="453.15" y="425.34" width="0.61" height="3.62" fill="#000" opacity="1.00"/>
<rect x="454.08" y="425.34" width="0.65" height="3.62" fill="#000" opacity="0.82"/>
<line x1="342.3" y1="429.3" x2="457.0" y2="429.3" stroke="#222" stroke-width="0.6" />
<rect x="342.30" y="429.66" width="1.05" height="3.62" fill="#000" opacity="0.65"/>
<rect x="344.43" y="429.66" width="1.09" height="3.62" fill="#000" opacity="0.64"/>
<rect x="346.78" y="429.66" width="0.91" height="3.62" fill="#000" opacity="0.69"/>
<rect x="347.62" y="429.66" width="0.89" height="3.62" fill="#000" opacity="0.57"/>
<rect x="348.81" y="429.66" width="0.78" height="3.62" fill="#000" opacity="0.79"/>
<rect x="349.83" y="429.66" width="0.67" height="3.62" fill="#000" opacity="0.97"/>
<rect x="351.16" y="429.66" width="0.88" height="3.62" fill="#000" opacity="1.00"/>
<rect x="352.05" y="429.66" width="1.01" height="3.62" fill="#000" opacity="1.00"/>
<rect x="353.17" y="429.66" width="0.74" height="3.62" fill="#000" opacity="1.00"/>
<rect x="354.50" y="429.66" width="1.02" height="3.62" fill="#000" opacity="0.79"/>
<rect x="356.08" y="429.66" width="1.09" height="3.62" fill="#000" opacity="0.56"/>
<rect x="361.40" y="429.66" width="0.67" height="3.62" fill="#000" opacity="0.59"/>
<rect x="367.65" y="429.66" width="0.91" height="3.62" fill="#000" opacity="0.80"/>
<rect x="368.84" y="429.66" width="0.84" height="3.62" fill="#000" opacity="1.00"/>
<rect x="370.23" y="429.66" width="0.80" height="3.62" fill="#000" opacity="1.00"/>
<rect x="371.24" y="429.66" width="0.86" height="3.62" fill="#000" opacity="1.00"/>
<rect x="372.30" y="429.66" width="0.76" height="3.62" fill="#000" opacity="0.98"/>
<rect x="377.15" y="429.66" width="0.85" height="3.62" fill="#000" opacity="0.59"/>
<rect x="378.13" y="429.66" width="0.86" height="3.62" fill="#000" opacity="0.65"/>
<rect x="379.00" y="429.66" width="0.72" height="3.62" fill="#000" opacity="0.65"/>
<rect x="381.12" y="429.66" width="0.81" height="3.62" fill="#000" opacity="1.00"/>
<rect x="382.39" y="429.66" width="0.88" height="3.62" fill="#000" opacity="1.00"/>
<rect x="383.72" y="429.66" width="0.66" height="3.62" fill="#000" opacity="0.99"/>
<rect x="385.49" y="429.66" width="0.76" height="3.62" fill="#000" opacity="0.61"/>
<rect x="389.19" y="429.66" width="0.75" height="3.62" fill="#000" opacity="0.67"/>
<rect x="397.82" y="429.66" width="0.70" height="3.62" fill="#000" opacity="1.00"/>
<rect x="399.13" y="429.66" width="0.96" height="3.62" fill="#000" opacity="1.00"/>
<rect x="400.05" y="429.66" width="0.96" height="3.62" fill="#000" opacity="1.00"/>
<rect x="400.85" y="429.66" width="0.82" height="3.62" fill="#000" opacity="1.00"/>
<rect x="401.60" y="429.66" width="0.96" height="3.62" fill="#000" opacity="0.73"/>
<rect x="402.44" y="429.66" width="0.93" height="3.62" fill="#000" opacity="0.61"/>
<rect x="409.19" y="429.66" width="0.82" height="3.62" fill="#000" opacity="0.71"/>
<rect x="411.89" y="429.66" width="0.64" height="3.62" fill="#000" opacity="1.00"/>
<rect x="412.79" y="429.66" width="0.74" height="3.62" fill="#000" opacity="1.00"/>
<rect x="413.88" y="429.66" width="1.09" height="3.62" fill="#000" opacity="1.00"/>
<rect x="414.60" y="429.66" width="0.79" height="3.62" fill="#000" opacity="0.93"/>
<rect x="427.50" y="429.66" width="0.71" height="3.62" fill="#000" opacity="0.81"/>
<rect x="428.61" y="429.66" width="0.90" height="3.62" fill="#000" opacity="0.96"/>
<rect x="429.81" y="429.66" width="0.69" height="3.62" fill="#000" opacity="1.00"/>
<rect x="430.62" y="429.66" width="0.82" height="3.62" fill="#000" opacity="1.00"/>
<rect x="431.63" y="429.66" width="0.64" height="3.62" fill="#000" opacity="0.92"/>
<rect x="434.91" y="429.66" width="0.62" height="3.62" fill="#000" opacity="0.59"/>
<rect x="436.90" y="429.66" width="0.64" height="3.62" fill="#000" opacity="0.93"/>
<rect x="438.17" y="429.66" width="0.68" height="3.62" fill="#000" opacity="1.00"/>
<rect x="439.35" y="429.66" width="0.63" height="3.62" fill="#000" opacity="1.00"/>
<rect x="440.34" y="429.66" width="1.09" height="3.62" fill="#000" opacity="0.85"/>
<rect x="444.33" y="429.66" width="1.05" height="3.62" fill="#000" opacity="0.54"/>
<rect x="446.79" y="429.66" width="0.98" height="3.62" fill="#000" opacity="0.69"/>
<rect x="448.00" y="429.66" width="0.88" height="3.62" fill="#000" opacity="0.55"/>
<rect x="450.22" y="429.66" width="1.09" height="3.62" fill="#000" opacity="0.83"/>
<rect x="451.35" y="429.66" width="0.92" height="3.62" fill="#000" opacity="1.00"/>
<rect x="452.09" y="429.66" width="1.03" height="3.62" fill="#000" opacity="1.00"/>
<rect x="454.23" y="429.66" width="0.79" height="3.62" fill="#000" opacity="0.83"/>
<rect x="455.48" y="429.66" width="0.69" height="3.62" fill="#000" opacity="0.59"/>
<rect x="456.56" y="429.66" width="0.71" height="3.62" fill="#000" opacity="0.54"/>
<line x1="342.3" y1="433.6" x2="457.0" y2="433.6" stroke="#222" stroke-width="0.6" />
<rect x="347.75" y="433.98" width="0.80" height="3.62" fill="#000" opacity="0.57"/>
<rect x="349.98" y="433.98" width="1.07" height="3.62" fill="#000" opacity="0.83"/>
<rect x="350.94" y="433.98" width="1.05" height="3.62" fill="#000" opacity="1.00"/>
<rect x="351.65" y="433.98" width="0.64" height="3.62" fill="#000" opacity="1.00"/>
<rect x="352.97" y="433.98" width="0.86" height="3.62" fill="#000" opacity="1.00"/>
<rect x="353.71" y="433.98" width="0.62" height="3.62" fill="#000" opacity="0.87"/>
<rect x="355.23" y="433.98" width="0.87" height="3.62" fill="#000" opacity="0.66"/>
<rect x="358.08" y="433.98" width="0.74" height="3.62" fill="#000" opacity="0.53"/>
<rect x="362.05" y="433.98" width="0.61" height="3.62" fill="#000" opacity="0.50"/>
<rect x="366.71" y="433.98" width="0.93" height="3.62" fill="#000" opacity="0.73"/>
<rect x="368.94" y="433.98" width="0.81" height="3.62" fill="#000" opacity="0.97"/>
<rect x="369.91" y="433.98" width="0.76" height="3.62" fill="#000" opacity="1.00"/>
<rect x="370.96" y="433.98" width="0.80" height="3.62" fill="#000" opacity="1.00"/>
<rect x="371.99" y="433.98" width="0.72" height="3.62" fill="#000" opacity="0.99"/>
<rect x="372.76" y="433.98" width="0.68" height="3.62" fill="#000" opacity="0.80"/>
<rect x="376.63" y="433.98" width="0.63" height="3.62" fill="#000" opacity="0.58"/>
<rect x="379.58" y="433.98" width="1.05" height="3.62" fill="#000" opacity="0.72"/>
<rect x="380.67" y="433.98" width="0.69" height="3.62" fill="#000" opacity="1.00"/>
<rect x="381.70" y="433.98" width="0.78" height="3.62" fill="#000" opacity="1.00"/>
<rect x="382.81" y="433.98" width="0.91" height="3.62" fill="#000" opacity="1.00"/>
<rect x="383.94" y="433.98" width="0.74" height="3.62" fill="#000" opacity="0.87"/>
<rect x="386.92" y="433.98" width="0.75" height="3.62" fill="#000" opacity="0.60"/>
<rect x="388.67" y="433.98" width="0.94" height="3.62" fill="#000" opacity="0.54"/>
<rect x="389.54" y="433.98" width="0.80" height="3.62" fill="#000" opacity="0.60"/>
<rect x="396.23" y="433.98" width="0.95" height="3.62" fill="#000" opacity="0.73"/>
<rect x="398.69" y="433.98" width="0.85" height="3.62" fill="#000" opacity="1.00"/>
<rect x="399.78" y="433.98" width="0.97" height="3.62" fill="#000" opacity="1.00"/>
<rect x="400.86" y="433.98" width="0.76" height="3.62" fill="#000" opacity="0.87"/>
<rect x="402.47" y="433.98" width="0.65" height="3.62" fill="#000" opacity="0.57"/>
<rect x="403.66" y="433.98" width="0.99" height="3.62" fill="#000" opacity="0.59"/>
<rect x="404.70" y="433.98" width="1.03" height="3.62" fill="#000" opacity="0.67"/>
<rect x="411.78" y="433.98" width="0.95" height="3.62" fill="#000" opacity="1.00"/>
<rect x="412.92" y="433.98" width="0.66" height="3.62" fill="#000" opacity="1.00"/>
<rect x="413.88" y="433.98" width="0.69" height="3.62" fill="#000" opacity="1.00"/>
<rect x="414.59" y="433.98" width="1.09" height="3.62" fill="#000" opacity="0.97"/>
<rect x="418.75" y="433.98" width="0.66" height="3.62" fill="#000" opacity="0.64"/>
<rect x="428.62" y="433.98" width="1.00" height="3.62" fill="#000" opacity="1.00"/>
<rect x="429.42" y="433.98" width="1.07" height="3.62" fill="#000" opacity="1.00"/>
<rect x="430.30" y="433.98" width="0.76" height="3.62" fill="#000" opacity="1.00"/>
<rect x="431.01" y="433.98" width="0.91" height="3.62" fill="#000" opacity="0.93"/>
<rect x="431.90" y="433.98" width="0.78" height="3.62" fill="#000" opacity="0.80"/>
<rect x="432.79" y="433.98" width="1.05" height="3.62" fill="#000" opacity="0.59"/>
<rect x="433.70" y="433.98" width="0.84" height="3.62" fill="#000" opacity="0.55"/>
<rect x="435.10" y="433.98" width="0.84" height="3.62" fill="#000" opacity="0.71"/>
<rect x="437.07" y="433.98" width="0.93" height="3.62" fill="#000" opacity="0.96"/>
<rect x="438.20" y="433.98" width="1.03" height="3.62" fill="#000" opacity="1.00"/>
<rect x="439.60" y="433.98" width="0.96" height="3.62" fill="#000" opacity="1.00"/>
<rect x="440.42" y="433.98" width="0.66" height="3.62" fill="#000" opacity="0.82"/>
<rect x="441.17" y="433.98" width="0.76" height="3.62" fill="#000" opacity="0.79"/>
<rect x="442.23" y="433.98" width="1.08" height="3.62" fill="#000" opacity="0.57"/>
<rect x="451.27" y="433.98" width="0.79" height="3.62" fill="#000" opacity="1.00"/>
<rect x="452.23" y="433.98" width="0.78" height="3.62" fill="#000" opacity="1.00"/>
<rect x="453.37" y="433.98" width="1.05" height="3.62" fill="#000" opacity="0.91"/>
<rect x="454.30" y="433.98" width="0.97" height="3.62" fill="#000" opacity="0.72"/>
<line x1="342.3" y1="437.9" x2="457.0" y2="437.9" stroke="#222" stroke-width="0.6" />
<rect x="342.30" y="438.30" width="0.78" height="3.62" fill="#000" opacity="0.52"/>
<rect x="343.30" y="438.30" width="0.80" height="3.62" fill="#000" opacity="0.59"/>
<rect x="345.59" y="438.30" width="0.76" height="3.62" fill="#000" opacity="0.67"/>
<rect x="346.82" y="438.30" width="0.82" height="3.62" fill="#000" opacity="0.70"/>
<rect x="348.19" y="438.30" width="0.95" height="3.62" fill="#000" opacity="0.63"/>
<rect x="349.02" y="438.30" width="1.07" height="3.62" fill="#000" opacity="0.77"/>
<rect x="349.94" y="438.30" width="1.09" height="3.62" fill="#000" opacity="0.87"/>
<rect x="350.75" y="438.30" width="0.92" height="3.62" fill="#000" opacity="1.00"/>
<rect x="351.60" y="438.30" width="1.03" height="3.62" fill="#000" opacity="1.00"/>
<rect x="352.74" y="438.30" width="0.66" height="3.62" fill="#000" opacity="1.00"/>
<rect x="366.67" y="438.30" width="0.85" height="3.62" fill="#000" opacity="0.78"/>
<rect x="369.97" y="438.30" width="1.10" height="3.62" fill="#000" opacity="1.00"/>
<rect x="370.71" y="438.30" width="0.73" height="3.62" fill="#000" opacity="1.00"/>
<rect x="371.98" y="438.30" width="1.03" height="3.62" fill="#000" opacity="0.97"/>
<rect x="372.81" y="438.30" width="0.64" height="3.62" fill="#000" opacity="0.83"/>
<rect x="374.95" y="438.30" width="1.03" height="3.62" fill="#000" opacity="0.67"/>
<rect x="379.10" y="438.30" width="1.03" height="3.62" fill="#000" opacity="0.65"/>
<rect x="380.38" y="438.30" width="0.79" height="3.62" fill="#000" opacity="0.85"/>
<rect x="381.67" y="438.30" width="0.64" height="3.62" fill="#000" opacity="1.00"/>
<rect x="383.07" y="438.30" width="1.04" height="3.62" fill="#000" opacity="1.00"/>
<rect x="384.28" y="438.30" width="0.82" height="3.62" fill="#000" opacity="0.85"/>
<rect x="384.99" y="438.30" width="0.91" height="3.62" fill="#000" opacity="0.66"/>
<rect x="387.07" y="438.30" width="0.95" height="3.62" fill="#000" opacity="0.52"/>
<rect x="388.09" y="438.30" width="1.07" height="3.62" fill="#000" opacity="0.52"/>
<rect x="393.18" y="438.30" width="0.81" height="3.62" fill="#000" opacity="0.62"/>
<rect x="396.83" y="438.30" width="0.72" height="3.62" fill="#000" opacity="0.82"/>
<rect x="397.94" y="438.30" width="0.74" height="3.62" fill="#000" opacity="1.00"/>
<rect x="399.24" y="438.30" width="1.07" height="3.62" fill="#000" opacity="1.00"/>
<rect x="400.21" y="438.30" width="0.82" height="3.62" fill="#000" opacity="1.00"/>
<rect x="400.95" y="438.30" width="0.82" height="3.62" fill="#000" opacity="0.86"/>
<rect x="402.32" y="438.30" width="0.94" height="3.62" fill="#000" opacity="0.71"/>
<rect x="408.18" y="438.30" width="0.64" height="3.62" fill="#000" opacity="0.67"/>
<rect x="412.64" y="438.30" width="0.83" height="3.62" fill="#000" opacity="1.00"/>
<rect x="413.60" y="438.30" width="0.94" height="3.62" fill="#000" opacity="1.00"/>
<rect x="419.63" y="438.30" width="0.80" height="3.62" fill="#000" opacity="0.59"/>
<rect x="420.79" y="438.30" width="0.70" height="3.62" fill="#000" opacity="0.69"/>
<rect x="421.75" y="438.30" width="0.97" height="3.62" fill="#000" opacity="0.57"/>
<rect x="422.51" y="438.30" width="0.91" height="3.62" fill="#000" opacity="0.62"/>
<rect x="426.24" y="438.30" width="0.61" height="3.62" fill="#000" opacity="0.64"/>
<rect x="428.87" y="438.30" width="0.87" height="3.62" fill="#000" opacity="1.00"/>
<rect x="429.94" y="438.30" width="0.75" height="3.62" fill="#000" opacity="1.00"/>
<rect x="431.00" y="438.30" width="0.66" height="3.62" fill="#000" opacity="1.00"/>
<rect x="431.76" y="438.30" width="0.99" height="3.62" fill="#000" opacity="0.79"/>
<rect x="433.37" y="438.30" width="0.88" height="3.62" fill="#000" opacity="0.62"/>
<rect x="437.04" y="438.30" width="1.03" height="3.62" fill="#000" opacity="0.97"/>
<rect x="438.42" y="438.30" width="0.68" height="3.62" fill="#000" opacity="0.98"/>
<rect x="439.69" y="438.30" width="0.68" height="3.62" fill="#000" opacity="1.00"/>
<rect x="440.76" y="438.30" width="0.75" height="3.62" fill="#000" opacity="0.74"/>
<rect x="443.43" y="438.30" width="0.64" height="3.62" fill="#000" opacity="0.58"/>
<rect x="444.31" y="438.30" width="0.76" height="3.62" fill="#000" opacity="0.68"/>
<rect x="450.90" y="438.30" width="0.84" height="3.62" fill="#000" opacity="1.00"/>
<rect x="451.85" y="438.30" width="0.62" height="3.62" fill="#000" opacity="1.00"/>
<rect x="453.13" y="438.30" width="0.87" height="3.62" fill="#000" opacity="1.00"/>
<rect x="454.11" y="438.30" width="0.79" height="3.62" fill="#000" opacity="0.70"/>
<rect x="456.94" y="438.30" width="1.08" height="3.62" fill="#000" opacity="0.58"/>
<line x1="342.3" y1="442.3" x2="457.0" y2="442.3" stroke="#222" stroke-width="0.6" />
<rect x="349.09" y="442.62" width="0.73" height="3.62" fill="#000" opacity="0.66"/>
<rect x="350.98" y="442.62" width="0.74" height="3.62" fill="#000" opacity="1.00"/>
<rect x="352.15" y="442.62" width="1.02" height="3.62" fill="#000" opacity="1.00"/>
<rect x="353.08" y="442.62" width="0.99" height="3.62" fill="#000" opacity="1.00"/>
<rect x="354.23" y="442.62" width="0.62" height="3.62" fill="#000" opacity="0.87"/>
<rect x="365.48" y="442.62" width="0.97" height="3.62" fill="#000" opacity="0.58"/>
<rect x="366.23" y="442.62" width="0.93" height="3.62" fill="#000" opacity="0.72"/>
<rect x="367.31" y="442.62" width="0.76" height="3.62" fill="#000" opacity="0.69"/>
<rect x="368.68" y="442.62" width="0.71" height="3.62" fill="#000" opacity="1.00"/>
<rect x="369.67" y="442.62" width="0.66" height="3.62" fill="#000" opacity="1.00"/>
<rect x="370.98" y="442.62" width="0.82" height="3.62" fill="#000" opacity="0.99"/>
<rect x="371.95" y="442.62" width="0.85" height="3.62" fill="#000" opacity="1.00"/>
<rect x="373.13" y="442.62" width="0.65" height="3.62" fill="#000" opacity="0.81"/>
<rect x="374.35" y="442.62" width="0.70" height="3.62" fill="#000" opacity="0.66"/>
<rect x="375.29" y="442.62" width="0.90" height="3.62" fill="#000" opacity="0.58"/>
<rect x="380.37" y="442.62" width="0.73" height="3.62" fill="#000" opacity="0.86"/>
<rect x="381.58" y="442.62" width="0.63" height="3.62" fill="#000" opacity="1.00"/>
<rect x="382.86" y="442.62" width="0.82" height="3.62" fill="#000" opacity="1.00"/>
<rect x="383.99" y="442.62" width="1.05" height="3.62" fill="#000" opacity="0.97"/>
<rect x="387.94" y="442.62" width="0.88" height="3.62" fill="#000" opacity="0.63"/>
<rect x="392.69" y="442.62" width="0.90" height="3.62" fill="#000" opacity="0.60"/>
<rect x="398.09" y="442.62" width="0.96" height="3.62" fill="#000" opacity="1.00"/>
<rect x="398.97" y="442.62" width="0.87" height="3.62" fill="#000" opacity="0.98"/>
<rect x="399.85" y="442.62" width="0.67" height="3.62" fill="#000" opacity="1.00"/>
<rect x="400.89" y="442.62" width="0.74" height="3.62" fill="#000" opacity="0.87"/>
<rect x="408.43" y="442.62" width="0.78" height="3.62" fill="#000" opacity="0.68"/>
<rect x="409.69" y="442.62" width="0.79" height="3.62" fill="#000" opacity="0.63"/>
<rect x="411.95" y="442.62" width="0.72" height="3.62" fill="#000" opacity="1.00"/>
<rect x="413.32" y="442.62" width="0.93" height="3.62" fill="#000" opacity="1.00"/>
<rect x="414.84" y="442.62" width="1.09" height="3.62" fill="#000" opacity="0.75"/>
<rect x="417.24" y="442.62" width="1.09" height="3.62" fill="#000" opacity="0.61"/>
<rect x="426.97" y="442.62" width="0.77" height="3.62" fill="#000" opacity="0.68"/>
<rect x="429.55" y="442.62" width="1.03" height="3.62" fill="#000" opacity="1.00"/>
<rect x="430.90" y="442.62" width="0.90" height="3.62" fill="#000" opacity="1.00"/>
<rect x="435.34" y="442.62" width="1.03" height="3.62" fill="#000" opacity="0.58"/>
<rect x="436.71" y="442.62" width="1.01" height="3.62" fill="#000" opacity="0.78"/>
<rect x="437.90" y="442.62" width="0.98" height="3.62" fill="#000" opacity="1.00"/>
<rect x="439.16" y="442.62" width="1.00" height="3.62" fill="#000" opacity="0.99"/>
<rect x="441.53" y="442.62" width="0.61" height="3.62" fill="#000" opacity="0.66"/>
<rect x="447.15" y="442.62" width="0.73" height="3.62" fill="#000" opacity="0.52"/>
<rect x="449.12" y="442.62" width="0.73" height="3.62" fill="#000" opacity="0.70"/>
<rect x="450.18" y="442.62" width="0.69" height="3.62" fill="#000" opacity="0.92"/>
<rect x="451.05" y="442.62" width="0.96" height="3.62" fill="#000" opacity="1.00"/>
<rect x="452.22" y="442.62" width="0.64" height="3.62" fill="#000" opacity="1.00"/>
<rect x="453.45" y="442.62" width="0.81" height="3.62" fill="#000" opacity="0.88"/>
<line x1="342.3" y1="446.6" x2="457.0" y2="446.6" stroke="#222" stroke-width="0.6" />
<rect x="348.99" y="446.94" width="0.79" height="3.62" fill="#000" opacity="0.73"/>
<rect x="350.53" y="446.94" width="1.08" height="3.62" fill="#000" opacity="1.00"/>
<rect x="351.89" y="446.94" width="0.67" height="3.62" fill="#000" opacity="1.00"/>
<rect x="353.92" y="446.94" width="1.04" height="3.62" fill="#000" opacity="0.92"/>
<rect x="358.29" y="446.94" width="0.77" height="3.62" fill="#000" opacity="0.53"/>
<rect x="359.85" y="446.94" width="0.87" height="3.62" fill="#000" opacity="0.60"/>
<rect x="365.81" y="446.94" width="0.88" height="3.62" fill="#000" opacity="0.59"/>
<rect x="368.10" y="446.94" width="1.02" height="3.62" fill="#000" opacity="0.92"/>
<rect x="369.13" y="446.94" width="1.09" height="3.62" fill="#000" opacity="1.00"/>
<rect x="369.84" y="446.94" width="0.63" height="3.62" fill="#000" opacity="1.00"/>
<rect x="370.66" y="446.94" width="0.71" height="3.62" fill="#000" opacity="1.00"/>
<rect x="371.37" y="446.94" width="0.85" height="3.62" fill="#000" opacity="1.00"/>
<rect x="372.53" y="446.94" width="0.61" height="3.62" fill="#000" opacity="0.79"/>
<rect x="373.44" y="446.94" width="0.91" height="3.62" fill="#000" opacity="0.67"/>
<rect x="381.76" y="446.94" width="0.85" height="3.62" fill="#000" opacity="1.00"/>
<rect x="383.15" y="446.94" width="0.96" height="3.62" fill="#000" opacity="0.99"/>
<rect x="384.02" y="446.94" width="1.07" height="3.62" fill="#000" opacity="0.80"/>
<rect x="384.92" y="446.94" width="0.77" height="3.62" fill="#000" opacity="0.74"/>
<rect x="388.32" y="446.94" width="0.73" height="3.62" fill="#000" opacity="0.59"/>
<rect x="390.44" y="446.94" width="0.84" height="3.62" fill="#000" opacity="0.59"/>
<rect x="395.37" y="446.94" width="0.85" height="3.62" fill="#000" opacity="0.70"/>
<rect x="397.73" y="446.94" width="0.75" height="3.62" fill="#000" opacity="0.96"/>
<rect x="399.02" y="446.94" width="0.70" height="3.62" fill="#000" opacity="1.00"/>
<rect x="399.87" y="446.94" width="1.09" height="3.62" fill="#000" opacity="1.00"/>
<rect x="406.82" y="446.94" width="0.77" height="3.62" fill="#000" opacity="0.60"/>
<rect x="410.56" y="446.94" width="0.65" height="3.62" fill="#000" opacity="0.78"/>
<rect x="411.95" y="446.94" width="0.69" height="3.62" fill="#000" opacity="1.00"/>
<rect x="413.13" y="446.94" width="0.91" height="3.62" fill="#000" opacity="1.00"/>
<rect x="413.92" y="446.94" width="1.03" height="3.62" fill="#000" opacity="0.96"/>
<rect x="419.82" y="446.94" width="1.00" height="3.62" fill="#000" opacity="0.53"/>
<rect x="423.88" y="446.94" width="0.94" height="3.62" fill="#000" opacity="0.62"/>
<rect x="429.87" y="446.94" width="0.86" height="3.62" fill="#000" opacity="1.00"/>
<rect x="430.91" y="446.94" width="0.87" height="3.62" fill="#000" opacity="1.00"/>
<rect x="432.81" y="446.94" width="0.72" height="3.62" fill="#000" opacity="0.69"/>
<rect x="433.74" y="446.94" width="0.78" height="3.62" fill="#000" opacity="0.53"/>
<rect x="435.96" y="446.94" width="0.72" height="3.62" fill="#000" opacity="0.71"/>
<rect x="437.78" y="446.94" width="0.98" height="3.62" fill="#000" opacity="1.00"/>
<rect x="438.86" y="446.94" width="1.05" height="3.62" fill="#000" opacity="1.00"/>
<rect x="439.74" y="446.94" width="0.86" height="3.62" fill="#000" opacity="1.00"/>
<rect x="441.31" y="446.94" width="0.74" height="3.62" fill="#000" opacity="0.73"/>
<rect x="448.50" y="446.94" width="0.95" height="3.62" fill="#000" opacity="0.57"/>
<rect x="449.50" y="446.94" width="0.89" height="3.62" fill="#000" opacity="0.70"/>
<rect x="450.72" y="446.94" width="0.94" height="3.62" fill="#000" opacity="1.00"/>
<rect x="451.85" y="446.94" width="0.66" height="3.62" fill="#000" opacity="1.00"/>
<rect x="452.59" y="446.94" width="0.64" height="3.62" fill="#000" opacity="0.98"/>
<rect x="453.57" y="446.94" width="1.08" height="3.62" fill="#000" opacity="0.83"/>
<line x1="342.3" y1="450.9" x2="457.0" y2="450.9" stroke="#222" stroke-width="0.6" />
<rect x="342.30" y="451.26" width="0.71" height="3.62" fill="#000" opacity="0.55"/>
<rect x="349.19" y="451.26" width="0.91" height="3.62" fill="#000" opacity="0.72"/>
<rect x="350.18" y="451.26" width="0.83" height="3.62" fill="#000" opacity="1.00"/>
<rect x="351.21" y="451.26" width="0.79" height="3.62" fill="#000" opacity="1.00"/>
<rect x="353.79" y="451.26" width="0.97" height="3.62" fill="#000" opacity="0.94"/>
<rect x="362.21" y="451.26" width="0.98" height="3.62" fill="#000" opacity="0.58"/>
<rect x="365.34" y="451.26" width="0.63" height="3.62" fill="#000" opacity="0.69"/>
<rect x="367.73" y="451.26" width="0.96" height="3.62" fill="#000" opacity="0.85"/>
<rect x="368.97" y="451.26" width="0.73" height="3.62" fill="#000" opacity="1.00"/>
<rect x="370.16" y="451.26" width="1.09" height="3.62" fill="#000" opacity="1.00"/>
<rect x="370.96" y="451.26" width="0.96" height="3.62" fill="#000" opacity="1.00"/>
<rect x="372.32" y="451.26" width="0.86" height="3.62" fill="#000" opacity="0.91"/>
<rect x="373.37" y="451.26" width="1.05" height="3.62" fill="#000" opacity="0.75"/>
<rect x="380.38" y="451.26" width="0.64" height="3.62" fill="#000" opacity="0.96"/>
<rect x="381.29" y="451.26" width="1.01" height="3.62" fill="#000" opacity="1.00"/>
<rect x="382.26" y="451.26" width="0.87" height="3.62" fill="#000" opacity="1.00"/>
<rect x="382.97" y="451.26" width="0.67" height="3.62" fill="#000" opacity="1.00"/>
<rect x="385.25" y="451.26" width="0.66" height="3.62" fill="#000" opacity="0.60"/>
<rect x="390.29" y="451.26" width="0.95" height="3.62" fill="#000" opacity="0.63"/>
<rect x="396.25" y="451.26" width="0.68" height="3.62" fill="#000" opacity="0.71"/>
<rect x="397.62" y="451.26" width="0.82" height="3.62" fill="#000" opacity="0.93"/>
<rect x="398.90" y="451.26" width="0.69" height="3.62" fill="#000" opacity="1.00"/>
<rect x="399.85" y="451.26" width="1.04" height="3.62" fill="#000" opacity="1.00"/>
<rect x="401.16" y="451.26" width="0.71" height="3.62" fill="#000" opacity="0.83"/>
<rect x="402.36" y="451.26" width="0.63" height="3.62" fill="#000" opacity="0.71"/>
<rect x="404.76" y="451.26" width="0.78" height="3.62" fill="#000" opacity="0.50"/>
<rect x="407.45" y="451.26" width="0.61" height="3.62" fill="#000" opacity="0.51"/>
<rect x="408.64" y="451.26" width="0.93" height="3.62" fill="#000" opacity="0.55"/>
<rect x="410.85" y="451.26" width="0.78" height="3.62" fill="#000" opacity="0.81"/>
<rect x="411.81" y="451.26" width="0.73" height="3.62" fill="#000" opacity="0.99"/>
<rect x="412.52" y="451.26" width="0.73" height="3.62" fill="#000" opacity="1.00"/>
<rect x="413.30" y="451.26" width="0.86" height="3.62" fill="#000" opacity="1.00"/>
<rect x="428.95" y="451.26" width="1.04" height="3.62" fill="#000" opacity="1.00"/>
<rect x="430.34" y="451.26" width="0.64" height="3.62" fill="#000" opacity="1.00"/>
<rect x="435.74" y="451.26" width="0.92" height="3.62" fill="#000" opacity="0.68"/>
<rect x="436.51" y="451.26" width="0.82" height="3.62" fill="#000" opacity="0.92"/>
<rect x="437.75" y="451.26" width="0.69" height="3.62" fill="#000" opacity="1.00"/>
<rect x="438.77" y="451.26" width="0.71" height="3.62" fill="#000" opacity="1.00"/>
<rect x="439.78" y="451.26" width="0.89" height="3.62" fill="#000" opacity="1.00"/>
<rect x="440.93" y="451.26" width="0.93" height="3.62" fill="#000" opacity="0.73"/>
<rect x="441.78" y="451.26" width="0.77" height="3.62" fill="#000" opacity="0.72"/>
<rect x="446.75" y="451.26" width="0.67" height="3.62" fill="#000" opacity="0.65"/>
<rect x="447.59" y="451.26" width="0.84" height="3.62" fill="#000" opacity="0.53"/>
<rect x="450.67" y="451.26" width="1.07" height="3.62" fill="#000" opacity="0.99"/>
<rect x="451.40" y="451.26" width="1.01" height="3.62" fill="#000" opacity="1.00"/>
<rect x="452.28" y="451.26" width="0.85" height="3.62" fill="#000" opacity="1.00"/>
<rect x="453.66" y="451.26" width="1.06" height="3.62" fill="#000" opacity="0.84"/>
<rect x="454.83" y="451.26" width="0.72" height="3.62" fill="#000" opacity="0.61"/>
<line x1="342.3" y1="455.2" x2="457.0" y2="455.2" stroke="#222" stroke-width="0.6" />
<rect x="344.31" y="455.58" width="0.79" height="3.62" fill="#000" opacity="0.59"/>
<rect x="345.39" y="455.58" width="1.09" height="3.62" fill="#000" opacity="0.50"/>
<rect x="348.49" y="455.58" width="0.85" height="3.62" fill="#000" opacity="0.67"/>
<rect x="349.73" y="455.58" width="0.69" height="3.62" fill="#000" opacity="0.80"/>
<rect x="350.93" y="455.58" width="0.62" height="3.62" fill="#000" opacity="1.00"/>
<rect x="351.77" y="455.58" width="0.91" height="3.62" fill="#000" opacity="1.00"/>
<rect x="352.99" y="455.58" width="0.63" height="3.62" fill="#000" opacity="1.00"/>
<rect x="354.27" y="455.58" width="0.62" height="3.62" fill="#000" opacity="0.75"/>
<rect x="355.95" y="455.58" width="1.02" height="3.62" fill="#000" opacity="0.54"/>
<rect x="357.80" y="455.58" width="0.70" height="3.62" fill="#000" opacity="0.55"/>
<rect x="358.58" y="455.58" width="0.68" height="3.62" fill="#000" opacity="0.62"/>
<rect x="360.36" y="455.58" width="0.85" height="3.62" fill="#000" opacity="0.61"/>
<rect x="367.78" y="455.58" width="1.05" height="3.62" fill="#000" opacity="0.88"/>
<rect x="368.51" y="455.58" width="0.98" height="3.62" fill="#000" opacity="0.93"/>
<rect x="369.76" y="455.58" width="0.69" height="3.62" fill="#000" opacity="1.00"/>
<rect x="370.73" y="455.58" width="0.66" height="3.62" fill="#000" opacity="1.00"/>
<rect x="372.12" y="455.58" width="0.78" height="3.62" fill="#000" opacity="1.00"/>
<rect x="378.55" y="455.58" width="0.88" height="3.62" fill="#000" opacity="0.62"/>
<rect x="380.98" y="455.58" width="0.70" height="3.62" fill="#000" opacity="1.00"/>
<rect x="382.00" y="455.58" width="0.73" height="3.62" fill="#000" opacity="1.00"/>
<rect x="382.95" y="455.58" width="1.02" height="3.62" fill="#000" opacity="1.00"/>
<rect x="383.79" y="455.58" width="0.60" height="3.62" fill="#000" opacity="0.88"/>
<rect x="384.49" y="455.58" width="0.74" height="3.62" fill="#000" opacity="0.74"/>
<rect x="395.10" y="455.58" width="0.68" height="3.62" fill="#000" opacity="0.63"/>
<rect x="397.76" y="455.58" width="0.63" height="3.62" fill="#000" opacity="1.00"/>
<rect x="398.53" y="455.58" width="1.01" height="3.62" fill="#000" opacity="1.00"/>
<rect x="399.71" y="455.58" width="0.79" height="3.62" fill="#000" opacity="1.00"/>
<rect x="400.48" y="455.58" width="0.71" height="3.62" fill="#000" opacity="0.91"/>
<rect x="401.21" y="455.58" width="0.87" height="3.62" fill="#000" opacity="0.76"/>
<rect x="411.31" y="455.58" width="0.73" height="3.62" fill="#000" opacity="0.90"/>
<rect x="412.43" y="455.58" width="0.63" height="3.62" fill="#000" opacity="1.00"/>
<rect x="413.22" y="455.58" width="1.10" height="3.62" fill="#000" opacity="1.00"/>
<rect x="414.48" y="455.58" width="0.85" height="3.62" fill="#000" opacity="0.90"/>
<rect x="421.31" y="455.58" width="0.90" height="3.62" fill="#000" opacity="0.58"/>
<rect x="424.77" y="455.58" width="1.04" height="3.62" fill="#000" opacity="0.50"/>
<rect x="425.81" y="455.58" width="1.05" height="3.62" fill="#000" opacity="0.55"/>
<rect x="427.03" y="455.58" width="0.71" height="3.62" fill="#000" opacity="0.76"/>
<rect x="428.05" y="455.58" width="1.07" height="3.62" fill="#000" opacity="0.84"/>
<rect x="428.98" y="455.58" width="0.65" height="3.62" fill="#000" opacity="1.00"/>
<rect x="429.71" y="455.58" width="1.05" height="3.62" fill="#000" opacity="1.00"/>
<rect x="430.96" y="455.58" width="0.90" height="3.62" fill="#000" opacity="0.92"/>
<rect x="431.99" y="455.58" width="0.70" height="3.62" fill="#000" opacity="0.87"/>
<rect x="433.14" y="455.58" width="1.07" height="3.62" fill="#000" opacity="0.73"/>
<rect x="436.73" y="455.58" width="0.67" height="3.62" fill="#000" opacity="0.88"/>
<rect x="437.82" y="455.58" width="0.72" height="3.62" fill="#000" opacity="1.00"/>
<rect x="438.90" y="455.58" width="0.97" height="3.62" fill="#000" opacity="1.00"/>
<rect x="440.14" y="455.58" width="0.95" height="3.62" fill="#000" opacity="0.94"/>
<rect x="442.13" y="455.58" width="1.01" height="3.62" fill="#000" opacity="0.57"/>
<rect x="446.08" y="455.58" width="0.90" height="3.62" fill="#000" opacity="0.63"/>
<rect x="449.71" y="455.58" width="0.79" height="3.62" fill="#000" opacity="0.78"/>
<rect x="450.70" y="455.58" width="0.78" height="3.62" fill="#000" opacity="1.00"/>
<rect x="451.64" y="455.58" width="0.94" height="3.62" fill="#000" opacity="1.00"/>
<rect x="452.94" y="455.58" width="0.73" height="3.62" fill="#000" opacity="1.00"/>
<rect x="453.86" y="455.58" width="1.06" height="3.62" fill="#000" opacity="0.90"/>
<rect x="455.55" y="455.58" width="1.05" height="3.62" fill="#000" opacity="0.65"/>
<line x1="342.3" y1="459.5" x2="457.0" y2="459.5" stroke="#222" stroke-width="0.6" />
<rect x="344.65" y="459.90" width="0.81" height="3.62" fill="#000" opacity="0.55"/>
<rect x="348.36" y="459.90" width="1.00" height="3.62" fill="#000" opacity="0.57"/>
<rect x="349.48" y="459.90" width="0.90" height="3.62" fill="#000" opacity="0.80"/>
<rect x="350.40" y="459.90" width="0.78" height="3.62" fill="#000" opacity="0.97"/>
<rect x="351.78" y="459.90" width="1.03" height="3.62" fill="#000" opacity="1.00"/>
<rect x="352.89" y="459.90" width="0.65" height="3.62" fill="#000" opacity="1.00"/>
<rect x="353.98" y="459.90" width="0.81" height="3.62" fill="#000" opacity="0.79"/>
<rect x="365.03" y="459.90" width="0.62" height="3.62" fill="#000" opacity="0.53"/>
<rect x="367.79" y="459.90" width="0.99" height="3.62" fill="#000" opacity="0.80"/>
<rect x="368.72" y="459.90" width="0.60" height="3.62" fill="#000" opacity="1.00"/>
<rect x="369.80" y="459.90" width="0.63" height="3.62" fill="#000" opacity="1.00"/>
<rect x="370.69" y="459.90" width="0.93" height="3.62" fill="#000" opacity="1.00"/>
<rect x="371.68" y="459.90" width="0.83" height="3.62" fill="#000" opacity="0.96"/>
<rect x="373.33" y="459.90" width="0.87" height="3.62" fill="#000" opacity="0.67"/>
<rect x="374.44" y="459.90" width="1.02" height="3.62" fill="#000" opacity="0.73"/>
<rect x="375.41" y="459.90" width="1.09" height="3.62" fill="#000" opacity="0.67"/>
<rect x="378.35" y="459.90" width="0.72" height="3.62" fill="#000" opacity="0.56"/>
<rect x="380.71" y="459.90" width="0.72" height="3.62" fill="#000" opacity="0.96"/>
<rect x="381.86" y="459.90" width="0.82" height="3.62" fill="#000" opacity="1.00"/>
<rect x="382.88" y="459.90" width="0.83" height="3.62" fill="#000" opacity="1.00"/>
<rect x="385.79" y="459.90" width="0.78" height="3.62" fill="#000" opacity="0.61"/>
<rect x="386.52" y="459.90" width="1.07" height="3.62" fill="#000" opacity="0.59"/>
<rect x="387.80" y="459.90" width="0.78" height="3.62" fill="#000" opacity="0.56"/>
<rect x="388.72" y="459.90" width="1.02" height="3.62" fill="#000" opacity="0.61"/>
<rect x="389.69" y="459.90" width="0.61" height="3.62" fill="#000" opacity="0.51"/>
<rect x="392.89" y="459.90" width="0.98" height="3.62" fill="#000" opacity="0.56"/>
<rect x="398.38" y="459.90" width="1.07" height="3.62" fill="#000" opacity="1.00"/>
<rect x="400.04" y="459.90" width="0.75" height="3.62" fill="#000" opacity="1.00"/>
<rect x="402.22" y="459.90" width="1.03" height="3.62" fill="#000" opacity="0.76"/>
<rect x="403.28" y="459.90" width="0.75" height="3.62" fill="#000" opacity="0.57"/>
<rect x="408.21" y="459.90" width="0.81" height="3.62" fill="#000" opacity="0.51"/>
<rect x="410.39" y="459.90" width="0.94" height="3.62" fill="#000" opacity="0.62"/>
<rect x="411.33" y="459.90" width="0.73" height="3.62" fill="#000" opacity="0.88"/>
<rect x="412.06" y="459.90" width="0.66" height="3.62" fill="#000" opacity="1.00"/>
<rect x="412.78" y="459.90" width="1.04" height="3.62" fill="#000" opacity="0.98"/>
<rect x="413.73" y="459.90" width="0.61" height="3.62" fill="#000" opacity="1.00"/>
<rect x="426.69" y="459.90" width="0.79" height="3.62" fill="#000" opacity="0.68"/>
<rect x="428.05" y="459.90" width="0.67" height="3.62" fill="#000" opacity="0.94"/>
<rect x="429.28" y="459.90" width="0.75" height="3.62" fill="#000" opacity="1.00"/>
<rect x="430.60" y="459.90" width="0.97" height="3.62" fill="#000" opacity="1.00"/>
<rect x="432.80" y="459.90" width="0.97" height="3.62" fill="#000" opacity="0.72"/>
<rect x="434.62" y="459.90" width="0.77" height="3.62" fill="#000" opacity="0.61"/>
<rect x="436.74" y="459.90" width="0.74" height="3.62" fill="#000" opacity="0.87"/>
<rect x="437.91" y="459.90" width="0.81" height="3.62" fill="#000" opacity="1.00"/>
<rect x="438.94" y="459.90" width="1.07" height="3.62" fill="#000" opacity="1.00"/>
<rect x="441.58" y="459.90" width="0.83" height="3.62" fill="#000" opacity="0.64"/>
<rect x="444.59" y="459.90" width="0.70" height="3.62" fill="#000" opacity="0.51"/>
<rect x="448.73" y="459.90" width="1.08" height="3.62" fill="#000" opacity="0.55"/>
<rect x="451.14" y="459.90" width="0.85" height="3.62" fill="#000" opacity="1.00"/>
<rect x="452.03" y="459.90" width="0.76" height="3.62" fill="#000" opacity="1.00"/>
<rect x="453.18" y="459.90" width="0.71" height="3.62" fill="#000" opacity="1.00"/>
<line x1="342.3" y1="463.9" x2="457.0" y2="463.9" stroke="#222" stroke-width="0.6" />
<rect x="345.07" y="464.22" width="0.84" height="3.62" fill="#000" opacity="0.64"/>
<rect x="351.48" y="464.22" width="0.70" height="3.62" fill="#000" opacity="1.00"/>
<rect x="352.50" y="464.22" width="0.65" height="3.62" fill="#000" opacity="1.00"/>
<rect x="353.20" y="464.22" width="0.71" height="3.62" fill="#000" opacity="0.98"/>
<rect x="354.06" y="464.22" width="1.06" height="3.62" fill="#000" opacity="0.89"/>
<rect x="355.23" y="464.22" width="0.90" height="3.62" fill="#000" opacity="0.75"/>
<rect x="367.09" y="464.22" width="1.02" height="3.62" fill="#000" opacity="0.63"/>
<rect x="369.34" y="464.22" width="1.10" height="3.62" fill="#000" opacity="1.00"/>
<rect x="370.37" y="464.22" width="0.61" height="3.62" fill="#000" opacity="1.00"/>
<rect x="371.29" y="464.22" width="0.80" height="3.62" fill="#000" opacity="1.00"/>
<rect x="372.19" y="464.22" width="0.75" height="3.62" fill="#000" opacity="0.84"/>
<rect x="373.16" y="464.22" width="0.81" height="3.62" fill="#000" opacity="0.77"/>
<rect x="375.81" y="464.22" width="0.71" height="3.62" fill="#000" opacity="0.60"/>
<rect x="380.52" y="464.22" width="1.01" height="3.62" fill="#000" opacity="0.90"/>
<rect x="381.76" y="464.22" width="1.03" height="3.62" fill="#000" opacity="1.00"/>
<rect x="382.98" y="464.22" width="0.97" height="3.62" fill="#000" opacity="1.00"/>
<rect x="385.51" y="464.22" width="0.91" height="3.62" fill="#000" opacity="0.66"/>
<rect x="386.63" y="464.22" width="0.86" height="3.62" fill="#000" opacity="0.70"/>
<rect x="388.49" y="464.22" width="0.73" height="3.62" fill="#000" opacity="0.63"/>
<rect x="395.65" y="464.22" width="0.64" height="3.62" fill="#000" opacity="0.65"/>
<rect x="398.27" y="464.22" width="0.63" height="3.62" fill="#000" opacity="1.00"/>
<rect x="399.60" y="464.22" width="0.82" height="3.62" fill="#000" opacity="1.00"/>
<rect x="400.31" y="464.22" width="0.86" height="3.62" fill="#000" opacity="0.95"/>
<rect x="410.15" y="464.22" width="0.98" height="3.62" fill="#000" opacity="0.77"/>
<rect x="411.54" y="464.22" width="0.68" height="3.62" fill="#000" opacity="0.87"/>
<rect x="412.27" y="464.22" width="1.08" height="3.62" fill="#000" opacity="1.00"/>
<rect x="413.18" y="464.22" width="0.67" height="3.62" fill="#000" opacity="1.00"/>
<rect x="413.90" y="464.22" width="0.78" height="3.62" fill="#000" opacity="1.00"/>
<rect x="415.27" y="464.22" width="0.87" height="3.62" fill="#000" opacity="0.80"/>
<rect x="416.04" y="464.22" width="1.04" height="3.62" fill="#000" opacity="0.66"/>
<rect x="419.79" y="464.22" width="1.06" height="3.62" fill="#000" opacity="0.69"/>
<rect x="423.21" y="464.22" width="0.62" height="3.62" fill="#000" opacity="0.55"/>
<rect x="428.03" y="464.22" width="0.82" height="3.62" fill="#000" opacity="0.83"/>
<rect x="429.29" y="464.22" width="0.72" height="3.62" fill="#000" opacity="1.00"/>
<rect x="430.27" y="464.22" width="0.88" height="3.62" fill="#000" opacity="0.98"/>
<rect x="431.34" y="464.22" width="0.95" height="3.62" fill="#000" opacity="1.00"/>
<rect x="432.20" y="464.22" width="0.74" height="3.62" fill="#000" opacity="0.75"/>
<rect x="433.29" y="464.22" width="0.81" height="3.62" fill="#000" opacity="0.67"/>
<rect x="434.02" y="464.22" width="1.02" height="3.62" fill="#000" opacity="0.70"/>
<rect x="436.73" y="464.22" width="1.07" height="3.62" fill="#000" opacity="0.92"/>
<rect x="437.57" y="464.22" width="0.64" height="3.62" fill="#000" opacity="0.99"/>
<rect x="438.84" y="464.22" width="0.66" height="3.62" fill="#000" opacity="1.00"/>
<rect x="439.99" y="464.22" width="0.90" height="3.62" fill="#000" opacity="0.91"/>
<rect x="442.42" y="464.22" width="0.67" height="3.62" fill="#000" opacity="0.58"/>
<rect x="443.46" y="464.22" width="0.94" height="3.62" fill="#000" opacity="0.67"/>
<rect x="450.87" y="464.22" width="1.08" height="3.62" fill="#000" opacity="1.00"/>
<rect x="452.10" y="464.22" width="0.74" height="3.62" fill="#000" opacity="1.00"/>
<rect x="453.23" y="464.22" width="1.08" height="3.62" fill="#000" opacity="1.00"/>
<rect x="454.28" y="464.22" width="0.63" height="3.62" fill="#000" opacity="0.77"/>
<rect x="455.31" y="464.22" width="1.01" height="3.62" fill="#000" opacity="0.61"/>
<line x1="342.3" y1="468.2" x2="457.0" y2="468.2" stroke="#222" stroke-width="0.6" />
<rect x="496.9" y="373.9" width="119.3" height="60" fill="#fff" stroke="#e07070" stroke-width="1.3"/>
<rect x="498.20" y="377.30" width="0.61" height="3.62" fill="#000" opacity="1.00"/>
<rect x="499.60" y="377.30" width="0.93" height="3.62" fill="#000" opacity="0.91"/>
<rect x="511.15" y="377.30" width="0.73" height="3.62" fill="#000" opacity="0.97"/>
<rect x="512.52" y="377.30" width="1.08" height="3.62" fill="#000" opacity="1.00"/>
<rect x="513.68" y="377.30" width="0.93" height="3.62" fill="#000" opacity="1.00"/>
<rect x="514.51" y="377.30" width="0.62" height="3.62" fill="#000" opacity="1.00"/>
<rect x="515.85" y="377.30" width="0.80" height="3.62" fill="#000" opacity="0.81"/>
<rect x="517.93" y="377.30" width="0.75" height="3.62" fill="#000" opacity="0.94"/>
<rect x="519.05" y="377.30" width="0.94" height="3.62" fill="#000" opacity="1.00"/>
<rect x="520.12" y="377.30" width="0.78" height="3.62" fill="#000" opacity="1.00"/>
<rect x="521.12" y="377.30" width="1.08" height="3.62" fill="#000" opacity="1.00"/>
<rect x="522.18" y="377.30" width="1.05" height="3.62" fill="#000" opacity="0.86"/>
<rect x="523.00" y="377.30" width="0.76" height="3.62" fill="#000" opacity="0.86"/>
<rect x="523.95" y="377.30" width="0.87" height="3.62" fill="#000" opacity="0.87"/>
<rect x="525.21" y="377.30" width="0.95" height="3.62" fill="#000" opacity="1.00"/>
<rect x="525.94" y="377.30" width="1.06" height="3.62" fill="#000" opacity="1.00"/>
<rect x="526.97" y="377.30" width="0.86" height="3.62" fill="#000" opacity="1.00"/>
<rect x="534.09" y="377.30" width="0.92" height="3.62" fill="#000" opacity="0.66"/>
<rect x="535.02" y="377.30" width="0.82" height="3.62" fill="#000" opacity="0.83"/>
<rect x="535.91" y="377.30" width="0.78" height="3.62" fill="#000" opacity="1.00"/>
<rect x="536.70" y="377.30" width="1.03" height="3.62" fill="#000" opacity="1.00"/>
<rect x="537.52" y="377.30" width="0.83" height="3.62" fill="#000" opacity="1.00"/>
<rect x="538.37" y="377.30" width="1.06" height="3.62" fill="#000" opacity="0.99"/>
<rect x="539.65" y="377.30" width="1.02" height="3.62" fill="#000" opacity="0.65"/>
<rect x="540.37" y="377.30" width="0.79" height="3.62" fill="#000" opacity="0.63"/>
<rect x="542.62" y="377.30" width="0.73" height="3.62" fill="#000" opacity="0.56"/>
<rect x="545.33" y="377.30" width="0.90" height="3.62" fill="#000" opacity="0.61"/>
<rect x="549.74" y="377.30" width="0.77" height="3.62" fill="#000" opacity="0.96"/>
<rect x="551.04" y="377.30" width="0.79" height="3.62" fill="#000" opacity="0.98"/>
<rect x="552.19" y="377.30" width="1.05" height="3.62" fill="#000" opacity="1.00"/>
<rect x="553.28" y="377.30" width="0.86" height="3.62" fill="#000" opacity="0.88"/>
<rect x="554.11" y="377.30" width="1.02" height="3.62" fill="#000" opacity="0.62"/>
<rect x="560.39" y="377.30" width="0.79" height="3.62" fill="#000" opacity="0.52"/>
<rect x="562.64" y="377.30" width="1.03" height="3.62" fill="#000" opacity="0.73"/>
<rect x="563.75" y="377.30" width="0.61" height="3.62" fill="#000" opacity="1.00"/>
<rect x="565.12" y="377.30" width="1.01" height="3.62" fill="#000" opacity="1.00"/>
<rect x="565.89" y="377.30" width="0.85" height="3.62" fill="#000" opacity="1.00"/>
<rect x="574.22" y="377.30" width="0.63" height="3.62" fill="#000" opacity="0.68"/>
<rect x="575.57" y="377.30" width="0.76" height="3.62" fill="#000" opacity="0.90"/>
<rect x="576.34" y="377.30" width="0.69" height="3.62" fill="#000" opacity="1.00"/>
<rect x="577.38" y="377.30" width="1.01" height="3.62" fill="#000" opacity="1.00"/>
<rect x="578.29" y="377.30" width="1.08" height="3.62" fill="#000" opacity="1.00"/>
<rect x="579.25" y="377.30" width="0.86" height="3.62" fill="#000" opacity="0.91"/>
<rect x="580.11" y="377.30" width="0.76" height="3.62" fill="#000" opacity="0.64"/>
<rect x="580.90" y="377.30" width="1.01" height="3.62" fill="#000" opacity="0.74"/>
<rect x="585.77" y="377.30" width="0.62" height="3.62" fill="#000" opacity="0.91"/>
<rect x="586.95" y="377.30" width="0.78" height="3.62" fill="#000" opacity="1.00"/>
<rect x="587.85" y="377.30" width="0.68" height="3.62" fill="#000" opacity="0.93"/>
<rect x="592.69" y="377.30" width="0.94" height="3.62" fill="#000" opacity="0.81"/>
<rect x="594.04" y="377.30" width="0.88" height="3.62" fill="#000" opacity="1.00"/>
<rect x="594.86" y="377.30" width="0.88" height="3.62" fill="#000" opacity="1.00"/>
<rect x="596.14" y="377.30" width="0.99" height="3.62" fill="#000" opacity="1.00"/>
<rect x="597.00" y="377.30" width="0.89" height="3.62" fill="#000" opacity="0.97"/>
<rect x="598.12" y="377.30" width="0.78" height="3.62" fill="#000" opacity="0.80"/>
<rect x="599.38" y="377.30" width="0.89" height="3.62" fill="#000" opacity="0.93"/>
<rect x="600.24" y="377.30" width="0.97" height="3.62" fill="#000" opacity="0.90"/>
<rect x="600.97" y="377.30" width="0.99" height="3.62" fill="#000" opacity="1.00"/>
<rect x="601.76" y="377.30" width="0.72" height="3.62" fill="#000" opacity="1.00"/>
<rect x="602.55" y="377.30" width="0.73" height="3.62" fill="#000" opacity="1.00"/>
<rect x="603.25" y="377.30" width="0.68" height="3.62" fill="#000" opacity="1.00"/>
<rect x="604.61" y="377.30" width="0.65" height="3.62" fill="#000" opacity="0.88"/>
<rect x="605.57" y="377.30" width="0.64" height="3.62" fill="#000" opacity="0.97"/>
<rect x="606.62" y="377.30" width="0.83" height="3.62" fill="#000" opacity="1.00"/>
<rect x="607.81" y="377.30" width="0.69" height="3.62" fill="#000" opacity="1.00"/>
<rect x="609.11" y="377.30" width="0.63" height="3.62" fill="#000" opacity="0.73"/>
<rect x="613.88" y="377.30" width="0.80" height="3.62" fill="#000" opacity="0.67"/>
<line x1="498.2" y1="381.3" x2="614.0" y2="381.3" stroke="#222" stroke-width="0.6" />
<rect x="498.20" y="381.62" width="0.67" height="3.62" fill="#000" opacity="1.00"/>
<rect x="504.90" y="381.62" width="1.03" height="3.62" fill="#000" opacity="0.64"/>
<rect x="508.97" y="381.62" width="0.76" height="3.62" fill="#000" opacity="0.72"/>
<rect x="510.25" y="381.62" width="0.61" height="3.62" fill="#000" opacity="0.72"/>
<rect x="511.03" y="381.62" width="1.00" height="3.62" fill="#000" opacity="0.98"/>
<rect x="512.17" y="381.62" width="0.97" height="3.62" fill="#000" opacity="1.00"/>
<rect x="513.13" y="381.62" width="0.71" height="3.62" fill="#000" opacity="1.00"/>
<rect x="513.96" y="381.62" width="1.05" height="3.62" fill="#000" opacity="1.00"/>
<rect x="516.07" y="381.62" width="1.00" height="3.62" fill="#000" opacity="0.87"/>
<rect x="518.18" y="381.62" width="0.76" height="3.62" fill="#000" opacity="0.89"/>
<rect x="519.48" y="381.62" width="0.77" height="3.62" fill="#000" opacity="1.00"/>
<rect x="520.26" y="381.62" width="0.81" height="3.62" fill="#000" opacity="1.00"/>
<rect x="521.06" y="381.62" width="1.05" height="3.62" fill="#000" opacity="1.00"/>
<rect x="522.10" y="381.62" width="0.77" height="3.62" fill="#000" opacity="1.00"/>
<rect x="522.98" y="381.62" width="0.72" height="3.62" fill="#000" opacity="0.85"/>
<rect x="524.19" y="381.62" width="0.74" height="3.62" fill="#000" opacity="1.00"/>
<rect x="524.94" y="381.62" width="1.06" height="3.62" fill="#000" opacity="1.00"/>
<rect x="525.78" y="381.62" width="0.73" height="3.62" fill="#000" opacity="1.00"/>
<rect x="527.15" y="381.62" width="0.62" height="3.62" fill="#000" opacity="1.00"/>
<rect x="528.19" y="381.62" width="0.81" height="3.62" fill="#000" opacity="0.81"/>
<rect x="529.43" y="381.62" width="0.94" height="3.62" fill="#000" opacity="0.75"/>
<rect x="534.10" y="381.62" width="0.87" height="3.62" fill="#000" opacity="0.57"/>
<rect x="536.02" y="381.62" width="0.90" height="3.62" fill="#000" opacity="0.97"/>
<rect x="537.19" y="381.62" width="0.89" height="3.62" fill="#000" opacity="1.00"/>
<rect x="537.91" y="381.62" width="0.79" height="3.62" fill="#000" opacity="1.00"/>
<rect x="538.68" y="381.62" width="0.65" height="3.62" fill="#000" opacity="0.92"/>
<rect x="548.63" y="381.62" width="1.08" height="3.62" fill="#000" opacity="0.84"/>
<rect x="549.89" y="381.62" width="0.98" height="3.62" fill="#000" opacity="1.00"/>
<rect x="551.11" y="381.62" width="0.99" height="3.62" fill="#000" opacity="1.00"/>
<rect x="551.97" y="381.62" width="0.79" height="3.62" fill="#000" opacity="1.00"/>
<rect x="553.24" y="381.62" width="0.99" height="3.62" fill="#000" opacity="0.82"/>
<rect x="554.00" y="381.62" width="0.85" height="3.62" fill="#000" opacity="0.70"/>
<rect x="564.49" y="381.62" width="0.61" height="3.62" fill="#000" opacity="1.00"/>
<rect x="565.65" y="381.62" width="0.98" height="3.62" fill="#000" opacity="1.00"/>
<rect x="566.38" y="381.62" width="0.79" height="3.62" fill="#000" opacity="0.89"/>
<rect x="568.71" y="381.62" width="0.71" height="3.62" fill="#000" opacity="0.56"/>
<rect x="570.29" y="381.62" width="0.97" height="3.62" fill="#000" opacity="0.53"/>
<rect x="572.73" y="381.62" width="0.66" height="3.62" fill="#000" opacity="0.68"/>
<rect x="574.79" y="381.62" width="0.77" height="3.62" fill="#000" opacity="0.90"/>
<rect x="576.17" y="381.62" width="1.09" height="3.62" fill="#000" opacity="1.00"/>
<rect x="577.44" y="381.62" width="0.87" height="3.62" fill="#000" opacity="1.00"/>
<rect x="578.65" y="381.62" width="0.74" height="3.62" fill="#000" opacity="0.96"/>
<rect x="579.47" y="381.62" width="0.88" height="3.62" fill="#000" opacity="0.84"/>
<rect x="580.42" y="381.62" width="0.80" height="3.62" fill="#000" opacity="0.64"/>
<rect x="585.65" y="381.62" width="0.86" height="3.62" fill="#000" opacity="0.82"/>
<rect x="586.87" y="381.62" width="0.84" height="3.62" fill="#000" opacity="1.00"/>
<rect x="589.04" y="381.62" width="0.85" height="3.62" fill="#000" opacity="0.59"/>
<rect x="590.27" y="381.62" width="0.90" height="3.62" fill="#000" opacity="0.64"/>
<rect x="591.36" y="381.62" width="0.61" height="3.62" fill="#000" opacity="0.60"/>
<rect x="594.54" y="381.62" width="0.88" height="3.62" fill="#000" opacity="1.00"/>
<rect x="595.83" y="381.62" width="1.05" height="3.62" fill="#000" opacity="1.00"/>
<rect x="596.97" y="381.62" width="0.65" height="3.62" fill="#000" opacity="0.92"/>
<rect x="600.33" y="381.62" width="1.09" height="3.62" fill="#000" opacity="1.00"/>
<rect x="601.54" y="381.62" width="0.92" height="3.62" fill="#000" opacity="1.00"/>
<rect x="602.78" y="381.62" width="1.09" height="3.62" fill="#000" opacity="1.00"/>
<rect x="603.63" y="381.62" width="1.09" height="3.62" fill="#000" opacity="0.94"/>
<rect x="604.40" y="381.62" width="0.81" height="3.62" fill="#000" opacity="0.98"/>
<rect x="605.22" y="381.62" width="0.84" height="3.62" fill="#000" opacity="0.93"/>
<rect x="606.42" y="381.62" width="0.92" height="3.62" fill="#000" opacity="1.00"/>
<rect x="607.49" y="381.62" width="1.08" height="3.62" fill="#000" opacity="1.00"/>
<rect x="608.31" y="381.62" width="0.95" height="3.62" fill="#000" opacity="0.92"/>
<rect x="612.81" y="381.62" width="0.76" height="3.62" fill="#000" opacity="0.65"/>
<line x1="498.2" y1="385.6" x2="614.0" y2="385.6" stroke="#222" stroke-width="0.6" />
<rect x="498.20" y="385.94" width="1.02" height="3.62" fill="#000" opacity="1.00"/>
<rect x="499.50" y="385.94" width="0.86" height="3.62" fill="#000" opacity="0.98"/>
<rect x="503.09" y="385.94" width="1.00" height="3.62" fill="#000" opacity="0.64"/>
<rect x="506.05" y="385.94" width="1.03" height="3.62" fill="#000" opacity="0.57"/>
<rect x="511.23" y="385.94" width="1.05" height="3.62" fill="#000" opacity="1.00"/>
<rect x="512.30" y="385.94" width="0.93" height="3.62" fill="#000" opacity="1.00"/>
<rect x="515.02" y="385.94" width="0.79" height="3.62" fill="#000" opacity="0.97"/>
<rect x="515.91" y="385.94" width="1.05" height="3.62" fill="#000" opacity="0.89"/>
<rect x="516.98" y="385.94" width="1.06" height="3.62" fill="#000" opacity="0.74"/>
<rect x="518.21" y="385.94" width="1.10" height="3.62" fill="#000" opacity="0.99"/>
<rect x="519.10" y="385.94" width="0.79" height="3.62" fill="#000" opacity="1.00"/>
<rect x="519.88" y="385.94" width="0.94" height="3.62" fill="#000" opacity="1.00"/>
<rect x="520.91" y="385.94" width="1.03" height="3.62" fill="#000" opacity="1.00"/>
<rect x="521.72" y="385.94" width="0.75" height="3.62" fill="#000" opacity="1.00"/>
<rect x="522.42" y="385.94" width="1.08" height="3.62" fill="#000" opacity="0.97"/>
<rect x="523.17" y="385.94" width="0.63" height="3.62" fill="#000" opacity="0.87"/>
<rect x="524.31" y="385.94" width="0.69" height="3.62" fill="#000" opacity="1.00"/>
<rect x="525.65" y="385.94" width="1.03" height="3.62" fill="#000" opacity="1.00"/>
<rect x="527.00" y="385.94" width="1.01" height="3.62" fill="#000" opacity="1.00"/>
<rect x="528.08" y="385.94" width="0.85" height="3.62" fill="#000" opacity="0.94"/>
<rect x="528.88" y="385.94" width="1.05" height="3.62" fill="#000" opacity="0.84"/>
<rect x="529.62" y="385.94" width="0.75" height="3.62" fill="#000" opacity="0.72"/>
<rect x="532.12" y="385.94" width="0.70" height="3.62" fill="#000" opacity="0.67"/>
<rect x="534.05" y="385.94" width="0.63" height="3.62" fill="#000" opacity="0.64"/>
<rect x="534.86" y="385.94" width="0.76" height="3.62" fill="#000" opacity="0.83"/>
<rect x="536.25" y="385.94" width="1.03" height="3.62" fill="#000" opacity="1.00"/>
<rect x="537.64" y="385.94" width="0.94" height="3.62" fill="#000" opacity="1.00"/>
<rect x="538.69" y="385.94" width="0.71" height="3.62" fill="#000" opacity="0.90"/>
<rect x="539.65" y="385.94" width="1.00" height="3.62" fill="#000" opacity="0.64"/>
<rect x="540.45" y="385.94" width="0.75" height="3.62" fill="#000" opacity="0.61"/>
<rect x="541.16" y="385.94" width="1.00" height="3.62" fill="#000" opacity="0.56"/>
<rect x="548.97" y="385.94" width="1.00" height="3.62" fill="#000" opacity="0.89"/>
<rect x="550.33" y="385.94" width="0.96" height="3.62" fill="#000" opacity="1.00"/>
<rect x="551.14" y="385.94" width="0.90" height="3.62" fill="#000" opacity="1.00"/>
<rect x="552.07" y="385.94" width="0.89" height="3.62" fill="#000" opacity="1.00"/>
<rect x="554.35" y="385.94" width="0.66" height="3.62" fill="#000" opacity="0.68"/>
<rect x="556.61" y="385.94" width="0.69" height="3.62" fill="#000" opacity="0.62"/>
<rect x="560.48" y="385.94" width="0.68" height="3.62" fill="#000" opacity="0.64"/>
<rect x="563.24" y="385.94" width="0.61" height="3.62" fill="#000" opacity="0.87"/>
<rect x="564.43" y="385.94" width="0.76" height="3.62" fill="#000" opacity="1.00"/>
<rect x="566.76" y="385.94" width="1.01" height="3.62" fill="#000" opacity="0.81"/>
<rect x="573.76" y="385.94" width="0.96" height="3.62" fill="#000" opacity="0.61"/>
<rect x="575.00" y="385.94" width="1.04" height="3.62" fill="#000" opacity="0.93"/>
<rect x="576.03" y="385.94" width="1.06" height="3.62" fill="#000" opacity="1.00"/>
<rect x="576.89" y="385.94" width="0.78" height="3.62" fill="#000" opacity="1.00"/>
<rect x="578.22" y="385.94" width="0.82" height="3.62" fill="#000" opacity="1.00"/>
<rect x="579.24" y="385.94" width="1.07" height="3.62" fill="#000" opacity="0.83"/>
<rect x="580.03" y="385.94" width="1.01" height="3.62" fill="#000" opacity="0.73"/>
<rect x="581.03" y="385.94" width="0.93" height="3.62" fill="#000" opacity="0.66"/>
<rect x="586.29" y="385.94" width="0.60" height="3.62" fill="#000" opacity="1.00"/>
<rect x="587.32" y="385.94" width="0.76" height="3.62" fill="#000" opacity="1.00"/>
<rect x="588.06" y="385.94" width="0.86" height="3.62" fill="#000" opacity="0.88"/>
<rect x="593.04" y="385.94" width="1.01" height="3.62" fill="#000" opacity="1.00"/>
<rect x="594.00" y="385.94" width="0.84" height="3.62" fill="#000" opacity="1.00"/>
<rect x="595.28" y="385.94" width="0.67" height="3.62" fill="#000" opacity="1.00"/>
<rect x="596.51" y="385.94" width="0.99" height="3.62" fill="#000" opacity="1.00"/>
<rect x="597.68" y="385.94" width="0.74" height="3.62" fill="#000" opacity="0.79"/>
<rect x="601.56" y="385.94" width="0.82" height="3.62" fill="#000" opacity="1.00"/>
<rect x="602.77" y="385.94" width="0.92" height="3.62" fill="#000" opacity="1.00"/>
<rect x="603.59" y="385.94" width="1.01" height="3.62" fill="#000" opacity="1.00"/>
<rect x="605.99" y="385.94" width="0.87" height="3.62" fill="#000" opacity="1.00"/>
<rect x="606.78" y="385.94" width="0.90" height="3.62" fill="#000" opacity="1.00"/>
<rect x="607.56" y="385.94" width="0.66" height="3.62" fill="#000" opacity="1.00"/>
<rect x="608.53" y="385.94" width="0.85" height="3.62" fill="#000" opacity="0.84"/>
<line x1="498.2" y1="389.9" x2="614.0" y2="389.9" stroke="#222" stroke-width="0.6" />
<rect x="498.20" y="390.26" width="0.84" height="3.62" fill="#000" opacity="1.00"/>
<rect x="499.17" y="390.26" width="0.70" height="3.62" fill="#000" opacity="1.00"/>
<rect x="500.09" y="390.26" width="0.79" height="3.62" fill="#000" opacity="0.84"/>
<rect x="500.98" y="390.26" width="0.97" height="3.62" fill="#000" opacity="0.76"/>
<rect x="506.50" y="390.26" width="0.74" height="3.62" fill="#000" opacity="0.52"/>
<rect x="507.95" y="390.26" width="0.70" height="3.62" fill="#000" opacity="0.65"/>
<rect x="510.44" y="390.26" width="0.81" height="3.62" fill="#000" opacity="0.89"/>
<rect x="512.61" y="390.26" width="0.96" height="3.62" fill="#000" opacity="1.00"/>
<rect x="513.76" y="390.26" width="0.65" height="3.62" fill="#000" opacity="1.00"/>
<rect x="514.47" y="390.26" width="0.72" height="3.62" fill="#000" opacity="0.97"/>
<rect x="515.51" y="390.26" width="1.03" height="3.62" fill="#000" opacity="0.89"/>
<rect x="517.70" y="390.26" width="1.10" height="3.62" fill="#000" opacity="0.92"/>
<rect x="518.52" y="390.26" width="1.09" height="3.62" fill="#000" opacity="1.00"/>
<rect x="519.24" y="390.26" width="0.78" height="3.62" fill="#000" opacity="1.00"/>
<rect x="520.46" y="390.26" width="1.08" height="3.62" fill="#000" opacity="1.00"/>
<rect x="521.48" y="390.26" width="0.93" height="3.62" fill="#000" opacity="1.00"/>
<rect x="524.20" y="390.26" width="0.95" height="3.62" fill="#000" opacity="0.96"/>
<rect x="525.14" y="390.26" width="0.70" height="3.62" fill="#000" opacity="0.99"/>
<rect x="525.93" y="390.26" width="0.70" height="3.62" fill="#000" opacity="1.00"/>
<rect x="526.83" y="390.26" width="0.89" height="3.62" fill="#000" opacity="1.00"/>
<rect x="527.95" y="390.26" width="0.95" height="3.62" fill="#000" opacity="0.94"/>
<rect x="532.92" y="390.26" width="0.60" height="3.62" fill="#000" opacity="0.67"/>
<rect x="536.75" y="390.26" width="0.76" height="3.62" fill="#000" opacity="1.00"/>
<rect x="537.61" y="390.26" width="0.62" height="3.62" fill="#000" opacity="1.00"/>
<rect x="541.06" y="390.26" width="0.88" height="3.62" fill="#000" opacity="0.55"/>
<rect x="543.30" y="390.26" width="0.74" height="3.62" fill="#000" opacity="0.53"/>
<rect x="550.70" y="390.26" width="0.95" height="3.62" fill="#000" opacity="1.00"/>
<rect x="552.06" y="390.26" width="1.06" height="3.62" fill="#000" opacity="1.00"/>
<rect x="561.65" y="390.26" width="0.74" height="3.62" fill="#000" opacity="0.61"/>
<rect x="564.58" y="390.26" width="0.64" height="3.62" fill="#000" opacity="1.00"/>
<rect x="565.45" y="390.26" width="0.67" height="3.62" fill="#000" opacity="1.00"/>
<rect x="566.45" y="390.26" width="0.75" height="3.62" fill="#000" opacity="0.91"/>
<rect x="575.22" y="390.26" width="0.68" height="3.62" fill="#000" opacity="0.86"/>
<rect x="576.22" y="390.26" width="1.01" height="3.62" fill="#000" opacity="1.00"/>
<rect x="577.31" y="390.26" width="0.63" height="3.62" fill="#000" opacity="1.00"/>
<rect x="581.46" y="390.26" width="0.85" height="3.62" fill="#000" opacity="0.53"/>
<rect x="582.51" y="390.26" width="0.66" height="3.62" fill="#000" opacity="0.55"/>
<rect x="583.34" y="390.26" width="1.05" height="3.62" fill="#000" opacity="0.64"/>
<rect x="584.46" y="390.26" width="1.08" height="3.62" fill="#000" opacity="0.64"/>
<rect x="586.12" y="390.26" width="0.87" height="3.62" fill="#000" opacity="1.00"/>
<rect x="587.44" y="390.26" width="0.85" height="3.62" fill="#000" opacity="1.00"/>
<rect x="588.41" y="390.26" width="0.99" height="3.62" fill="#000" opacity="0.84"/>
<rect x="593.39" y="390.26" width="0.94" height="3.62" fill="#000" opacity="1.00"/>
<rect x="594.69" y="390.26" width="0.70" height="3.62" fill="#000" opacity="1.00"/>
<rect x="595.42" y="390.26" width="1.03" height="3.62" fill="#000" opacity="1.00"/>
<rect x="596.20" y="390.26" width="0.93" height="3.62" fill="#000" opacity="1.00"/>
<rect x="598.04" y="390.26" width="0.62" height="3.62" fill="#000" opacity="0.82"/>
<rect x="599.99" y="390.26" width="0.70" height="3.62" fill="#000" opacity="0.88"/>
<rect x="601.12" y="390.26" width="0.95" height="3.62" fill="#000" opacity="1.00"/>
<rect x="602.46" y="390.26" width="1.05" height="3.62" fill="#000" opacity="1.00"/>
<rect x="603.29" y="390.26" width="0.76" height="3.62" fill="#000" opacity="1.00"/>
<rect x="604.06" y="390.26" width="0.90" height="3.62" fill="#000" opacity="0.90"/>
<rect x="604.88" y="390.26" width="0.76" height="3.62" fill="#000" opacity="0.96"/>
<rect x="605.67" y="390.26" width="0.77" height="3.62" fill="#000" opacity="1.00"/>
<rect x="607.02" y="390.26" width="0.92" height="3.62" fill="#000" opacity="1.00"/>
<rect x="608.31" y="390.26" width="0.98" height="3.62" fill="#000" opacity="1.00"/>
<rect x="610.99" y="390.26" width="0.64" height="3.62" fill="#000" opacity="0.66"/>
<line x1="498.2" y1="394.2" x2="614.0" y2="394.2" stroke="#222" stroke-width="0.6" />
<rect x="498.20" y="394.58" width="0.86" height="3.62" fill="#000" opacity="1.00"/>
<rect x="498.96" y="394.58" width="0.81" height="3.62" fill="#000" opacity="1.00"/>
<rect x="500.81" y="394.58" width="0.66" height="3.62" fill="#000" opacity="0.77"/>
<rect x="510.37" y="394.58" width="0.93" height="3.62" fill="#000" opacity="0.85"/>
<rect x="512.81" y="394.58" width="1.05" height="3.62" fill="#000" opacity="1.00"/>
<rect x="513.55" y="394.58" width="0.80" height="3.62" fill="#000" opacity="1.00"/>
<rect x="514.49" y="394.58" width="0.61" height="3.62" fill="#000" opacity="1.00"/>
<rect x="517.90" y="394.58" width="0.66" height="3.62" fill="#000" opacity="0.96"/>
<rect x="519.15" y="394.58" width="0.92" height="3.62" fill="#000" opacity="1.00"/>
<rect x="520.28" y="394.58" width="0.60" height="3.62" fill="#000" opacity="1.00"/>
<rect x="521.20" y="394.58" width="0.65" height="3.62" fill="#000" opacity="1.00"/>
<rect x="521.99" y="394.58" width="0.84" height="3.62" fill="#000" opacity="1.00"/>
<rect x="525.05" y="394.58" width="0.97" height="3.62" fill="#000" opacity="1.00"/>
<rect x="526.36" y="394.58" width="1.06" height="3.62" fill="#000" opacity="1.00"/>
<rect x="527.17" y="394.58" width="0.94" height="3.62" fill="#000" opacity="1.00"/>
<rect x="528.31" y="394.58" width="0.81" height="3.62" fill="#000" opacity="0.78"/>
<rect x="529.01" y="394.58" width="0.82" height="3.62" fill="#000" opacity="0.74"/>
<rect x="532.65" y="394.58" width="1.07" height="3.62" fill="#000" opacity="0.61"/>
<rect x="535.25" y="394.58" width="1.04" height="3.62" fill="#000" opacity="0.84"/>
<rect x="536.17" y="394.58" width="0.64" height="3.62" fill="#000" opacity="1.00"/>
<rect x="537.51" y="394.58" width="1.05" height="3.62" fill="#000" opacity="1.00"/>
<rect x="540.87" y="394.58" width="1.02" height="3.62" fill="#000" opacity="0.61"/>
<rect x="543.34" y="394.58" width="0.69" height="3.62" fill="#000" opacity="0.64"/>
<rect x="546.14" y="394.58" width="0.84" height="3.62" fill="#000" opacity="0.68"/>
<rect x="548.12" y="394.58" width="0.80" height="3.62" fill="#000" opacity="0.81"/>
<rect x="550.05" y="394.58" width="0.92" height="3.62" fill="#000" opacity="1.00"/>
<rect x="550.92" y="394.58" width="0.67" height="3.62" fill="#000" opacity="0.99"/>
<rect x="552.14" y="394.58" width="0.74" height="3.62" fill="#000" opacity="1.00"/>
<rect x="555.18" y="394.58" width="1.04" height="3.62" fill="#000" opacity="0.69"/>
<rect x="557.41" y="394.58" width="0.62" height="3.62" fill="#000" opacity="0.69"/>
<rect x="561.72" y="394.58" width="0.72" height="3.62" fill="#000" opacity="0.67"/>
<rect x="562.53" y="394.58" width="0.94" height="3.62" fill="#000" opacity="0.68"/>
<rect x="563.64" y="394.58" width="0.74" height="3.62" fill="#000" opacity="0.98"/>
<rect x="564.81" y="394.58" width="0.88" height="3.62" fill="#000" opacity="1.00"/>
<rect x="565.97" y="394.58" width="0.66" height="3.62" fill="#000" opacity="1.00"/>
<rect x="572.60" y="394.58" width="0.81" height="3.62" fill="#000" opacity="0.61"/>
<rect x="573.86" y="394.58" width="0.91" height="3.62" fill="#000" opacity="0.60"/>
<rect x="575.11" y="394.58" width="0.68" height="3.62" fill="#000" opacity="0.93"/>
<rect x="576.41" y="394.58" width="0.79" height="3.62" fill="#000" opacity="1.00"/>
<rect x="577.70" y="394.58" width="0.82" height="3.62" fill="#000" opacity="0.99"/>
<rect x="579.84" y="394.58" width="0.73" height="3.62" fill="#000" opacity="0.79"/>
<rect x="581.13" y="394.58" width="0.86" height="3.62" fill="#000" opacity="0.59"/>
<rect x="583.13" y="394.58" width="0.74" height="3.62" fill="#000" opacity="0.54"/>
<rect x="584.28" y="394.58" width="0.92" height="3.62" fill="#000" opacity="0.71"/>
<rect x="586.49" y="394.58" width="0.92" height="3.62" fill="#000" opacity="1.00"/>
<rect x="587.77" y="394.58" width="1.03" height="3.62" fill="#000" opacity="0.96"/>
<rect x="593.84" y="394.58" width="0.80" height="3.62" fill="#000" opacity="1.00"/>
<rect x="595.09" y="394.58" width="0.99" height="3.62" fill="#000" opacity="1.00"/>
<rect x="596.41" y="394.58" width="0.75" height="3.62" fill="#000" opacity="1.00"/>
<rect x="597.39" y="394.58" width="0.64" height="3.62" fill="#000" opacity="0.83"/>
<rect x="599.19" y="394.58" width="0.77" height="3.62" fill="#000" opacity="0.89"/>
<rect x="600.06" y="394.58" width="1.04" height="3.62" fill="#000" opacity="0.85"/>
<rect x="601.27" y="394.58" width="0.91" height="3.62" fill="#000" opacity="1.00"/>
<rect x="602.63" y="394.58" width="1.01" height="3.62" fill="#000" opacity="1.00"/>
<rect x="603.44" y="394.58" width="0.71" height="3.62" fill="#000" opacity="1.00"/>
<rect x="604.26" y="394.58" width="0.77" height="3.62" fill="#000" opacity="0.90"/>
<rect x="605.52" y="394.58" width="0.94" height="3.62" fill="#000" opacity="0.98"/>
<rect x="606.78" y="394.58" width="0.94" height="3.62" fill="#000" opacity="1.00"/>
<rect x="607.70" y="394.58" width="0.82" height="3.62" fill="#000" opacity="0.99"/>
<rect x="608.40" y="394.58" width="0.69" height="3.62" fill="#000" opacity="0.97"/>
<rect x="612.05" y="394.58" width="0.96" height="3.62" fill="#000" opacity="0.70"/>
<line x1="498.2" y1="398.5" x2="614.0" y2="398.5" stroke="#222" stroke-width="0.6" />
<rect x="498.20" y="398.90" width="0.80" height="3.62" fill="#000" opacity="1.00"/>
<rect x="498.94" y="398.90" width="0.68" height="3.62" fill="#000" opacity="1.00"/>
<rect x="501.23" y="398.90" width="0.89" height="3.62" fill="#000" opacity="0.69"/>
<rect x="504.95" y="398.90" width="1.04" height="3.62" fill="#000" opacity="0.62"/>
<rect x="509.86" y="398.90" width="1.04" height="3.62" fill="#000" opacity="0.66"/>
<rect x="510.65" y="398.90" width="0.67" height="3.62" fill="#000" opacity="0.82"/>
<rect x="511.51" y="398.90" width="1.03" height="3.62" fill="#000" opacity="0.99"/>
<rect x="512.48" y="398.90" width="0.73" height="3.62" fill="#000" opacity="1.00"/>
<rect x="513.58" y="398.90" width="0.62" height="3.62" fill="#000" opacity="1.00"/>
<rect x="514.89" y="398.90" width="0.67" height="3.62" fill="#000" opacity="0.89"/>
<rect x="517.23" y="398.90" width="0.70" height="3.62" fill="#000" opacity="0.91"/>
<rect x="518.51" y="398.90" width="0.95" height="3.62" fill="#000" opacity="0.98"/>
<rect x="519.50" y="398.90" width="0.63" height="3.62" fill="#000" opacity="1.00"/>
<rect x="520.47" y="398.90" width="0.99" height="3.62" fill="#000" opacity="1.00"/>
<rect x="521.48" y="398.90" width="0.97" height="3.62" fill="#000" opacity="1.00"/>
<rect x="523.51" y="398.90" width="0.84" height="3.62" fill="#000" opacity="0.95"/>
<rect x="524.40" y="398.90" width="0.97" height="3.62" fill="#000" opacity="1.00"/>
<rect x="525.38" y="398.90" width="1.02" height="3.62" fill="#000" opacity="1.00"/>
<rect x="526.60" y="398.90" width="0.60" height="3.62" fill="#000" opacity="1.00"/>
<rect x="527.58" y="398.90" width="0.76" height="3.62" fill="#000" opacity="0.91"/>
<rect x="531.03" y="398.90" width="0.95" height="3.62" fill="#000" opacity="0.64"/>
<rect x="533.20" y="398.90" width="1.03" height="3.62" fill="#000" opacity="0.71"/>
<rect x="535.21" y="398.90" width="1.01" height="3.62" fill="#000" opacity="0.89"/>
<rect x="536.12" y="398.90" width="0.62" height="3.62" fill="#000" opacity="1.00"/>
<rect x="536.93" y="398.90" width="0.80" height="3.62" fill="#000" opacity="1.00"/>
<rect x="538.26" y="398.90" width="0.63" height="3.62" fill="#000" opacity="0.93"/>
<rect x="548.74" y="398.90" width="0.71" height="3.62" fill="#000" opacity="0.72"/>
<rect x="549.61" y="398.90" width="0.83" height="3.62" fill="#000" opacity="1.00"/>
<rect x="550.62" y="398.90" width="1.06" height="3.62" fill="#000" opacity="1.00"/>
<rect x="551.87" y="398.90" width="1.03" height="3.62" fill="#000" opacity="1.00"/>
<rect x="552.57" y="398.90" width="0.77" height="3.62" fill="#000" opacity="1.00"/>
<rect x="553.39" y="398.90" width="0.96" height="3.62" fill="#000" opacity="0.75"/>
<rect x="561.43" y="398.90" width="0.88" height="3.62" fill="#000" opacity="0.56"/>
<rect x="563.02" y="398.90" width="0.84" height="3.62" fill="#000" opacity="0.72"/>
<rect x="564.35" y="398.90" width="0.77" height="3.62" fill="#000" opacity="1.00"/>
<rect x="565.25" y="398.90" width="0.94" height="3.62" fill="#000" opacity="1.00"/>
<rect x="566.55" y="398.90" width="1.00" height="3.62" fill="#000" opacity="0.94"/>
<rect x="574.59" y="398.90" width="1.05" height="3.62" fill="#000" opacity="0.74"/>
<rect x="575.78" y="398.90" width="1.05" height="3.62" fill="#000" opacity="0.98"/>
<rect x="577.23" y="398.90" width="0.89" height="3.62" fill="#000" opacity="1.00"/>
<rect x="578.51" y="398.90" width="0.76" height="3.62" fill="#000" opacity="1.00"/>
<rect x="585.14" y="398.90" width="0.72" height="3.62" fill="#000" opacity="0.70"/>
<rect x="587.25" y="398.90" width="0.64" height="3.62" fill="#000" opacity="1.00"/>
<rect x="588.40" y="398.90" width="0.85" height="3.62" fill="#000" opacity="0.78"/>
<rect x="594.36" y="398.90" width="0.78" height="3.62" fill="#000" opacity="1.00"/>
<rect x="595.08" y="398.90" width="0.93" height="3.62" fill="#000" opacity="1.00"/>
<rect x="595.84" y="398.90" width="1.10" height="3.62" fill="#000" opacity="1.00"/>
<rect x="599.59" y="398.90" width="0.62" height="3.62" fill="#000" opacity="0.87"/>
<rect x="600.67" y="398.90" width="0.81" height="3.62" fill="#000" opacity="1.00"/>
<rect x="601.84" y="398.90" width="1.09" height="3.62" fill="#000" opacity="1.00"/>
<rect x="602.70" y="398.90" width="0.94" height="3.62" fill="#000" opacity="1.00"/>
<rect x="604.47" y="398.90" width="0.85" height="3.62" fill="#000" opacity="0.88"/>
<rect x="605.38" y="398.90" width="0.69" height="3.62" fill="#000" opacity="1.00"/>
<rect x="606.20" y="398.90" width="1.03" height="3.62" fill="#000" opacity="1.00"/>
<rect x="607.54" y="398.90" width="0.92" height="3.62" fill="#000" opacity="1.00"/>
<rect x="608.42" y="398.90" width="0.99" height="3.62" fill="#000" opacity="0.89"/>
<rect x="611.43" y="398.90" width="1.03" height="3.62" fill="#000" opacity="0.60"/>
<rect x="612.57" y="398.90" width="1.01" height="3.62" fill="#000" opacity="0.53"/>
<line x1="498.2" y1="402.9" x2="614.0" y2="402.9" stroke="#222" stroke-width="0.6" />
<rect x="498.20" y="403.22" width="0.76" height="3.62" fill="#000" opacity="1.00"/>
<rect x="499.59" y="403.22" width="0.85" height="3.62" fill="#000" opacity="0.92"/>
<rect x="500.35" y="403.22" width="0.93" height="3.62" fill="#000" opacity="0.85"/>
<rect x="502.63" y="403.22" width="1.05" height="3.62" fill="#000" opacity="0.70"/>
<rect x="503.61" y="403.22" width="0.87" height="3.62" fill="#000" opacity="0.65"/>
<rect x="509.48" y="403.22" width="0.73" height="3.62" fill="#000" opacity="0.76"/>
<rect x="510.85" y="403.22" width="0.80" height="3.62" fill="#000" opacity="0.87"/>
<rect x="511.88" y="403.22" width="0.81" height="3.62" fill="#000" opacity="1.00"/>
<rect x="512.61" y="403.22" width="0.71" height="3.62" fill="#000" opacity="1.00"/>
<rect x="513.33" y="403.22" width="0.84" height="3.62" fill="#000" opacity="0.99"/>
<rect x="514.49" y="403.22" width="0.75" height="3.62" fill="#000" opacity="0.99"/>
<rect x="515.50" y="403.22" width="1.03" height="3.62" fill="#000" opacity="0.82"/>
<rect x="518.78" y="403.22" width="0.68" height="3.62" fill="#000" opacity="1.00"/>
<rect x="519.56" y="403.22" width="0.96" height="3.62" fill="#000" opacity="1.00"/>
<rect x="520.95" y="403.22" width="0.74" height="3.62" fill="#000" opacity="1.00"/>
<rect x="522.26" y="403.22" width="1.04" height="3.62" fill="#000" opacity="0.95"/>
<rect x="525.03" y="403.22" width="1.01" height="3.62" fill="#000" opacity="1.00"/>
<rect x="526.37" y="403.22" width="0.98" height="3.62" fill="#000" opacity="1.00"/>
<rect x="527.70" y="403.22" width="0.96" height="3.62" fill="#000" opacity="1.00"/>
<rect x="528.81" y="403.22" width="1.06" height="3.62" fill="#000" opacity="0.68"/>
<rect x="530.43" y="403.22" width="0.87" height="3.62" fill="#000" opacity="0.57"/>
<rect x="532.34" y="403.22" width="0.97" height="3.62" fill="#000" opacity="0.55"/>
<rect x="534.43" y="403.22" width="0.78" height="3.62" fill="#000" opacity="0.70"/>
<rect x="535.64" y="403.22" width="0.64" height="3.62" fill="#000" opacity="1.00"/>
<rect x="536.79" y="403.22" width="0.81" height="3.62" fill="#000" opacity="1.00"/>
<rect x="537.74" y="403.22" width="0.94" height="3.62" fill="#000" opacity="1.00"/>
<rect x="538.69" y="403.22" width="0.65" height="3.62" fill="#000" opacity="0.83"/>
<rect x="542.17" y="403.22" width="0.84" height="3.62" fill="#000" opacity="0.56"/>
<rect x="549.21" y="403.22" width="0.81" height="3.62" fill="#000" opacity="0.97"/>
<rect x="550.53" y="403.22" width="0.96" height="3.62" fill="#000" opacity="1.00"/>
<rect x="551.54" y="403.22" width="0.72" height="3.62" fill="#000" opacity="1.00"/>
<rect x="552.46" y="403.22" width="1.03" height="3.62" fill="#000" opacity="0.91"/>
<rect x="560.76" y="403.22" width="0.70" height="3.62" fill="#000" opacity="0.60"/>
<rect x="563.60" y="403.22" width="0.64" height="3.62" fill="#000" opacity="0.91"/>
<rect x="564.84" y="403.22" width="0.87" height="3.62" fill="#000" opacity="1.00"/>
<rect x="565.73" y="403.22" width="0.84" height="3.62" fill="#000" opacity="1.00"/>
<rect x="566.50" y="403.22" width="1.02" height="3.62" fill="#000" opacity="0.92"/>
<rect x="572.96" y="403.22" width="1.07" height="3.62" fill="#000" opacity="0.61"/>
<rect x="576.20" y="403.22" width="1.08" height="3.62" fill="#000" opacity="1.00"/>
<rect x="577.57" y="403.22" width="0.92" height="3.62" fill="#000" opacity="1.00"/>
<rect x="578.34" y="403.22" width="0.76" height="3.62" fill="#000" opacity="1.00"/>
<rect x="586.02" y="403.22" width="1.05" height="3.62" fill="#000" opacity="1.00"/>
<rect x="587.37" y="403.22" width="0.65" height="3.62" fill="#000" opacity="1.00"/>
<rect x="588.19" y="403.22" width="0.61" height="3.62" fill="#000" opacity="0.87"/>
<rect x="590.20" y="403.22" width="0.91" height="3.62" fill="#000" opacity="0.64"/>
<rect x="591.38" y="403.22" width="0.79" height="3.62" fill="#000" opacity="0.64"/>
<rect x="593.48" y="403.22" width="0.79" height="3.62" fill="#000" opacity="1.00"/>
<rect x="594.25" y="403.22" width="0.96" height="3.62" fill="#000" opacity="1.00"/>
<rect x="595.36" y="403.22" width="0.63" height="3.62" fill="#000" opacity="1.00"/>
<rect x="596.42" y="403.22" width="0.74" height="3.62" fill="#000" opacity="0.97"/>
<rect x="598.54" y="403.22" width="0.93" height="3.62" fill="#000" opacity="0.83"/>
<rect x="599.41" y="403.22" width="0.61" height="3.62" fill="#000" opacity="0.92"/>
<rect x="600.77" y="403.22" width="0.84" height="3.62" fill="#000" opacity="1.00"/>
<rect x="601.80" y="403.22" width="0.95" height="3.62" fill="#000" opacity="1.00"/>
<rect x="602.70" y="403.22" width="0.86" height="3.62" fill="#000" opacity="1.00"/>
<rect x="604.00" y="403.22" width="1.04" height="3.62" fill="#000" opacity="1.00"/>
<rect x="605.13" y="403.22" width="0.81" height="3.62" fill="#000" opacity="1.00"/>
<rect x="606.36" y="403.22" width="0.90" height="3.62" fill="#000" opacity="1.00"/>
<rect x="607.70" y="403.22" width="0.71" height="3.62" fill="#000" opacity="1.00"/>
<rect x="608.76" y="403.22" width="1.00" height="3.62" fill="#000" opacity="0.79"/>
<rect x="609.88" y="403.22" width="1.04" height="3.62" fill="#000" opacity="0.71"/>
<line x1="498.2" y1="407.2" x2="614.0" y2="407.2" stroke="#222" stroke-width="0.6" />
<rect x="498.20" y="407.54" width="0.69" height="3.62" fill="#000" opacity="1.00"/>
<rect x="499.24" y="407.54" width="0.71" height="3.62" fill="#000" opacity="0.98"/>
<rect x="502.24" y="407.54" width="0.84" height="3.62" fill="#000" opacity="0.59"/>
<rect x="503.61" y="407.54" width="0.90" height="3.62" fill="#000" opacity="0.69"/>
<rect x="509.20" y="407.54" width="0.81" height="3.62" fill="#000" opacity="0.76"/>
<rect x="511.15" y="407.54" width="0.79" height="3.62" fill="#000" opacity="0.99"/>
<rect x="512.47" y="407.54" width="0.79" height="3.62" fill="#000" opacity="1.00"/>
<rect x="513.62" y="407.54" width="0.68" height="3.62" fill="#000" opacity="1.00"/>
<rect x="514.80" y="407.54" width="0.69" height="3.62" fill="#000" opacity="0.99"/>
<rect x="516.00" y="407.54" width="0.71" height="3.62" fill="#000" opacity="0.89"/>
<rect x="518.36" y="407.54" width="0.78" height="3.62" fill="#000" opacity="0.99"/>
<rect x="519.58" y="407.54" width="0.95" height="3.62" fill="#000" opacity="1.00"/>
<rect x="520.38" y="407.54" width="1.08" height="3.62" fill="#000" opacity="1.00"/>
<rect x="521.36" y="407.54" width="0.68" height="3.62" fill="#000" opacity="1.00"/>
<rect x="522.13" y="407.54" width="0.95" height="3.62" fill="#000" opacity="1.00"/>
<rect x="524.85" y="407.54" width="0.98" height="3.62" fill="#000" opacity="1.00"/>
<rect x="525.83" y="407.54" width="0.98" height="3.62" fill="#000" opacity="1.00"/>
<rect x="526.63" y="407.54" width="0.98" height="3.62" fill="#000" opacity="1.00"/>
<rect x="527.50" y="407.54" width="0.84" height="3.62" fill="#000" opacity="0.95"/>
<rect x="528.20" y="407.54" width="0.71" height="3.62" fill="#000" opacity="0.79"/>
<rect x="529.25" y="407.54" width="0.74" height="3.62" fill="#000" opacity="0.75"/>
<rect x="533.14" y="407.54" width="0.60" height="3.62" fill="#000" opacity="0.64"/>
<rect x="534.27" y="407.54" width="0.65" height="3.62" fill="#000" opacity="0.70"/>
<rect x="535.40" y="407.54" width="0.86" height="3.62" fill="#000" opacity="0.78"/>
<rect x="536.18" y="407.54" width="0.69" height="3.62" fill="#000" opacity="1.00"/>
<rect x="537.16" y="407.54" width="0.95" height="3.62" fill="#000" opacity="1.00"/>
<rect x="539.45" y="407.54" width="0.83" height="3.62" fill="#000" opacity="0.79"/>
<rect x="540.35" y="407.54" width="0.90" height="3.62" fill="#000" opacity="0.67"/>
<rect x="549.75" y="407.54" width="0.91" height="3.62" fill="#000" opacity="1.00"/>
<rect x="550.67" y="407.54" width="0.87" height="3.62" fill="#000" opacity="1.00"/>
<rect x="551.54" y="407.54" width="0.65" height="3.62" fill="#000" opacity="1.00"/>
<rect x="552.33" y="407.54" width="1.03" height="3.62" fill="#000" opacity="1.00"/>
<rect x="553.34" y="407.54" width="0.75" height="3.62" fill="#000" opacity="0.90"/>
<rect x="554.53" y="407.54" width="0.84" height="3.62" fill="#000" opacity="0.64"/>
<rect x="555.59" y="407.54" width="1.08" height="3.62" fill="#000" opacity="0.69"/>
<rect x="564.04" y="407.54" width="0.65" height="3.62" fill="#000" opacity="0.99"/>
<rect x="565.13" y="407.54" width="0.85" height="3.62" fill="#000" opacity="1.00"/>
<rect x="566.43" y="407.54" width="0.88" height="3.62" fill="#000" opacity="0.97"/>
<rect x="568.45" y="407.54" width="0.68" height="3.62" fill="#000" opacity="0.58"/>
<rect x="572.70" y="407.54" width="0.71" height="3.62" fill="#000" opacity="0.69"/>
<rect x="574.09" y="407.54" width="0.62" height="3.62" fill="#000" opacity="0.67"/>
<rect x="575.20" y="407.54" width="0.97" height="3.62" fill="#000" opacity="0.82"/>
<rect x="575.93" y="407.54" width="0.62" height="3.62" fill="#000" opacity="1.00"/>
<rect x="577.24" y="407.54" width="0.91" height="3.62" fill="#000" opacity="1.00"/>
<rect x="578.06" y="407.54" width="0.77" height="3.62" fill="#000" opacity="1.00"/>
<rect x="578.77" y="407.54" width="0.93" height="3.62" fill="#000" opacity="0.89"/>
<rect x="584.42" y="407.54" width="1.01" height="3.62" fill="#000" opacity="0.73"/>
<rect x="586.85" y="407.54" width="0.96" height="3.62" fill="#000" opacity="1.00"/>
<rect x="587.58" y="407.54" width="0.76" height="3.62" fill="#000" opacity="1.00"/>
<rect x="590.10" y="407.54" width="0.86" height="3.62" fill="#000" opacity="0.61"/>
<rect x="592.45" y="407.54" width="0.86" height="3.62" fill="#000" opacity="0.74"/>
<rect x="593.56" y="407.54" width="1.10" height="3.62" fill="#000" opacity="0.99"/>
<rect x="594.38" y="407.54" width="0.68" height="3.62" fill="#000" opacity="1.00"/>
<rect x="595.25" y="407.54" width="0.70" height="3.62" fill="#000" opacity="1.00"/>
<rect x="596.47" y="407.54" width="0.77" height="3.62" fill="#000" opacity="1.00"/>
<rect x="597.19" y="407.54" width="0.88" height="3.62" fill="#000" opacity="0.97"/>
<rect x="598.54" y="407.54" width="0.81" height="3.62" fill="#000" opacity="0.75"/>
<rect x="600.93" y="407.54" width="0.76" height="3.62" fill="#000" opacity="1.00"/>
<rect x="601.95" y="407.54" width="1.05" height="3.62" fill="#000" opacity="1.00"/>
<rect x="603.16" y="407.54" width="0.89" height="3.62" fill="#000" opacity="1.00"/>
<rect x="604.09" y="407.54" width="1.01" height="3.62" fill="#000" opacity="0.91"/>
<rect x="605.44" y="407.54" width="1.07" height="3.62" fill="#000" opacity="1.00"/>
<rect x="606.49" y="407.54" width="0.82" height="3.62" fill="#000" opacity="1.00"/>
<rect x="607.44" y="407.54" width="1.03" height="3.62" fill="#000" opacity="1.00"/>
<rect x="608.36" y="407.54" width="1.02" height="3.62" fill="#000" opacity="0.97"/>
<line x1="498.2" y1="411.5" x2="614.0" y2="411.5" stroke="#222" stroke-width="0.6" />
<rect x="498.20" y="411.86" width="1.09" height="3.62" fill="#000" opacity="1.00"/>
<rect x="499.26" y="411.86" width="0.61" height="3.62" fill="#000" opacity="1.00"/>
<rect x="501.35" y="411.86" width="0.76" height="3.62" fill="#000" opacity="0.58"/>
<rect x="503.44" y="411.86" width="0.63" height="3.62" fill="#000" opacity="0.53"/>
<rect x="504.42" y="411.86" width="0.70" height="3.62" fill="#000" opacity="0.57"/>
<rect x="507.40" y="411.86" width="0.66" height="3.62" fill="#000" opacity="0.71"/>
<rect x="509.57" y="411.86" width="0.77" height="3.62" fill="#000" opacity="0.69"/>
<rect x="510.68" y="411.86" width="0.82" height="3.62" fill="#000" opacity="0.91"/>
<rect x="511.98" y="411.86" width="1.01" height="3.62" fill="#000" opacity="1.00"/>
<rect x="513.15" y="411.86" width="0.63" height="3.62" fill="#000" opacity="1.00"/>
<rect x="514.02" y="411.86" width="1.05" height="3.62" fill="#000" opacity="1.00"/>
<rect x="515.36" y="411.86" width="0.75" height="3.62" fill="#000" opacity="0.97"/>
<rect x="518.74" y="411.86" width="0.75" height="3.62" fill="#000" opacity="0.97"/>
<rect x="519.69" y="411.86" width="0.91" height="3.62" fill="#000" opacity="1.00"/>
<rect x="520.86" y="411.86" width="0.76" height="3.62" fill="#000" opacity="1.00"/>
<rect x="521.86" y="411.86" width="1.01" height="3.62" fill="#000" opacity="0.92"/>
<rect x="522.74" y="411.86" width="0.75" height="3.62" fill="#000" opacity="0.80"/>
<rect x="523.91" y="411.86" width="0.93" height="3.62" fill="#000" opacity="1.00"/>
<rect x="526.10" y="411.86" width="0.99" height="3.62" fill="#000" opacity="1.00"/>
<rect x="528.14" y="411.86" width="0.70" height="3.62" fill="#000" opacity="0.83"/>
<rect x="531.02" y="411.86" width="0.69" height="3.62" fill="#000" opacity="0.72"/>
<rect x="533.00" y="411.86" width="0.86" height="3.62" fill="#000" opacity="0.65"/>
<rect x="535.27" y="411.86" width="0.97" height="3.62" fill="#000" opacity="0.88"/>
<rect x="536.05" y="411.86" width="1.00" height="3.62" fill="#000" opacity="1.00"/>
<rect x="536.77" y="411.86" width="0.83" height="3.62" fill="#000" opacity="1.00"/>
<rect x="537.83" y="411.86" width="0.67" height="3.62" fill="#000" opacity="1.00"/>
<rect x="538.57" y="411.86" width="0.92" height="3.62" fill="#000" opacity="0.79"/>
<rect x="540.32" y="411.86" width="0.64" height="3.62" fill="#000" opacity="0.60"/>
<rect x="541.36" y="411.86" width="0.68" height="3.62" fill="#000" opacity="0.61"/>
<rect x="548.09" y="411.86" width="0.86" height="3.62" fill="#000" opacity="0.70"/>
<rect x="548.80" y="411.86" width="0.75" height="3.62" fill="#000" opacity="0.77"/>
<rect x="550.06" y="411.86" width="0.84" height="3.62" fill="#000" opacity="1.00"/>
<rect x="551.35" y="411.86" width="0.67" height="3.62" fill="#000" opacity="1.00"/>
<rect x="552.25" y="411.86" width="0.79" height="3.62" fill="#000" opacity="1.00"/>
<rect x="553.03" y="411.86" width="1.00" height="3.62" fill="#000" opacity="0.80"/>
<rect x="563.52" y="411.86" width="0.76" height="3.62" fill="#000" opacity="0.93"/>
<rect x="564.72" y="411.86" width="0.74" height="3.62" fill="#000" opacity="1.00"/>
<rect x="565.64" y="411.86" width="0.63" height="3.62" fill="#000" opacity="1.00"/>
<rect x="566.65" y="411.86" width="1.02" height="3.62" fill="#000" opacity="0.92"/>
<rect x="573.49" y="411.86" width="0.63" height="3.62" fill="#000" opacity="0.75"/>
<rect x="574.75" y="411.86" width="0.79" height="3.62" fill="#000" opacity="0.83"/>
<rect x="576.01" y="411.86" width="0.90" height="3.62" fill="#000" opacity="1.00"/>
<rect x="576.95" y="411.86" width="1.05" height="3.62" fill="#000" opacity="1.00"/>
<rect x="578.16" y="411.86" width="0.93" height="3.62" fill="#000" opacity="1.00"/>
<rect x="579.43" y="411.86" width="1.07" height="3.62" fill="#000" opacity="0.69"/>
<rect x="580.47" y="411.86" width="0.70" height="3.62" fill="#000" opacity="0.60"/>
<rect x="581.51" y="411.86" width="1.08" height="3.62" fill="#000" opacity="0.56"/>
<rect x="587.91" y="411.86" width="0.93" height="3.62" fill="#000" opacity="1.00"/>
<rect x="591.27" y="411.86" width="1.08" height="3.62" fill="#000" opacity="0.76"/>
<rect x="593.83" y="411.86" width="0.83" height="3.62" fill="#000" opacity="1.00"/>
<rect x="595.09" y="411.86" width="0.60" height="3.62" fill="#000" opacity="1.00"/>
<rect x="596.14" y="411.86" width="0.88" height="3.62" fill="#000" opacity="1.00"/>
<rect x="600.37" y="411.86" width="0.62" height="3.62" fill="#000" opacity="1.00"/>
<rect x="601.47" y="411.86" width="0.70" height="3.62" fill="#000" opacity="1.00"/>
<rect x="602.42" y="411.86" width="0.96" height="3.62" fill="#000" opacity="1.00"/>
<rect x="603.16" y="411.86" width="1.07" height="3.62" fill="#000" opacity="1.00"/>
<rect x="605.85" y="411.86" width="1.05" height="3.62" fill="#000" opacity="1.00"/>
<rect x="607.12" y="411.86" width="0.62" height="3.62" fill="#000" opacity="1.00"/>
<rect x="608.16" y="411.86" width="0.78" height="3.62" fill="#000" opacity="1.00"/>
<rect x="608.97" y="411.86" width="0.97" height="3.62" fill="#000" opacity="0.92"/>
<rect x="610.11" y="411.86" width="0.76" height="3.62" fill="#000" opacity="0.70"/>
<line x1="498.2" y1="415.8" x2="614.0" y2="415.8" stroke="#222" stroke-width="0.6" />
<rect x="498.20" y="416.18" width="0.94" height="3.62" fill="#000" opacity="1.00"/>
<rect x="499.08" y="416.18" width="0.83" height="3.62" fill="#000" opacity="1.00"/>
<rect x="501.31" y="416.18" width="1.09" height="3.62" fill="#000" opacity="0.71"/>
<rect x="508.00" y="416.18" width="0.76" height="3.62" fill="#000" opacity="0.52"/>
<rect x="512.36" y="416.18" width="0.61" height="3.62" fill="#000" opacity="1.00"/>
<rect x="513.74" y="416.18" width="0.77" height="3.62" fill="#000" opacity="1.00"/>
<rect x="514.50" y="416.18" width="1.02" height="3.62" fill="#000" opacity="0.97"/>
<rect x="515.45" y="416.18" width="1.04" height="3.62" fill="#000" opacity="0.81"/>
<rect x="518.28" y="416.18" width="1.08" height="3.62" fill="#000" opacity="1.00"/>
<rect x="519.09" y="416.18" width="1.01" height="3.62" fill="#000" opacity="1.00"/>
<rect x="519.95" y="416.18" width="0.88" height="3.62" fill="#000" opacity="1.00"/>
<rect x="521.06" y="416.18" width="0.70" height="3.62" fill="#000" opacity="1.00"/>
<rect x="521.90" y="416.18" width="0.61" height="3.62" fill="#000" opacity="0.89"/>
<rect x="522.72" y="416.18" width="0.67" height="3.62" fill="#000" opacity="0.92"/>
<rect x="524.55" y="416.18" width="1.08" height="3.62" fill="#000" opacity="1.00"/>
<rect x="525.42" y="416.18" width="0.63" height="3.62" fill="#000" opacity="1.00"/>
<rect x="526.20" y="416.18" width="1.02" height="3.62" fill="#000" opacity="1.00"/>
<rect x="527.25" y="416.18" width="0.62" height="3.62" fill="#000" opacity="1.00"/>
<rect x="528.00" y="416.18" width="0.91" height="3.62" fill="#000" opacity="1.00"/>
<rect x="530.10" y="416.18" width="1.07" height="3.62" fill="#000" opacity="0.67"/>
<rect x="536.34" y="416.18" width="0.86" height="3.62" fill="#000" opacity="1.00"/>
<rect x="537.13" y="416.18" width="1.08" height="3.62" fill="#000" opacity="1.00"/>
<rect x="537.86" y="416.18" width="1.00" height="3.62" fill="#000" opacity="1.00"/>
<rect x="540.31" y="416.18" width="0.78" height="3.62" fill="#000" opacity="0.54"/>
<rect x="541.57" y="416.18" width="0.85" height="3.62" fill="#000" opacity="0.63"/>
<rect x="548.32" y="416.18" width="0.69" height="3.62" fill="#000" opacity="0.74"/>
<rect x="549.59" y="416.18" width="0.97" height="3.62" fill="#000" opacity="1.00"/>
<rect x="550.90" y="416.18" width="1.04" height="3.62" fill="#000" opacity="1.00"/>
<rect x="552.25" y="416.18" width="0.67" height="3.62" fill="#000" opacity="0.98"/>
<rect x="552.95" y="416.18" width="0.89" height="3.62" fill="#000" opacity="0.82"/>
<rect x="555.16" y="416.18" width="0.81" height="3.62" fill="#000" opacity="0.66"/>
<rect x="557.22" y="416.18" width="0.83" height="3.62" fill="#000" opacity="0.59"/>
<rect x="558.16" y="416.18" width="1.06" height="3.62" fill="#000" opacity="0.55"/>
<rect x="558.93" y="416.18" width="0.85" height="3.62" fill="#000" opacity="0.66"/>
<rect x="562.23" y="416.18" width="1.08" height="3.62" fill="#000" opacity="0.63"/>
<rect x="563.57" y="416.18" width="0.68" height="3.62" fill="#000" opacity="0.92"/>
<rect x="564.51" y="416.18" width="0.97" height="3.62" fill="#000" opacity="1.00"/>
<rect x="565.48" y="416.18" width="1.05" height="3.62" fill="#000" opacity="1.00"/>
<rect x="566.38" y="416.18" width="1.01" height="3.62" fill="#000" opacity="0.91"/>
<rect x="575.62" y="416.18" width="0.70" height="3.62" fill="#000" opacity="1.00"/>
<rect x="576.82" y="416.18" width="0.72" height="3.62" fill="#000" opacity="1.00"/>
<rect x="577.52" y="416.18" width="0.65" height="3.62" fill="#000" opacity="1.00"/>
<rect x="578.67" y="416.18" width="0.78" height="3.62" fill="#000" opacity="1.00"/>
<rect x="586.39" y="416.18" width="1.09" height="3.62" fill="#000" opacity="1.00"/>
<rect x="593.74" y="416.18" width="1.00" height="3.62" fill="#000" opacity="1.00"/>
<rect x="594.68" y="416.18" width="0.71" height="3.62" fill="#000" opacity="1.00"/>
<rect x="595.77" y="416.18" width="0.79" height="3.62" fill="#000" opacity="1.00"/>
<rect x="597.11" y="416.18" width="1.09" height="3.62" fill="#000" opacity="0.92"/>
<rect x="598.18" y="416.18" width="1.04" height="3.62" fill="#000" opacity="0.87"/>
<rect x="600.26" y="416.18" width="0.72" height="3.62" fill="#000" opacity="1.00"/>
<rect x="601.01" y="416.18" width="0.70" height="3.62" fill="#000" opacity="1.00"/>
<rect x="602.10" y="416.18" width="0.90" height="3.62" fill="#000" opacity="1.00"/>
<rect x="602.81" y="416.18" width="1.08" height="3.62" fill="#000" opacity="1.00"/>
<rect x="604.62" y="416.18" width="0.76" height="3.62" fill="#000" opacity="0.88"/>
<rect x="605.83" y="416.18" width="0.62" height="3.62" fill="#000" opacity="1.00"/>
<rect x="606.98" y="416.18" width="0.82" height="3.62" fill="#000" opacity="1.00"/>
<rect x="608.21" y="416.18" width="0.98" height="3.62" fill="#000" opacity="1.00"/>
<line x1="498.2" y1="420.1" x2="614.0" y2="420.1" stroke="#222" stroke-width="0.6" />
<rect x="498.20" y="420.50" width="0.87" height="3.62" fill="#000" opacity="1.00"/>
<rect x="499.55" y="420.50" width="0.67" height="3.62" fill="#000" opacity="0.99"/>
<rect x="507.09" y="420.50" width="0.77" height="3.62" fill="#000" opacity="0.52"/>
<rect x="509.95" y="420.50" width="0.87" height="3.62" fill="#000" opacity="0.74"/>
<rect x="511.21" y="420.50" width="0.90" height="3.62" fill="#000" opacity="1.00"/>
<rect x="512.00" y="420.50" width="1.06" height="3.62" fill="#000" opacity="1.00"/>
<rect x="512.93" y="420.50" width="0.70" height="3.62" fill="#000" opacity="1.00"/>
<rect x="513.95" y="420.50" width="0.78" height="3.62" fill="#000" opacity="1.00"/>
<rect x="516.06" y="420.50" width="0.64" height="3.62" fill="#000" opacity="0.74"/>
<rect x="519.17" y="420.50" width="0.87" height="3.62" fill="#000" opacity="1.00"/>
<rect x="520.21" y="420.50" width="0.86" height="3.62" fill="#000" opacity="1.00"/>
<rect x="521.07" y="420.50" width="0.95" height="3.62" fill="#000" opacity="1.00"/>
<rect x="523.38" y="420.50" width="0.78" height="3.62" fill="#000" opacity="0.83"/>
<rect x="524.27" y="420.50" width="0.67" height="3.62" fill="#000" opacity="0.98"/>
<rect x="525.50" y="420.50" width="0.71" height="3.62" fill="#000" opacity="0.99"/>
<rect x="526.54" y="420.50" width="1.01" height="3.62" fill="#000" opacity="1.00"/>
<rect x="527.44" y="420.50" width="1.05" height="3.62" fill="#000" opacity="0.98"/>
<rect x="528.16" y="420.50" width="0.99" height="3.62" fill="#000" opacity="0.83"/>
<rect x="530.35" y="420.50" width="0.93" height="3.62" fill="#000" opacity="0.61"/>
<rect x="531.68" y="420.50" width="0.95" height="3.62" fill="#000" opacity="0.69"/>
<rect x="534.43" y="420.50" width="0.65" height="3.62" fill="#000" opacity="0.73"/>
<rect x="536.52" y="420.50" width="0.67" height="3.62" fill="#000" opacity="1.00"/>
<rect x="537.50" y="420.50" width="0.89" height="3.62" fill="#000" opacity="1.00"/>
<rect x="538.76" y="420.50" width="0.68" height="3.62" fill="#000" opacity="0.91"/>
<rect x="543.13" y="420.50" width="0.88" height="3.62" fill="#000" opacity="0.63"/>
<rect x="546.97" y="420.50" width="0.63" height="3.62" fill="#000" opacity="0.68"/>
<rect x="550.01" y="420.50" width="0.65" height="3.62" fill="#000" opacity="0.99"/>
<rect x="550.77" y="420.50" width="0.72" height="3.62" fill="#000" opacity="1.00"/>
<rect x="551.55" y="420.50" width="1.01" height="3.62" fill="#000" opacity="1.00"/>
<rect x="552.77" y="420.50" width="0.60" height="3.62" fill="#000" opacity="0.87"/>
<rect x="559.16" y="420.50" width="0.97" height="3.62" fill="#000" opacity="0.57"/>
<rect x="564.85" y="420.50" width="0.87" height="3.62" fill="#000" opacity="1.00"/>
<rect x="565.95" y="420.50" width="1.00" height="3.62" fill="#000" opacity="1.00"/>
<rect x="571.14" y="420.50" width="1.07" height="3.62" fill="#000" opacity="0.69"/>
<rect x="572.23" y="420.50" width="0.76" height="3.62" fill="#000" opacity="0.54"/>
<rect x="573.01" y="420.50" width="0.65" height="3.62" fill="#000" opacity="0.64"/>
<rect x="575.23" y="420.50" width="0.69" height="3.62" fill="#000" opacity="1.00"/>
<rect x="576.09" y="420.50" width="0.85" height="3.62" fill="#000" opacity="1.00"/>
<rect x="577.08" y="420.50" width="0.63" height="3.62" fill="#000" opacity="0.99"/>
<rect x="578.23" y="420.50" width="1.07" height="3.62" fill="#000" opacity="0.98"/>
<rect x="580.73" y="420.50" width="0.67" height="3.62" fill="#000" opacity="0.63"/>
<rect x="581.77" y="420.50" width="1.00" height="3.62" fill="#000" opacity="0.67"/>
<rect x="583.68" y="420.50" width="0.97" height="3.62" fill="#000" opacity="0.63"/>
<rect x="586.59" y="420.50" width="0.75" height="3.62" fill="#000" opacity="1.00"/>
<rect x="587.77" y="420.50" width="0.60" height="3.62" fill="#000" opacity="1.00"/>
<rect x="590.01" y="420.50" width="0.80" height="3.62" fill="#000" opacity="0.67"/>
<rect x="594.22" y="420.50" width="0.97" height="3.62" fill="#000" opacity="1.00"/>
<rect x="595.19" y="420.50" width="0.89" height="3.62" fill="#000" opacity="1.00"/>
<rect x="597.53" y="420.50" width="0.63" height="3.62" fill="#000" opacity="0.76"/>
<rect x="600.46" y="420.50" width="1.02" height="3.62" fill="#000" opacity="1.00"/>
<rect x="601.35" y="420.50" width="0.73" height="3.62" fill="#000" opacity="1.00"/>
<rect x="602.23" y="420.50" width="0.74" height="3.62" fill="#000" opacity="1.00"/>
<rect x="603.58" y="420.50" width="0.88" height="3.62" fill="#000" opacity="1.00"/>
<rect x="604.45" y="420.50" width="0.65" height="3.62" fill="#000" opacity="1.00"/>
<rect x="605.64" y="420.50" width="0.71" height="3.62" fill="#000" opacity="1.00"/>
<rect x="606.97" y="420.50" width="1.01" height="3.62" fill="#000" opacity="1.00"/>
<rect x="607.85" y="420.50" width="0.91" height="3.62" fill="#000" opacity="1.00"/>
<rect x="612.43" y="420.50" width="1.07" height="3.62" fill="#000" opacity="0.67"/>
<rect x="613.72" y="420.50" width="0.69" height="3.62" fill="#000" opacity="0.66"/>
<line x1="498.2" y1="424.5" x2="614.0" y2="424.5" stroke="#222" stroke-width="0.6" />
<rect x="499.34" y="424.82" width="0.87" height="3.62" fill="#000" opacity="1.00"/>
<rect x="501.81" y="424.82" width="0.81" height="3.62" fill="#000" opacity="0.63"/>
<rect x="503.68" y="424.82" width="1.01" height="3.62" fill="#000" opacity="0.67"/>
<rect x="505.85" y="424.82" width="0.72" height="3.62" fill="#000" opacity="0.56"/>
<rect x="508.08" y="424.82" width="0.72" height="3.62" fill="#000" opacity="0.56"/>
<rect x="511.43" y="424.82" width="0.62" height="3.62" fill="#000" opacity="1.00"/>
<rect x="512.57" y="424.82" width="0.94" height="3.62" fill="#000" opacity="0.99"/>
<rect x="513.43" y="424.82" width="0.71" height="3.62" fill="#000" opacity="1.00"/>
<rect x="514.82" y="424.82" width="1.03" height="3.62" fill="#000" opacity="0.86"/>
<rect x="516.81" y="424.82" width="0.67" height="3.62" fill="#000" opacity="0.73"/>
<rect x="517.62" y="424.82" width="0.78" height="3.62" fill="#000" opacity="0.84"/>
<rect x="518.57" y="424.82" width="0.74" height="3.62" fill="#000" opacity="1.00"/>
<rect x="519.69" y="424.82" width="1.02" height="3.62" fill="#000" opacity="1.00"/>
<rect x="520.39" y="424.82" width="0.65" height="3.62" fill="#000" opacity="1.00"/>
<rect x="521.14" y="424.82" width="0.61" height="3.62" fill="#000" opacity="1.00"/>
<rect x="521.98" y="424.82" width="1.02" height="3.62" fill="#000" opacity="0.91"/>
<rect x="523.07" y="424.82" width="0.66" height="3.62" fill="#000" opacity="0.98"/>
<rect x="524.25" y="424.82" width="0.71" height="3.62" fill="#000" opacity="0.99"/>
<rect x="525.48" y="424.82" width="0.68" height="3.62" fill="#000" opacity="1.00"/>
<rect x="526.63" y="424.82" width="1.03" height="3.62" fill="#000" opacity="1.00"/>
<rect x="527.87" y="424.82" width="1.01" height="3.62" fill="#000" opacity="0.99"/>
<rect x="533.56" y="424.82" width="0.74" height="3.62" fill="#000" opacity="0.71"/>
<rect x="534.64" y="424.82" width="0.66" height="3.62" fill="#000" opacity="0.64"/>
<rect x="535.53" y="424.82" width="0.64" height="3.62" fill="#000" opacity="0.99"/>
<rect x="536.46" y="424.82" width="0.73" height="3.62" fill="#000" opacity="1.00"/>
<rect x="537.67" y="424.82" width="0.68" height="3.62" fill="#000" opacity="1.00"/>
<rect x="539.00" y="424.82" width="1.00" height="3.62" fill="#000" opacity="0.76"/>
<rect x="541.07" y="424.82" width="1.05" height="3.62" fill="#000" opacity="0.55"/>
<rect x="542.24" y="424.82" width="0.76" height="3.62" fill="#000" opacity="0.70"/>
<rect x="543.17" y="424.82" width="0.63" height="3.62" fill="#000" opacity="0.57"/>
<rect x="547.38" y="424.82" width="0.86" height="3.62" fill="#000" opacity="0.61"/>
<rect x="550.64" y="424.82" width="0.73" height="3.62" fill="#000" opacity="1.00"/>
<rect x="552.80" y="424.82" width="0.72" height="3.62" fill="#000" opacity="0.91"/>
<rect x="554.13" y="424.82" width="0.86" height="3.62" fill="#000" opacity="0.59"/>
<rect x="555.48" y="424.82" width="0.70" height="3.62" fill="#000" opacity="0.66"/>
<rect x="560.18" y="424.82" width="0.91" height="3.62" fill="#000" opacity="0.53"/>
<rect x="564.15" y="424.82" width="0.89" height="3.62" fill="#000" opacity="1.00"/>
<rect x="565.16" y="424.82" width="0.85" height="3.62" fill="#000" opacity="1.00"/>
<rect x="566.08" y="424.82" width="0.98" height="3.62" fill="#000" opacity="0.93"/>
<rect x="572.99" y="424.82" width="0.68" height="3.62" fill="#000" opacity="0.60"/>
<rect x="573.97" y="424.82" width="1.01" height="3.62" fill="#000" opacity="0.80"/>
<rect x="574.93" y="424.82" width="1.07" height="3.62" fill="#000" opacity="0.78"/>
<rect x="575.90" y="424.82" width="0.94" height="3.62" fill="#000" opacity="1.00"/>
<rect x="577.27" y="424.82" width="0.72" height="3.62" fill="#000" opacity="1.00"/>
<rect x="581.42" y="424.82" width="0.84" height="3.62" fill="#000" opacity="0.70"/>
<rect x="586.24" y="424.82" width="0.61" height="3.62" fill="#000" opacity="1.00"/>
<rect x="587.47" y="424.82" width="0.87" height="3.62" fill="#000" opacity="1.00"/>
<rect x="589.59" y="424.82" width="0.75" height="3.62" fill="#000" opacity="0.60"/>
<rect x="591.17" y="424.82" width="0.84" height="3.62" fill="#000" opacity="0.76"/>
<rect x="591.98" y="424.82" width="0.68" height="3.62" fill="#000" opacity="0.65"/>
<rect x="594.79" y="424.82" width="0.91" height="3.62" fill="#000" opacity="1.00"/>
<rect x="597.50" y="424.82" width="0.89" height="3.62" fill="#000" opacity="0.84"/>
<rect x="598.33" y="424.82" width="1.09" height="3.62" fill="#000" opacity="0.72"/>
<rect x="599.56" y="424.82" width="0.74" height="3.62" fill="#000" opacity="0.80"/>
<rect x="600.50" y="424.82" width="1.04" height="3.62" fill="#000" opacity="0.97"/>
<rect x="601.48" y="424.82" width="0.65" height="3.62" fill="#000" opacity="1.00"/>
<rect x="602.22" y="424.82" width="0.72" height="3.62" fill="#000" opacity="1.00"/>
<rect x="603.49" y="424.82" width="0.65" height="3.62" fill="#000" opacity="1.00"/>
<rect x="604.29" y="424.82" width="0.98" height="3.62" fill="#000" opacity="0.90"/>
<rect x="605.57" y="424.82" width="0.99" height="3.62" fill="#000" opacity="1.00"/>
<rect x="606.81" y="424.82" width="1.06" height="3.62" fill="#000" opacity="1.00"/>
<rect x="608.04" y="424.82" width="0.99" height="3.62" fill="#000" opacity="0.96"/>
<rect x="608.90" y="424.82" width="1.05" height="3.62" fill="#000" opacity="0.91"/>
<rect x="612.88" y="424.82" width="0.97" height="3.62" fill="#000" opacity="0.62"/>
<line x1="498.2" y1="428.8" x2="614.0" y2="428.8" stroke="#222" stroke-width="0.6" />
<rect x="496.9" y="453.2" width="119.3" height="59" fill="#fff" stroke="#b08585" stroke-width="1.3"/>
<line x1="497.7" y1="463.4" x2="615.4" y2="463.4" stroke="#aaa" stroke-width="0.6" />
<line x1="497.7" y1="472.6" x2="615.4" y2="472.6" stroke="#555" stroke-width="0.8" />
<line x1="497.7" y1="477.0" x2="615.4" y2="477.0" stroke="#bbb" stroke-width="0.6" />
<line x1="497.7" y1="481.5" x2="615.4" y2="481.5" stroke="#555" stroke-width="0.8" />
<line x1="497.7" y1="485.5" x2="615.4" y2="485.5" stroke="#bbb" stroke-width="0.6" />
<line x1="497.7" y1="494.4" x2="615.4" y2="494.4" stroke="#555" stroke-width="0.8" />
<line x1="497.7" y1="499.0" x2="615.4" y2="499.0" stroke="#bbb" stroke-width="0.6" />
<line x1="497.7" y1="503.3" x2="615.4" y2="503.3" stroke="#555" stroke-width="0.8" />
<line x1="497.7" y1="507.3" x2="615.4" y2="507.3" stroke="#333" stroke-width="1.0" />
<rect x="503.1" y="456.10" width="3.8" height="3.2" fill="#111"/>
<rect x="503.1" y="460.43" width="3.8" height="3.2" fill="#111"/>
<rect x="503.1" y="464.76" width="3.8" height="3.2" fill="#111"/>
<rect x="503.1" y="469.09" width="3.8" height="3.2" fill="#111"/>
<rect x="503.1" y="473.42" width="3.8" height="3.2" fill="#111"/>
<rect x="503.1" y="477.75" width="3.8" height="3.2" fill="#111"/>
<rect x="503.1" y="482.08" width="3.8" height="3.2" fill="#111"/>
<rect x="503.1" y="486.41" width="3.8" height="3.2" fill="#111"/>
<rect x="503.1" y="490.74" width="3.8" height="3.2" fill="#111"/>
<rect x="503.1" y="495.07" width="3.8" height="3.2" fill="#111"/>
<rect x="503.1" y="499.40" width="3.8" height="3.2" fill="#111"/>
<rect x="503.1" y="503.73" width="3.8" height="3.2" fill="#111"/>
<rect x="535.2" y="456.10" width="3.8" height="3.2" fill="#111"/>
<rect x="535.2" y="460.43" width="3.8" height="3.2" fill="#111"/>
<rect x="535.2" y="464.76" width="3.8" height="3.2" fill="#111"/>
<rect x="535.2" y="469.09" width="3.8" height="3.2" fill="#111"/>
<rect x="535.2" y="473.42" width="3.8" height="3.2" fill="#111"/>
<rect x="535.2" y="477.75" width="3.8" height="3.2" fill="#111"/>
<rect x="535.2" y="482.08" width="3.8" height="3.2" fill="#111"/>
<rect x="535.2" y="486.41" width="3.8" height="3.2" fill="#111"/>
<rect x="535.2" y="490.74" width="3.8" height="3.2" fill="#111"/>
<rect x="535.2" y="495.07" width="3.8" height="3.2" fill="#111"/>
<rect x="535.2" y="499.40" width="3.8" height="3.2" fill="#111"/>
<rect x="535.2" y="503.73" width="3.8" height="3.2" fill="#111"/>
<rect x="568.7" y="456.10" width="3.8" height="3.2" fill="#111"/>
<rect x="568.7" y="460.43" width="3.8" height="3.2" fill="#111"/>
<rect x="568.7" y="464.76" width="3.8" height="3.2" fill="#111"/>
<rect x="568.7" y="469.09" width="3.8" height="3.2" fill="#111"/>
<rect x="568.7" y="473.42" width="3.8" height="3.2" fill="#111"/>
<rect x="568.7" y="477.75" width="3.8" height="3.2" fill="#111"/>
<rect x="568.7" y="482.08" width="3.8" height="3.2" fill="#111"/>
<rect x="568.7" y="486.41" width="3.8" height="3.2" fill="#111"/>
<rect x="568.7" y="490.74" width="3.8" height="3.2" fill="#111"/>
<rect x="568.7" y="495.07" width="3.8" height="3.2" fill="#111"/>
<rect x="568.7" y="499.40" width="3.8" height="3.2" fill="#111"/>
<rect x="568.7" y="503.73" width="3.8" height="3.2" fill="#111"/>
<rect x="605.7" y="456.10" width="3.8" height="3.2" fill="#111"/>
<rect x="605.7" y="460.43" width="3.8" height="3.2" fill="#111"/>
<rect x="605.7" y="464.76" width="3.8" height="3.2" fill="#111"/>
<rect x="605.7" y="469.09" width="3.8" height="3.2" fill="#111"/>
<rect x="605.7" y="473.42" width="3.8" height="3.2" fill="#111"/>
<rect x="605.7" y="477.75" width="3.8" height="3.2" fill="#111"/>
<rect x="605.7" y="482.08" width="3.8" height="3.2" fill="#111"/>
<rect x="605.7" y="486.41" width="3.8" height="3.2" fill="#111"/>
<rect x="605.7" y="490.74" width="3.8" height="3.2" fill="#111"/>
<rect x="605.7" y="495.07" width="3.8" height="3.2" fill="#111"/>
<rect x="605.7" y="499.40" width="3.8" height="3.2" fill="#111"/>
<rect x="605.7" y="503.73" width="3.8" height="3.2" fill="#111"/>
<text x="322.8" y="513.7" font-size="15.5" text-anchor="start" fill="#111" font-weight="bold" font-style="normal" >D</text>
<line x1="344.0" y1="632.8" x2="347.5" y2="632.8" stroke="#222" stroke-width="1" />
<text x="342.5" y="635.8" font-size="9.3" text-anchor="end" fill="#222" font-weight="normal" font-style="normal" >0</text>
<line x1="344.0" y1="603.4" x2="347.5" y2="603.4" stroke="#222" stroke-width="1" />
<text x="342.5" y="606.4" font-size="9.3" text-anchor="end" fill="#222" font-weight="normal" font-style="normal" >1</text>
<line x1="344.0" y1="574.1" x2="347.5" y2="574.1" stroke="#222" stroke-width="1" />
<text x="342.5" y="577.1" font-size="9.3" text-anchor="end" fill="#222" font-weight="normal" font-style="normal" >2</text>
<line x1="344.0" y1="544.8" x2="347.5" y2="544.8" stroke="#222" stroke-width="1" />
<text x="342.5" y="547.8" font-size="9.3" text-anchor="end" fill="#222" font-weight="normal" font-style="normal" >3</text>
<line x1="344.0" y1="515.4" x2="347.5" y2="515.4" stroke="#222" stroke-width="1" />
<text x="342.5" y="518.4" font-size="9.3" text-anchor="end" fill="#222" font-weight="normal" font-style="normal" >4</text>
<text x="331.6" y="589.6" font-size="10" fill="#222" transform="rotate(-90 331.6 589.6)">f/sd<tspan font-size="6.4" dy="2">f,prior</tspan></text>
<rect x="350.10" y="579.38" width="4.7" height="53.42" fill="#6e0008" stroke="#3a0005" stroke-width="0.5"/>
<line x1="352.4" y1="577.0" x2="352.4" y2="581.7" stroke="#222" stroke-width="0.6" />
<line x1="351.1" y1="577.0" x2="353.8" y2="577.0" stroke="#222" stroke-width="0.6" />
<circle cx="353.10" cy="582.15" r="1.1" fill="#fff" stroke="#555" stroke-width="0.5"/>
<circle cx="353.42" cy="582.08" r="1.1" fill="#fff" stroke="#555" stroke-width="0.5"/>
<circle cx="351.41" cy="579.72" r="1.1" fill="#fff" stroke="#555" stroke-width="0.5"/>
<circle cx="352.37" cy="584.68" r="1.1" fill="#fff" stroke="#555" stroke-width="0.5"/>
<circle cx="353.33" cy="576.20" r="1.1" fill="#fff" stroke="#555" stroke-width="0.5"/>
<circle cx="351.60" cy="580.57" r="1.1" fill="#fff" stroke="#555" stroke-width="0.5"/>
<circle cx="352.55" cy="581.12" r="1.1" fill="#fff" stroke="#555" stroke-width="0.5"/>
<circle cx="352.61" cy="579.04" r="1.1" fill="#fff" stroke="#555" stroke-width="0.5"/>
<rect x="356.25" y="582.32" width="4.7" height="50.48" fill="#e86868" stroke="#a04848" stroke-width="0.5"/>
<line x1="358.6" y1="579.4" x2="358.6" y2="585.3" stroke="#222" stroke-width="0.6" />
<line x1="357.3" y1="579.4" x2="359.9" y2="579.4" stroke="#222" stroke-width="0.6" />
<circle cx="358.11" cy="580.27" r="1.1" fill="#fff" stroke="#555" stroke-width="0.5"/>
<circle cx="359.52" cy="582.15" r="1.1" fill="#fff" stroke="#555" stroke-width="0.5"/>
<circle cx="359.25" cy="582.15" r="1.1" fill="#fff" stroke="#555" stroke-width="0.5"/>
<circle cx="357.81" cy="584.04" r="1.1" fill="#fff" stroke="#555" stroke-width="0.5"/>
<circle cx="357.50" cy="583.45" r="1.1" fill="#fff" stroke="#555" stroke-width="0.5"/>
<circle cx="359.42" cy="583.35" r="1.1" fill="#fff" stroke="#555" stroke-width="0.5"/>
<circle cx="359.66" cy="581.80" r="1.1" fill="#fff" stroke="#555" stroke-width="0.5"/>
<circle cx="359.42" cy="580.34" r="1.1" fill="#fff" stroke="#555" stroke-width="0.5"/>
<rect x="362.40" y="531.54" width="4.7" height="101.26" fill="#a88484" stroke="#6a5050" stroke-width="0.5"/>
<circle cx="364.84" cy="532.09" r="1.1" fill="#fff" stroke="#555" stroke-width="0.5"/>
<circle cx="365.14" cy="529.36" r="1.1" fill="#fff" stroke="#555" stroke-width="0.5"/>
<circle cx="365.17" cy="530.96" r="1.1" fill="#fff" stroke="#555" stroke-width="0.5"/>
<circle cx="365.78" cy="529.53" r="1.1" fill="#fff" stroke="#555" stroke-width="0.5"/>
<circle cx="364.44" cy="530.96" r="1.1" fill="#fff" stroke="#555" stroke-width="0.5"/>
<circle cx="364.02" cy="532.00" r="1.1" fill="#fff" stroke="#555" stroke-width="0.5"/>
<circle cx="364.31" cy="531.35" r="1.1" fill="#fff" stroke="#555" stroke-width="0.5"/>
<circle cx="364.98" cy="531.29" r="1.1" fill="#fff" stroke="#555" stroke-width="0.5"/>
<line x1="358.4" y1="632.8" x2="358.4" y2="635.8" stroke="#222" stroke-width="1" />
<rect x="372.05" y="628.40" width="4.7" height="4.40" fill="#6e0008" stroke="#3a0005" stroke-width="0.5"/>
<circle cx="374.04" cy="626.63" r="1.1" fill="#fff" stroke="#555" stroke-width="0.5"/>
<circle cx="373.98" cy="628.36" r="1.1" fill="#fff" stroke="#555" stroke-width="0.5"/>
<circle cx="373.99" cy="627.84" r="1.1" fill="#fff" stroke="#555" stroke-width="0.5"/>
<circle cx="374.36" cy="629.62" r="1.1" fill="#fff" stroke="#555" stroke-width="0.5"/>
<circle cx="375.45" cy="628.51" r="1.1" fill="#fff" stroke="#555" stroke-width="0.5"/>
<circle cx="373.35" cy="628.78" r="1.1" fill="#fff" stroke="#555" stroke-width="0.5"/>
<circle cx="373.34" cy="628.40" r="1.1" fill="#fff" stroke="#555" stroke-width="0.5"/>
<circle cx="375.03" cy="630.66" r="1.1" fill="#fff" stroke="#555" stroke-width="0.5"/>
<rect x="378.20" y="628.98" width="4.7" height="3.82" fill="#e86868" stroke="#a04848" stroke-width="0.5"/>
<circle cx="379.47" cy="630.01" r="1.1" fill="#fff" stroke="#555" stroke-width="0.5"/>
<circle cx="379.55" cy="627.83" r="1.1" fill="#fff" stroke="#555" stroke-width="0.5"/>
<circle cx="379.88" cy="627.75" r="1.1" fill="#fff" stroke="#555" stroke-width="0.5"/>
<circle cx="381.11" cy="626.33" r="1.1" fill="#fff" stroke="#555" stroke-width="0.5"/>
<circle cx="380.21" cy="626.45" r="1.1" fill="#fff" stroke="#555" stroke-width="0.5"/>
<circle cx="380.23" cy="630.18" r="1.1" fill="#fff" stroke="#555" stroke-width="0.5"/>
<circle cx="379.69" cy="630.99" r="1.1" fill="#fff" stroke="#555" stroke-width="0.5"/>
<circle cx="381.10" cy="629.30" r="1.1" fill="#fff" stroke="#555" stroke-width="0.5"/>
<rect x="384.35" y="629.28" width="4.7" height="3.52" fill="#a88484" stroke="#6a5050" stroke-width="0.5"/>
<circle cx="385.68" cy="628.60" r="1.1" fill="#fff" stroke="#555" stroke-width="0.5"/>
<circle cx="387.68" cy="631.50" r="1.1" fill="#fff" stroke="#555" stroke-width="0.5"/>
<circle cx="386.94" cy="628.38" r="1.1" fill="#fff" stroke="#555" stroke-width="0.5"/>
<circle cx="387.62" cy="628.70" r="1.1" fill="#fff" stroke="#555" stroke-width="0.5"/>
<circle cx="386.80" cy="630.71" r="1.1" fill="#fff" stroke="#555" stroke-width="0.5"/>
<circle cx="386.29" cy="627.03" r="1.1" fill="#fff" stroke="#555" stroke-width="0.5"/>
<circle cx="385.77" cy="629.58" r="1.1" fill="#fff" stroke="#555" stroke-width="0.5"/>
<circle cx="385.93" cy="628.61" r="1.1" fill="#fff" stroke="#555" stroke-width="0.5"/>
<line x1="380.3" y1="632.8" x2="380.3" y2="635.8" stroke="#222" stroke-width="1" />
<rect x="394.00" y="631.33" width="4.7" height="1.47" fill="#6e0008" stroke="#3a0005" stroke-width="0.5"/>
<circle cx="395.61" cy="632.21" r="1.1" fill="#fff" stroke="#555" stroke-width="0.5"/>
<circle cx="395.36" cy="632.21" r="1.1" fill="#fff" stroke="#555" stroke-width="0.5"/>
<circle cx="396.14" cy="630.25" r="1.1" fill="#fff" stroke="#555" stroke-width="0.5"/>
<circle cx="395.77" cy="631.42" r="1.1" fill="#fff" stroke="#555" stroke-width="0.5"/>
<circle cx="396.25" cy="632.21" r="1.1" fill="#fff" stroke="#555" stroke-width="0.5"/>
<circle cx="396.18" cy="632.21" r="1.1" fill="#fff" stroke="#555" stroke-width="0.5"/>
<circle cx="395.32" cy="629.49" r="1.1" fill="#fff" stroke="#555" stroke-width="0.5"/>
<circle cx="396.34" cy="630.66" r="1.1" fill="#fff" stroke="#555" stroke-width="0.5"/>
<rect x="400.15" y="631.92" width="4.7" height="0.88" fill="#e86868" stroke="#a04848" stroke-width="0.5"/>
<circle cx="403.01" cy="631.76" r="1.1" fill="#fff" stroke="#555" stroke-width="0.5"/>
<circle cx="403.49" cy="632.18" r="1.1" fill="#fff" stroke="#555" stroke-width="0.5"/>
<circle cx="401.63" cy="632.21" r="1.1" fill="#fff" stroke="#555" stroke-width="0.5"/>
<circle cx="402.36" cy="632.21" r="1.1" fill="#fff" stroke="#555" stroke-width="0.5"/>
<circle cx="402.05" cy="631.25" r="1.1" fill="#fff" stroke="#555" stroke-width="0.5"/>
<circle cx="402.40" cy="631.01" r="1.1" fill="#fff" stroke="#555" stroke-width="0.5"/>
<circle cx="403.55" cy="630.77" r="1.1" fill="#fff" stroke="#555" stroke-width="0.5"/>
<circle cx="402.40" cy="631.92" r="1.1" fill="#fff" stroke="#555" stroke-width="0.5"/>
<rect x="406.30" y="631.92" width="4.7" height="0.88" fill="#a88484" stroke="#6a5050" stroke-width="0.5"/>
<circle cx="408.60" cy="632.21" r="1.1" fill="#fff" stroke="#555" stroke-width="0.5"/>
<circle cx="408.19" cy="631.85" r="1.1" fill="#fff" stroke="#555" stroke-width="0.5"/>
<circle cx="408.38" cy="632.19" r="1.1" fill="#fff" stroke="#555" stroke-width="0.5"/>
<circle cx="409.72" cy="631.73" r="1.1" fill="#fff" stroke="#555" stroke-width="0.5"/>
<circle cx="408.65" cy="631.12" r="1.1" fill="#fff" stroke="#555" stroke-width="0.5"/>
<circle cx="408.29" cy="632.13" r="1.1" fill="#fff" stroke="#555" stroke-width="0.5"/>
<circle cx="409.27" cy="631.52" r="1.1" fill="#fff" stroke="#555" stroke-width="0.5"/>
<circle cx="409.46" cy="631.67" r="1.1" fill="#fff" stroke="#555" stroke-width="0.5"/>
<line x1="402.3" y1="632.8" x2="402.3" y2="635.8" stroke="#222" stroke-width="1" />
<rect x="415.95" y="591.12" width="4.7" height="41.68" fill="#6e0008" stroke="#3a0005" stroke-width="0.5"/>
<line x1="418.3" y1="573.5" x2="418.3" y2="608.7" stroke="#222" stroke-width="0.6" />
<line x1="417.0" y1="573.5" x2="419.6" y2="573.5" stroke="#222" stroke-width="0.6" />
<circle cx="418.90" cy="611.03" r="1.1" fill="#fff" stroke="#555" stroke-width="0.5"/>
<circle cx="418.73" cy="567.46" r="1.1" fill="#fff" stroke="#555" stroke-width="0.5"/>
<circle cx="418.00" cy="606.42" r="1.1" fill="#fff" stroke="#555" stroke-width="0.5"/>
<circle cx="418.75" cy="616.62" r="1.1" fill="#fff" stroke="#555" stroke-width="0.5"/>
<circle cx="418.89" cy="595.04" r="1.1" fill="#fff" stroke="#555" stroke-width="0.5"/>
<circle cx="418.72" cy="571.20" r="1.1" fill="#fff" stroke="#555" stroke-width="0.5"/>
<circle cx="418.63" cy="602.68" r="1.1" fill="#fff" stroke="#555" stroke-width="0.5"/>
<circle cx="418.48" cy="550.24" r="1.1" fill="#fff" stroke="#555" stroke-width="0.5"/>
<rect x="422.10" y="594.06" width="4.7" height="38.74" fill="#e86868" stroke="#a04848" stroke-width="0.5"/>
<line x1="424.4" y1="585.8" x2="424.4" y2="602.3" stroke="#222" stroke-width="0.6" />
<line x1="423.1" y1="585.8" x2="425.8" y2="585.8" stroke="#222" stroke-width="0.6" />
<circle cx="423.90" cy="583.74" r="1.1" fill="#fff" stroke="#555" stroke-width="0.5"/>
<circle cx="424.83" cy="593.31" r="1.1" fill="#fff" stroke="#555" stroke-width="0.5"/>
<circle cx="424.77" cy="608.79" r="1.1" fill="#fff" stroke="#555" stroke-width="0.5"/>
<circle cx="425.10" cy="590.56" r="1.1" fill="#fff" stroke="#555" stroke-width="0.5"/>
<circle cx="424.97" cy="600.87" r="1.1" fill="#fff" stroke="#555" stroke-width="0.5"/>
<circle cx="425.17" cy="584.41" r="1.1" fill="#fff" stroke="#555" stroke-width="0.5"/>
<circle cx="425.26" cy="603.35" r="1.1" fill="#fff" stroke="#555" stroke-width="0.5"/>
<circle cx="424.86" cy="581.27" r="1.1" fill="#fff" stroke="#555" stroke-width="0.5"/>
<rect x="428.25" y="562.95" width="4.7" height="69.85" fill="#a88484" stroke="#6a5050" stroke-width="0.5"/>
<circle cx="430.64" cy="561.49" r="1.1" fill="#fff" stroke="#555" stroke-width="0.5"/>
<circle cx="430.66" cy="563.17" r="1.1" fill="#fff" stroke="#555" stroke-width="0.5"/>
<circle cx="431.56" cy="562.39" r="1.1" fill="#fff" stroke="#555" stroke-width="0.5"/>
<circle cx="430.55" cy="561.98" r="1.1" fill="#fff" stroke="#555" stroke-width="0.5"/>
<circle cx="431.11" cy="563.28" r="1.1" fill="#fff" stroke="#555" stroke-width="0.5"/>
<circle cx="429.88" cy="563.82" r="1.1" fill="#fff" stroke="#555" stroke-width="0.5"/>
<circle cx="430.96" cy="562.80" r="1.1" fill="#fff" stroke="#555" stroke-width="0.5"/>
<circle cx="430.43" cy="563.71" r="1.1" fill="#fff" stroke="#555" stroke-width="0.5"/>
<line x1="424.2" y1="632.8" x2="424.2" y2="635.8" stroke="#222" stroke-width="1" />
<rect x="437.90" y="630.75" width="4.7" height="2.05" fill="#6e0008" stroke="#3a0005" stroke-width="0.5"/>
<line x1="440.2" y1="624.3" x2="440.2" y2="632.8" stroke="#222" stroke-width="0.6" />
<line x1="438.9" y1="624.3" x2="441.6" y2="624.3" stroke="#222" stroke-width="0.6" />
<circle cx="440.55" cy="632.21" r="1.1" fill="#fff" stroke="#555" stroke-width="0.5"/>
<circle cx="440.73" cy="632.21" r="1.1" fill="#fff" stroke="#555" stroke-width="0.5"/>
<circle cx="440.12" cy="626.99" r="1.1" fill="#fff" stroke="#555" stroke-width="0.5"/>
<circle cx="440.58" cy="630.09" r="1.1" fill="#fff" stroke="#555" stroke-width="0.5"/>
<circle cx="440.54" cy="628.85" r="1.1" fill="#fff" stroke="#555" stroke-width="0.5"/>
<circle cx="439.24" cy="621.10" r="1.1" fill="#fff" stroke="#555" stroke-width="0.5"/>
<circle cx="439.27" cy="632.21" r="1.1" fill="#fff" stroke="#555" stroke-width="0.5"/>
<circle cx="439.44" cy="629.92" r="1.1" fill="#fff" stroke="#555" stroke-width="0.5"/>
<rect x="444.05" y="632.51" width="4.7" height="0.29" fill="#e86868" stroke="#a04848" stroke-width="0.5"/>
<circle cx="445.73" cy="632.21" r="1.1" fill="#fff" stroke="#555" stroke-width="0.5"/>
<circle cx="445.38" cy="632.17" r="1.1" fill="#fff" stroke="#555" stroke-width="0.5"/>
<circle cx="446.65" cy="632.21" r="1.1" fill="#fff" stroke="#555" stroke-width="0.5"/>
<circle cx="446.60" cy="632.21" r="1.1" fill="#fff" stroke="#555" stroke-width="0.5"/>
<circle cx="445.30" cy="632.21" r="1.1" fill="#fff" stroke="#555" stroke-width="0.5"/>
<circle cx="446.19" cy="631.24" r="1.1" fill="#fff" stroke="#555" stroke-width="0.5"/>
<circle cx="445.55" cy="632.21" r="1.1" fill="#fff" stroke="#555" stroke-width="0.5"/>
<circle cx="447.13" cy="631.91" r="1.1" fill="#fff" stroke="#555" stroke-width="0.5"/>
<rect x="450.20" y="632.51" width="4.7" height="0.29" fill="#a88484" stroke="#6a5050" stroke-width="0.5"/>
<circle cx="452.80" cy="632.21" r="1.1" fill="#fff" stroke="#555" stroke-width="0.5"/>
<circle cx="451.66" cy="632.21" r="1.1" fill="#fff" stroke="#555" stroke-width="0.5"/>
<circle cx="452.73" cy="632.21" r="1.1" fill="#fff" stroke="#555" stroke-width="0.5"/>
<circle cx="453.56" cy="632.21" r="1.1" fill="#fff" stroke="#555" stroke-width="0.5"/>
<circle cx="453.24" cy="632.21" r="1.1" fill="#fff" stroke="#555" stroke-width="0.5"/>
<circle cx="452.86" cy="632.21" r="1.1" fill="#fff" stroke="#555" stroke-width="0.5"/>
<circle cx="452.76" cy="632.21" r="1.1" fill="#fff" stroke="#555" stroke-width="0.5"/>
<circle cx="452.69" cy="632.21" r="1.1" fill="#fff" stroke="#555" stroke-width="0.5"/>
<line x1="446.2" y1="632.8" x2="446.2" y2="635.8" stroke="#222" stroke-width="1" />
<rect x="459.85" y="602.86" width="4.7" height="29.94" fill="#6e0008" stroke="#3a0005" stroke-width="0.5"/>
<line x1="462.2" y1="585.3" x2="462.2" y2="620.5" stroke="#222" stroke-width="0.6" />
<line x1="460.9" y1="585.3" x2="463.5" y2="585.3" stroke="#222" stroke-width="0.6" />
<circle cx="462.44" cy="558.32" r="1.1" fill="#fff" stroke="#555" stroke-width="0.5"/>
<circle cx="461.87" cy="615.14" r="1.1" fill="#fff" stroke="#555" stroke-width="0.5"/>
<circle cx="461.34" cy="602.26" r="1.1" fill="#fff" stroke="#555" stroke-width="0.5"/>
<circle cx="462.34" cy="603.34" r="1.1" fill="#fff" stroke="#555" stroke-width="0.5"/>
<circle cx="462.48" cy="610.13" r="1.1" fill="#fff" stroke="#555" stroke-width="0.5"/>
<circle cx="463.06" cy="609.28" r="1.1" fill="#fff" stroke="#555" stroke-width="0.5"/>
<circle cx="461.60" cy="616.17" r="1.1" fill="#fff" stroke="#555" stroke-width="0.5"/>
<circle cx="461.74" cy="589.70" r="1.1" fill="#fff" stroke="#555" stroke-width="0.5"/>
<rect x="466.00" y="598.17" width="4.7" height="34.63" fill="#e86868" stroke="#a04848" stroke-width="0.5"/>
<line x1="468.3" y1="585.0" x2="468.3" y2="611.4" stroke="#222" stroke-width="0.6" />
<line x1="467.0" y1="585.0" x2="469.6" y2="585.0" stroke="#222" stroke-width="0.6" />
<circle cx="469.36" cy="585.45" r="1.1" fill="#fff" stroke="#555" stroke-width="0.5"/>
<circle cx="469.26" cy="600.39" r="1.1" fill="#fff" stroke="#555" stroke-width="0.5"/>
<circle cx="469.41" cy="606.61" r="1.1" fill="#fff" stroke="#555" stroke-width="0.5"/>
<circle cx="468.34" cy="603.97" r="1.1" fill="#fff" stroke="#555" stroke-width="0.5"/>
<circle cx="469.42" cy="608.15" r="1.1" fill="#fff" stroke="#555" stroke-width="0.5"/>
<circle cx="468.33" cy="592.30" r="1.1" fill="#fff" stroke="#555" stroke-width="0.5"/>
<circle cx="467.52" cy="601.58" r="1.1" fill="#fff" stroke="#555" stroke-width="0.5"/>
<circle cx="468.62" cy="583.52" r="1.1" fill="#fff" stroke="#555" stroke-width="0.5"/>
<rect x="472.15" y="598.17" width="4.7" height="34.63" fill="#a88484" stroke="#6a5050" stroke-width="0.5"/>
<line x1="474.5" y1="579.1" x2="474.5" y2="617.2" stroke="#222" stroke-width="0.6" />
<line x1="473.2" y1="579.1" x2="475.8" y2="579.1" stroke="#222" stroke-width="0.6" />
<circle cx="475.12" cy="613.06" r="1.1" fill="#fff" stroke="#555" stroke-width="0.5"/>
<circle cx="475.22" cy="592.64" r="1.1" fill="#fff" stroke="#555" stroke-width="0.5"/>
<circle cx="474.00" cy="574.72" r="1.1" fill="#fff" stroke="#555" stroke-width="0.5"/>
<circle cx="475.46" cy="596.22" r="1.1" fill="#fff" stroke="#555" stroke-width="0.5"/>
<circle cx="473.99" cy="595.31" r="1.1" fill="#fff" stroke="#555" stroke-width="0.5"/>
<circle cx="473.74" cy="612.21" r="1.1" fill="#fff" stroke="#555" stroke-width="0.5"/>
<circle cx="474.74" cy="582.31" r="1.1" fill="#fff" stroke="#555" stroke-width="0.5"/>
<circle cx="474.44" cy="599.28" r="1.1" fill="#fff" stroke="#555" stroke-width="0.5"/>
<line x1="468.1" y1="632.8" x2="468.1" y2="635.8" stroke="#222" stroke-width="1" />
<rect x="481.80" y="595.82" width="4.7" height="36.98" fill="#6e0008" stroke="#3a0005" stroke-width="0.5"/>
<line x1="484.1" y1="587.0" x2="484.1" y2="604.6" stroke="#222" stroke-width="0.6" />
<line x1="482.8" y1="587.0" x2="485.4" y2="587.0" stroke="#222" stroke-width="0.6" />
<circle cx="484.69" cy="603.17" r="1.1" fill="#fff" stroke="#555" stroke-width="0.5"/>
<circle cx="483.31" cy="605.28" r="1.1" fill="#fff" stroke="#555" stroke-width="0.5"/>
<circle cx="484.22" cy="595.33" r="1.1" fill="#fff" stroke="#555" stroke-width="0.5"/>
<circle cx="483.79" cy="603.25" r="1.1" fill="#fff" stroke="#555" stroke-width="0.5"/>
<circle cx="484.07" cy="598.96" r="1.1" fill="#fff" stroke="#555" stroke-width="0.5"/>
<circle cx="483.84" cy="585.47" r="1.1" fill="#fff" stroke="#555" stroke-width="0.5"/>
<circle cx="483.13" cy="596.19" r="1.1" fill="#fff" stroke="#555" stroke-width="0.5"/>
<circle cx="483.61" cy="607.58" r="1.1" fill="#fff" stroke="#555" stroke-width="0.5"/>
<rect x="487.95" y="590.24" width="4.7" height="42.56" fill="#e86868" stroke="#a04848" stroke-width="0.5"/>
<line x1="490.3" y1="585.8" x2="490.3" y2="594.6" stroke="#222" stroke-width="0.6" />
<line x1="489.0" y1="585.8" x2="491.6" y2="585.8" stroke="#222" stroke-width="0.6" />
<circle cx="491.15" cy="599.68" r="1.1" fill="#fff" stroke="#555" stroke-width="0.5"/>
<circle cx="490.40" cy="587.54" r="1.1" fill="#fff" stroke="#555" stroke-width="0.5"/>
<circle cx="490.14" cy="582.63" r="1.1" fill="#fff" stroke="#555" stroke-width="0.5"/>
<circle cx="490.47" cy="589.54" r="1.1" fill="#fff" stroke="#555" stroke-width="0.5"/>
<circle cx="490.26" cy="591.86" r="1.1" fill="#fff" stroke="#555" stroke-width="0.5"/>
<circle cx="491.21" cy="596.26" r="1.1" fill="#fff" stroke="#555" stroke-width="0.5"/>
<circle cx="491.07" cy="593.54" r="1.1" fill="#fff" stroke="#555" stroke-width="0.5"/>
<circle cx="489.63" cy="587.35" r="1.1" fill="#fff" stroke="#555" stroke-width="0.5"/>
<rect x="494.10" y="547.68" width="4.7" height="85.11" fill="#a88484" stroke="#6a5050" stroke-width="0.5"/>
<circle cx="495.50" cy="548.48" r="1.1" fill="#fff" stroke="#555" stroke-width="0.5"/>
<circle cx="497.19" cy="545.04" r="1.1" fill="#fff" stroke="#555" stroke-width="0.5"/>
<circle cx="495.98" cy="548.22" r="1.1" fill="#fff" stroke="#555" stroke-width="0.5"/>
<circle cx="497.07" cy="549.15" r="1.1" fill="#fff" stroke="#555" stroke-width="0.5"/>
<circle cx="496.40" cy="547.00" r="1.1" fill="#fff" stroke="#555" stroke-width="0.5"/>
<circle cx="496.56" cy="548.12" r="1.1" fill="#fff" stroke="#555" stroke-width="0.5"/>
<circle cx="495.69" cy="549.00" r="1.1" fill="#fff" stroke="#555" stroke-width="0.5"/>
<circle cx="496.64" cy="547.67" r="1.1" fill="#fff" stroke="#555" stroke-width="0.5"/>
<line x1="490.1" y1="632.8" x2="490.1" y2="635.8" stroke="#222" stroke-width="1" />
<rect x="503.75" y="573.51" width="4.7" height="59.29" fill="#6e0008" stroke="#3a0005" stroke-width="0.5"/>
<line x1="506.1" y1="566.2" x2="506.1" y2="580.9" stroke="#222" stroke-width="0.6" />
<line x1="504.8" y1="566.2" x2="507.4" y2="566.2" stroke="#222" stroke-width="0.6" />
<circle cx="505.51" cy="572.47" r="1.1" fill="#fff" stroke="#555" stroke-width="0.5"/>
<circle cx="506.80" cy="576.07" r="1.1" fill="#fff" stroke="#555" stroke-width="0.5"/>
<circle cx="505.06" cy="570.70" r="1.1" fill="#fff" stroke="#555" stroke-width="0.5"/>
<circle cx="506.59" cy="583.97" r="1.1" fill="#fff" stroke="#555" stroke-width="0.5"/>
<circle cx="506.54" cy="547.50" r="1.1" fill="#fff" stroke="#555" stroke-width="0.5"/>
<circle cx="505.11" cy="577.02" r="1.1" fill="#fff" stroke="#555" stroke-width="0.5"/>
<circle cx="506.42" cy="570.69" r="1.1" fill="#fff" stroke="#555" stroke-width="0.5"/>
<circle cx="507.09" cy="577.84" r="1.1" fill="#fff" stroke="#555" stroke-width="0.5"/>
<rect x="509.90" y="567.64" width="4.7" height="65.16" fill="#e86868" stroke="#a04848" stroke-width="0.5"/>
<line x1="512.2" y1="558.8" x2="512.2" y2="576.4" stroke="#222" stroke-width="0.6" />
<line x1="510.9" y1="558.8" x2="513.5" y2="558.8" stroke="#222" stroke-width="0.6" />
<circle cx="511.79" cy="568.75" r="1.1" fill="#fff" stroke="#555" stroke-width="0.5"/>
<circle cx="513.17" cy="572.25" r="1.1" fill="#fff" stroke="#555" stroke-width="0.5"/>
<circle cx="512.06" cy="560.52" r="1.1" fill="#fff" stroke="#555" stroke-width="0.5"/>
<circle cx="511.50" cy="557.87" r="1.1" fill="#fff" stroke="#555" stroke-width="0.5"/>
<circle cx="511.39" cy="569.53" r="1.1" fill="#fff" stroke="#555" stroke-width="0.5"/>
<circle cx="511.98" cy="569.47" r="1.1" fill="#fff" stroke="#555" stroke-width="0.5"/>
<circle cx="512.42" cy="564.92" r="1.1" fill="#fff" stroke="#555" stroke-width="0.5"/>
<circle cx="512.78" cy="566.32" r="1.1" fill="#fff" stroke="#555" stroke-width="0.5"/>
<rect x="516.05" y="610.49" width="4.7" height="22.31" fill="#a88484" stroke="#6a5050" stroke-width="0.5"/>
<line x1="518.4" y1="600.2" x2="518.4" y2="620.8" stroke="#222" stroke-width="0.6" />
<line x1="517.1" y1="600.2" x2="519.7" y2="600.2" stroke="#222" stroke-width="0.6" />
<circle cx="518.25" cy="606.51" r="1.1" fill="#fff" stroke="#555" stroke-width="0.5"/>
<circle cx="517.99" cy="614.31" r="1.1" fill="#fff" stroke="#555" stroke-width="0.5"/>
<circle cx="519.36" cy="620.12" r="1.1" fill="#fff" stroke="#555" stroke-width="0.5"/>
<circle cx="518.12" cy="617.51" r="1.1" fill="#fff" stroke="#555" stroke-width="0.5"/>
<circle cx="517.63" cy="595.58" r="1.1" fill="#fff" stroke="#555" stroke-width="0.5"/>
<circle cx="518.69" cy="605.04" r="1.1" fill="#fff" stroke="#555" stroke-width="0.5"/>
<circle cx="518.52" cy="632.21" r="1.1" fill="#fff" stroke="#555" stroke-width="0.5"/>
<circle cx="518.67" cy="611.32" r="1.1" fill="#fff" stroke="#555" stroke-width="0.5"/>
<line x1="512.0" y1="632.8" x2="512.0" y2="635.8" stroke="#222" stroke-width="1" />
<rect x="525.70" y="526.55" width="4.7" height="106.25" fill="#6e0008" stroke="#3a0005" stroke-width="0.5"/>
<line x1="528.1" y1="523.6" x2="528.1" y2="529.5" stroke="#222" stroke-width="0.6" />
<line x1="526.8" y1="523.6" x2="529.4" y2="523.6" stroke="#222" stroke-width="0.6" />
<circle cx="527.51" cy="526.86" r="1.1" fill="#fff" stroke="#555" stroke-width="0.5"/>
<circle cx="528.60" cy="522.85" r="1.1" fill="#fff" stroke="#555" stroke-width="0.5"/>
<circle cx="527.47" cy="528.12" r="1.1" fill="#fff" stroke="#555" stroke-width="0.5"/>
<circle cx="527.77" cy="526.72" r="1.1" fill="#fff" stroke="#555" stroke-width="0.5"/>
<circle cx="528.52" cy="526.71" r="1.1" fill="#fff" stroke="#555" stroke-width="0.5"/>
<circle cx="528.39" cy="528.39" r="1.1" fill="#fff" stroke="#555" stroke-width="0.5"/>
<circle cx="527.15" cy="522.81" r="1.1" fill="#fff" stroke="#555" stroke-width="0.5"/>
<circle cx="527.22" cy="524.33" r="1.1" fill="#fff" stroke="#555" stroke-width="0.5"/>
<rect x="531.85" y="527.14" width="4.7" height="105.66" fill="#e86868" stroke="#a04848" stroke-width="0.5"/>
<line x1="534.2" y1="524.2" x2="534.2" y2="530.1" stroke="#222" stroke-width="0.6" />
<line x1="532.9" y1="524.2" x2="535.5" y2="524.2" stroke="#222" stroke-width="0.6" />
<circle cx="535.03" cy="528.94" r="1.1" fill="#fff" stroke="#555" stroke-width="0.5"/>
<circle cx="534.16" cy="528.35" r="1.1" fill="#fff" stroke="#555" stroke-width="0.5"/>
<circle cx="533.16" cy="529.47" r="1.1" fill="#fff" stroke="#555" stroke-width="0.5"/>
<circle cx="534.70" cy="522.45" r="1.1" fill="#fff" stroke="#555" stroke-width="0.5"/>
<circle cx="535.19" cy="525.56" r="1.1" fill="#fff" stroke="#555" stroke-width="0.5"/>
<circle cx="534.60" cy="526.58" r="1.1" fill="#fff" stroke="#555" stroke-width="0.5"/>
<circle cx="535.24" cy="526.89" r="1.1" fill="#fff" stroke="#555" stroke-width="0.5"/>
<circle cx="534.56" cy="525.70" r="1.1" fill="#fff" stroke="#555" stroke-width="0.5"/>
<rect x="538.00" y="614.02" width="4.7" height="18.78" fill="#a88484" stroke="#6a5050" stroke-width="0.5"/>
<circle cx="540.62" cy="613.67" r="1.1" fill="#fff" stroke="#555" stroke-width="0.5"/>
<circle cx="540.03" cy="614.74" r="1.1" fill="#fff" stroke="#555" stroke-width="0.5"/>
<circle cx="540.60" cy="613.89" r="1.1" fill="#fff" stroke="#555" stroke-width="0.5"/>
<circle cx="540.02" cy="612.70" r="1.1" fill="#fff" stroke="#555" stroke-width="0.5"/>
<circle cx="541.08" cy="614.61" r="1.1" fill="#fff" stroke="#555" stroke-width="0.5"/>
<circle cx="540.68" cy="613.49" r="1.1" fill="#fff" stroke="#555" stroke-width="0.5"/>
<circle cx="541.12" cy="613.49" r="1.1" fill="#fff" stroke="#555" stroke-width="0.5"/>
<circle cx="540.39" cy="615.49" r="1.1" fill="#fff" stroke="#555" stroke-width="0.5"/>
<line x1="534.0" y1="632.8" x2="534.0" y2="635.8" stroke="#222" stroke-width="1" />
<rect x="547.65" y="628.98" width="4.7" height="3.82" fill="#6e0008" stroke="#3a0005" stroke-width="0.5"/>
<circle cx="550.53" cy="630.58" r="1.1" fill="#fff" stroke="#555" stroke-width="0.5"/>
<circle cx="549.77" cy="630.04" r="1.1" fill="#fff" stroke="#555" stroke-width="0.5"/>
<circle cx="549.35" cy="628.67" r="1.1" fill="#fff" stroke="#555" stroke-width="0.5"/>
<circle cx="548.99" cy="628.77" r="1.1" fill="#fff" stroke="#555" stroke-width="0.5"/>
<circle cx="550.57" cy="627.69" r="1.1" fill="#fff" stroke="#555" stroke-width="0.5"/>
<circle cx="548.90" cy="630.06" r="1.1" fill="#fff" stroke="#555" stroke-width="0.5"/>
<circle cx="550.26" cy="632.01" r="1.1" fill="#fff" stroke="#555" stroke-width="0.5"/>
<circle cx="549.84" cy="628.41" r="1.1" fill="#fff" stroke="#555" stroke-width="0.5"/>
<rect x="553.80" y="629.87" width="4.7" height="2.94" fill="#e86868" stroke="#a04848" stroke-width="0.5"/>
<circle cx="555.39" cy="630.26" r="1.1" fill="#fff" stroke="#555" stroke-width="0.5"/>
<circle cx="555.40" cy="629.78" r="1.1" fill="#fff" stroke="#555" stroke-width="0.5"/>
<circle cx="556.99" cy="630.48" r="1.1" fill="#fff" stroke="#555" stroke-width="0.5"/>
<circle cx="555.38" cy="629.25" r="1.1" fill="#fff" stroke="#555" stroke-width="0.5"/>
<circle cx="555.41" cy="629.88" r="1.1" fill="#fff" stroke="#555" stroke-width="0.5"/>
<circle cx="555.68" cy="629.16" r="1.1" fill="#fff" stroke="#555" stroke-width="0.5"/>
<circle cx="555.12" cy="629.77" r="1.1" fill="#fff" stroke="#555" stroke-width="0.5"/>
<circle cx="557.08" cy="628.86" r="1.1" fill="#fff" stroke="#555" stroke-width="0.5"/>
<rect x="559.95" y="561.19" width="4.7" height="71.61" fill="#a88484" stroke="#6a5050" stroke-width="0.5"/>
<line x1="562.3" y1="556.8" x2="562.3" y2="565.6" stroke="#222" stroke-width="0.6" />
<line x1="561.0" y1="556.8" x2="563.6" y2="556.8" stroke="#222" stroke-width="0.6" />
<circle cx="562.71" cy="568.24" r="1.1" fill="#fff" stroke="#555" stroke-width="0.5"/>
<circle cx="562.68" cy="553.57" r="1.1" fill="#fff" stroke="#555" stroke-width="0.5"/>
<circle cx="561.46" cy="571.64" r="1.1" fill="#fff" stroke="#555" stroke-width="0.5"/>
<circle cx="562.67" cy="559.31" r="1.1" fill="#fff" stroke="#555" stroke-width="0.5"/>
<circle cx="562.80" cy="562.87" r="1.1" fill="#fff" stroke="#555" stroke-width="0.5"/>
<circle cx="561.56" cy="554.81" r="1.1" fill="#fff" stroke="#555" stroke-width="0.5"/>
<circle cx="561.71" cy="560.89" r="1.1" fill="#fff" stroke="#555" stroke-width="0.5"/>
<circle cx="561.37" cy="560.24" r="1.1" fill="#fff" stroke="#555" stroke-width="0.5"/>
<line x1="555.9" y1="632.8" x2="555.9" y2="635.8" stroke="#222" stroke-width="1" />
<rect x="569.60" y="626.93" width="4.7" height="5.87" fill="#6e0008" stroke="#3a0005" stroke-width="0.5"/>
<line x1="572.0" y1="624.6" x2="572.0" y2="629.3" stroke="#222" stroke-width="0.6" />
<line x1="570.7" y1="624.6" x2="573.2" y2="624.6" stroke="#222" stroke-width="0.6" />
<circle cx="571.65" cy="632.08" r="1.1" fill="#fff" stroke="#555" stroke-width="0.5"/>
<circle cx="571.54" cy="623.24" r="1.1" fill="#fff" stroke="#555" stroke-width="0.5"/>
<circle cx="572.46" cy="628.81" r="1.1" fill="#fff" stroke="#555" stroke-width="0.5"/>
<circle cx="572.43" cy="626.55" r="1.1" fill="#fff" stroke="#555" stroke-width="0.5"/>
<circle cx="572.33" cy="626.03" r="1.1" fill="#fff" stroke="#555" stroke-width="0.5"/>
<circle cx="572.92" cy="625.44" r="1.1" fill="#fff" stroke="#555" stroke-width="0.5"/>
<circle cx="573.00" cy="628.45" r="1.1" fill="#fff" stroke="#555" stroke-width="0.5"/>
<circle cx="570.86" cy="628.91" r="1.1" fill="#fff" stroke="#555" stroke-width="0.5"/>
<rect x="575.75" y="628.40" width="4.7" height="4.40" fill="#e86868" stroke="#a04848" stroke-width="0.5"/>
<circle cx="577.90" cy="626.03" r="1.1" fill="#fff" stroke="#555" stroke-width="0.5"/>
<circle cx="577.10" cy="627.45" r="1.1" fill="#fff" stroke="#555" stroke-width="0.5"/>
<circle cx="578.14" cy="632.21" r="1.1" fill="#fff" stroke="#555" stroke-width="0.5"/>
<circle cx="577.77" cy="629.73" r="1.1" fill="#fff" stroke="#555" stroke-width="0.5"/>
<circle cx="578.98" cy="627.93" r="1.1" fill="#fff" stroke="#555" stroke-width="0.5"/>
<circle cx="578.08" cy="628.08" r="1.1" fill="#fff" stroke="#555" stroke-width="0.5"/>
<circle cx="577.54" cy="627.95" r="1.1" fill="#fff" stroke="#555" stroke-width="0.5"/>
<circle cx="577.11" cy="628.59" r="1.1" fill="#fff" stroke="#555" stroke-width="0.5"/>
<rect x="581.90" y="562.36" width="4.7" height="70.44" fill="#a88484" stroke="#6a5050" stroke-width="0.5"/>
<line x1="584.2" y1="558.3" x2="584.2" y2="566.5" stroke="#222" stroke-width="0.6" />
<line x1="583.0" y1="558.3" x2="585.5" y2="558.3" stroke="#222" stroke-width="0.6" />
<circle cx="583.71" cy="563.52" r="1.1" fill="#fff" stroke="#555" stroke-width="0.5"/>
<circle cx="584.05" cy="561.49" r="1.1" fill="#fff" stroke="#555" stroke-width="0.5"/>
<circle cx="583.23" cy="562.82" r="1.1" fill="#fff" stroke="#555" stroke-width="0.5"/>
<circle cx="585.29" cy="561.11" r="1.1" fill="#fff" stroke="#555" stroke-width="0.5"/>
<circle cx="584.04" cy="560.26" r="1.1" fill="#fff" stroke="#555" stroke-width="0.5"/>
<circle cx="584.32" cy="557.94" r="1.1" fill="#fff" stroke="#555" stroke-width="0.5"/>
<circle cx="583.39" cy="559.28" r="1.1" fill="#fff" stroke="#555" stroke-width="0.5"/>
<circle cx="584.34" cy="560.56" r="1.1" fill="#fff" stroke="#555" stroke-width="0.5"/>
<line x1="577.9" y1="632.8" x2="577.9" y2="635.8" stroke="#222" stroke-width="1" />
<rect x="591.55" y="619.30" width="4.7" height="13.50" fill="#6e0008" stroke="#3a0005" stroke-width="0.5"/>
<line x1="593.9" y1="612.8" x2="593.9" y2="625.8" stroke="#222" stroke-width="0.6" />
<line x1="592.6" y1="612.8" x2="595.2" y2="612.8" stroke="#222" stroke-width="0.6" />
<circle cx="594.68" cy="611.62" r="1.1" fill="#fff" stroke="#555" stroke-width="0.5"/>
<circle cx="593.27" cy="623.44" r="1.1" fill="#fff" stroke="#555" stroke-width="0.5"/>
<circle cx="593.87" cy="611.30" r="1.1" fill="#fff" stroke="#555" stroke-width="0.5"/>
<circle cx="594.06" cy="618.42" r="1.1" fill="#fff" stroke="#555" stroke-width="0.5"/>
<circle cx="594.40" cy="625.76" r="1.1" fill="#fff" stroke="#555" stroke-width="0.5"/>
<circle cx="594.81" cy="612.97" r="1.1" fill="#fff" stroke="#555" stroke-width="0.5"/>
<circle cx="594.62" cy="621.80" r="1.1" fill="#fff" stroke="#555" stroke-width="0.5"/>
<circle cx="593.29" cy="612.71" r="1.1" fill="#fff" stroke="#555" stroke-width="0.5"/>
<rect x="597.70" y="623.11" width="4.7" height="9.69" fill="#e86868" stroke="#a04848" stroke-width="0.5"/>
<line x1="600.0" y1="620.2" x2="600.0" y2="626.0" stroke="#222" stroke-width="0.6" />
<line x1="598.8" y1="620.2" x2="601.3" y2="620.2" stroke="#222" stroke-width="0.6" />
<circle cx="599.14" cy="621.22" r="1.1" fill="#fff" stroke="#555" stroke-width="0.5"/>
<circle cx="600.65" cy="621.43" r="1.1" fill="#fff" stroke="#555" stroke-width="0.5"/>
<circle cx="599.24" cy="622.04" r="1.1" fill="#fff" stroke="#555" stroke-width="0.5"/>
<circle cx="599.13" cy="625.42" r="1.1" fill="#fff" stroke="#555" stroke-width="0.5"/>
<circle cx="599.89" cy="623.07" r="1.1" fill="#fff" stroke="#555" stroke-width="0.5"/>
<circle cx="600.22" cy="621.88" r="1.1" fill="#fff" stroke="#555" stroke-width="0.5"/>
<circle cx="600.49" cy="623.08" r="1.1" fill="#fff" stroke="#555" stroke-width="0.5"/>
<circle cx="599.06" cy="622.07" r="1.1" fill="#fff" stroke="#555" stroke-width="0.5"/>
<rect x="603.85" y="619.30" width="4.7" height="13.50" fill="#a88484" stroke="#6a5050" stroke-width="0.5"/>
<line x1="606.2" y1="613.4" x2="606.2" y2="625.2" stroke="#222" stroke-width="0.6" />
<line x1="604.9" y1="613.4" x2="607.5" y2="613.4" stroke="#222" stroke-width="0.6" />
<circle cx="605.92" cy="617.81" r="1.1" fill="#fff" stroke="#555" stroke-width="0.5"/>
<circle cx="605.32" cy="614.72" r="1.1" fill="#fff" stroke="#555" stroke-width="0.5"/>
<circle cx="606.76" cy="623.77" r="1.1" fill="#fff" stroke="#555" stroke-width="0.5"/>
<circle cx="606.32" cy="616.86" r="1.1" fill="#fff" stroke="#555" stroke-width="0.5"/>
<circle cx="606.77" cy="612.50" r="1.1" fill="#fff" stroke="#555" stroke-width="0.5"/>
<circle cx="606.36" cy="624.49" r="1.1" fill="#fff" stroke="#555" stroke-width="0.5"/>
<circle cx="606.54" cy="629.41" r="1.1" fill="#fff" stroke="#555" stroke-width="0.5"/>
<circle cx="607.20" cy="615.46" r="1.1" fill="#fff" stroke="#555" stroke-width="0.5"/>
<line x1="599.8" y1="632.8" x2="599.8" y2="635.8" stroke="#222" stroke-width="1" />
<rect x="613.50" y="596.70" width="4.7" height="36.10" fill="#6e0008" stroke="#3a0005" stroke-width="0.5"/>
<line x1="615.9" y1="573.2" x2="615.9" y2="620.2" stroke="#222" stroke-width="0.6" />
<line x1="614.6" y1="573.2" x2="617.1" y2="573.2" stroke="#222" stroke-width="0.6" />
<circle cx="615.34" cy="601.72" r="1.1" fill="#fff" stroke="#555" stroke-width="0.5"/>
<circle cx="616.54" cy="632.21" r="1.1" fill="#fff" stroke="#555" stroke-width="0.5"/>
<circle cx="614.90" cy="605.87" r="1.1" fill="#fff" stroke="#555" stroke-width="0.5"/>
<circle cx="615.12" cy="588.35" r="1.1" fill="#fff" stroke="#555" stroke-width="0.5"/>
<circle cx="615.38" cy="599.49" r="1.1" fill="#fff" stroke="#555" stroke-width="0.5"/>
<circle cx="614.89" cy="561.56" r="1.1" fill="#fff" stroke="#555" stroke-width="0.5"/>
<circle cx="614.81" cy="594.11" r="1.1" fill="#fff" stroke="#555" stroke-width="0.5"/>
<circle cx="614.86" cy="626.56" r="1.1" fill="#fff" stroke="#555" stroke-width="0.5"/>
<rect x="619.65" y="594.64" width="4.7" height="38.16" fill="#e86868" stroke="#a04848" stroke-width="0.5"/>
<line x1="622.0" y1="587.3" x2="622.0" y2="602.0" stroke="#222" stroke-width="0.6" />
<line x1="620.7" y1="587.3" x2="623.3" y2="587.3" stroke="#222" stroke-width="0.6" />
<circle cx="622.79" cy="589.93" r="1.1" fill="#fff" stroke="#555" stroke-width="0.5"/>
<circle cx="622.99" cy="589.61" r="1.1" fill="#fff" stroke="#555" stroke-width="0.5"/>
<circle cx="621.84" cy="598.70" r="1.1" fill="#fff" stroke="#555" stroke-width="0.5"/>
<circle cx="621.70" cy="598.09" r="1.1" fill="#fff" stroke="#555" stroke-width="0.5"/>
<circle cx="622.19" cy="595.21" r="1.1" fill="#fff" stroke="#555" stroke-width="0.5"/>
<circle cx="622.72" cy="593.63" r="1.1" fill="#fff" stroke="#555" stroke-width="0.5"/>
<circle cx="622.07" cy="595.12" r="1.1" fill="#fff" stroke="#555" stroke-width="0.5"/>
<circle cx="621.28" cy="597.89" r="1.1" fill="#fff" stroke="#555" stroke-width="0.5"/>
<rect x="625.80" y="543.58" width="4.7" height="89.22" fill="#a88484" stroke="#6a5050" stroke-width="0.5"/>
<line x1="628.1" y1="534.8" x2="628.1" y2="552.4" stroke="#222" stroke-width="0.6" />
<line x1="626.9" y1="534.8" x2="629.4" y2="534.8" stroke="#222" stroke-width="0.6" />
<circle cx="629.11" cy="545.99" r="1.1" fill="#fff" stroke="#555" stroke-width="0.5"/>
<circle cx="628.80" cy="552.84" r="1.1" fill="#fff" stroke="#555" stroke-width="0.5"/>
<circle cx="629.06" cy="537.91" r="1.1" fill="#fff" stroke="#555" stroke-width="0.5"/>
<circle cx="628.06" cy="538.38" r="1.1" fill="#fff" stroke="#555" stroke-width="0.5"/>
<circle cx="628.74" cy="552.28" r="1.1" fill="#fff" stroke="#555" stroke-width="0.5"/>
<circle cx="629.11" cy="539.76" r="1.1" fill="#fff" stroke="#555" stroke-width="0.5"/>
<circle cx="628.36" cy="566.37" r="1.1" fill="#fff" stroke="#555" stroke-width="0.5"/>
<circle cx="627.28" cy="548.31" r="1.1" fill="#fff" stroke="#555" stroke-width="0.5"/>
<line x1="621.8" y1="632.8" x2="621.8" y2="635.8" stroke="#222" stroke-width="1" />
<line x1="347.4" y1="633.3" x2="347.4" y2="514.9" stroke="#222" stroke-width="1.3" />
<line x1="346.3" y1="632.8" x2="633.5" y2="632.8" stroke="#222" stroke-width="1.3" />
<text x="362.0" y="643.8" font-size="9.3" fill="#222" text-anchor="end" transform="rotate(-45 362.0 643.8)">MFR</text>
<text x="383.9" y="643.8" font-size="9.3" fill="#222" text-anchor="end" transform="rotate(-45 383.9 643.8)">NBR</text>
<text x="405.9" y="643.8" font-size="9.3" fill="#222" text-anchor="end" transform="rotate(-45 405.9 643.8)">NBD</text>
<text x="427.9" y="643.8" font-size="9.3" fill="#222" text-anchor="end" transform="rotate(-45 427.9 643.8)">PSIB</text>
<text x="449.8" y="643.8" font-size="9.3" fill="#222" text-anchor="end" transform="rotate(-45 449.8 643.8)">#FBs</text>
<text x="471.8" y="643.8" font-size="9.3" fill="#222" text-anchor="end" transform="rotate(-45 471.8 643.8)">CV<tspan font-size="6.3" dy="1.8">ISI</tspan></text>
<text x="493.7" y="643.8" font-size="9.3" fill="#222" text-anchor="end" transform="rotate(-45 493.7 643.8)">mean CC</text>
<text x="515.6" y="643.8" font-size="9.3" fill="#222" text-anchor="end" transform="rotate(-45 515.6 643.8)">sd CC</text>
<text x="537.6" y="643.8" font-size="9.3" fill="#222" text-anchor="end" transform="rotate(-45 537.6 643.8)">ISI dist</text>
<text x="559.5" y="643.8" font-size="9.3" fill="#222" text-anchor="end" transform="rotate(-45 559.5 643.8)">mean ISI</text>
<text x="581.5" y="643.8" font-size="9.3" fill="#222" text-anchor="end" transform="rotate(-45 581.5 643.8)">sd ISI temp</text>
<text x="603.4" y="643.8" font-size="9.3" fill="#222" text-anchor="end" transform="rotate(-45 603.4 643.8)">sd ISI elec</text>
<text x="625.4" y="643.8" font-size="9.3" fill="#222" text-anchor="end" transform="rotate(-45 625.4 643.8)">MAC</text>
<text x="484.0" y="684.0" font-size="10.5" text-anchor="middle" fill="#222" font-weight="normal" font-style="normal" >MEA features</text>
</svg></body></html>
